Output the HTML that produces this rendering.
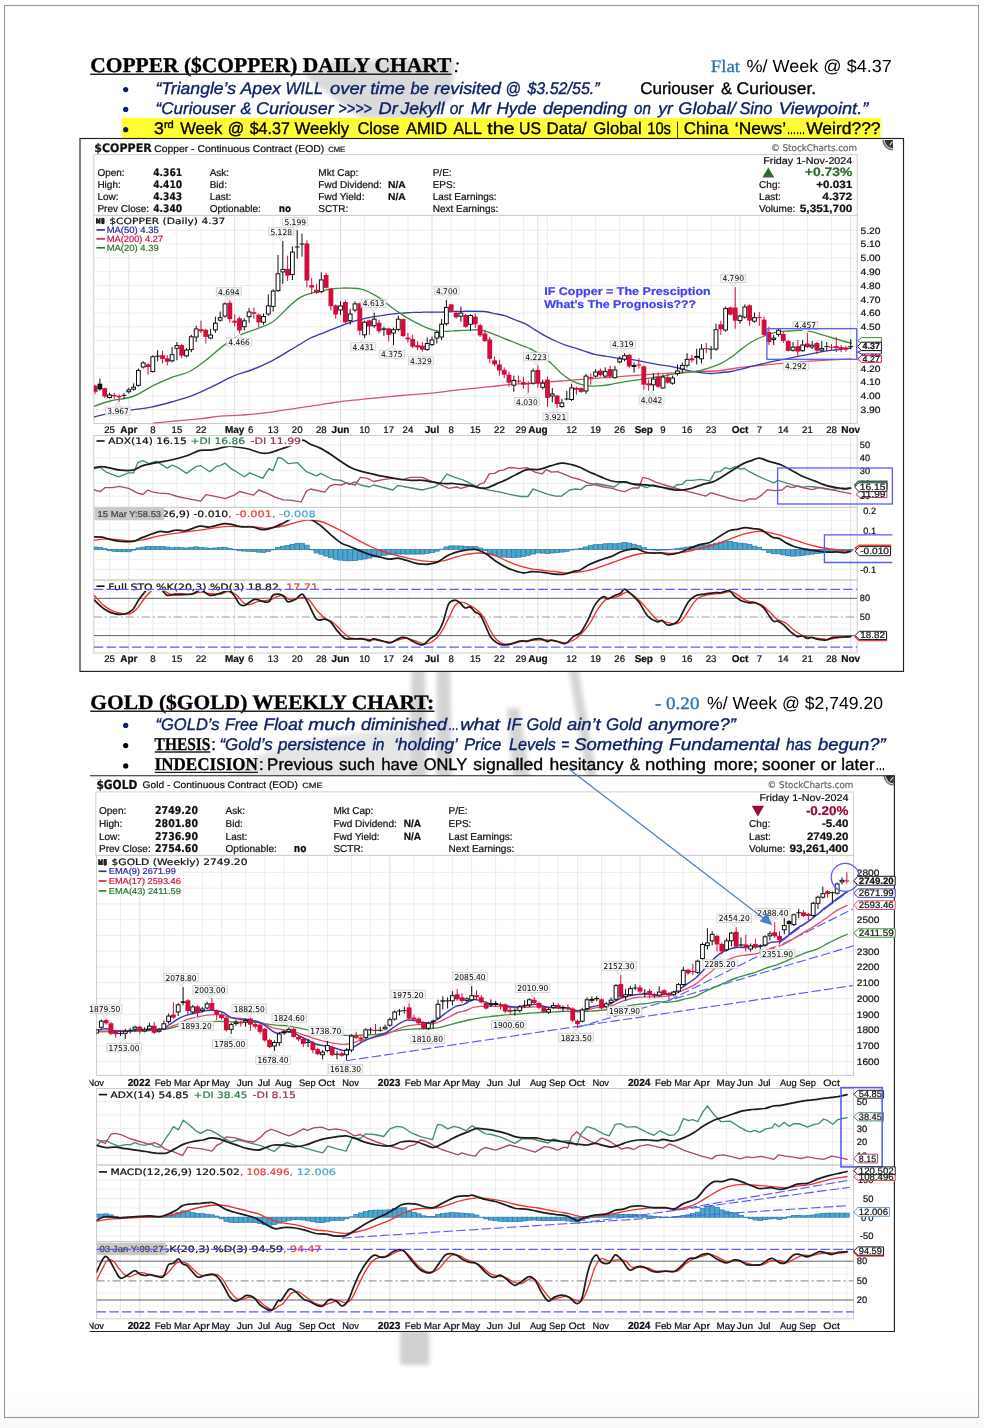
<!DOCTYPE html>
<html lang="en"><head><meta charset="utf-8"><title>Copper &amp; Gold Charts</title>
<style>
html,body{margin:0;padding:0;background:#fff;}
body{width:984px;height:1428px;overflow:hidden;font-family:"Liberation Sans",sans-serif;}
svg{display:block;}
</style></head><body>
<svg width="984" height="1428" viewBox="0 0 984 1428" text-rendering="geometricPrecision">
<rect x="0" y="0" width="984" height="1428" fill="#ffffff" />
<defs><linearGradient id="pg" x1="0" y1="0" x2="0" y2="1"><stop offset="0" stop-color="#fff"/><stop offset="1" stop-color="#f9f9f9"/></linearGradient><filter id="bl" x="-20%" y="-20%" width="140%" height="140%"><feGaussianBlur stdDeviation="2.2"/></filter><filter id="soft" x="-2%" y="-2%" width="104%" height="104%"><feGaussianBlur stdDeviation="0.25"/></filter><clipPath id="cuP"><rect x="93.8" y="215.4" width="763.4" height="208.1"/></clipPath><clipPath id="cuA"><rect x="93.8" y="435.5" width="763.4" height="71.9"/></clipPath><clipPath id="cuM"><rect x="93.8" y="507.4" width="763.4" height="72.6"/></clipPath><clipPath id="cuS"><rect x="93.8" y="580" width="763.4" height="73"/></clipPath><clipPath id="auP"><rect x="96.6" y="855.4" width="757" height="220"/></clipPath><clipPath id="auA"><rect x="96.6" y="1088.5" width="763.5" height="76.5"/></clipPath><clipPath id="auM"><rect x="96.6" y="1165" width="763.5" height="76.5"/></clipPath><clipPath id="auS"><rect x="96.6" y="1241.5" width="763.5" height="77.3"/></clipPath><clipPath id="auAll"><rect x="89.5" y="775" width="806" height="558"/></clipPath></defs>
<rect x="0" y="1392" width="984" height="36" fill="url(#pg)" />
<rect x="4.5" y="5.5" width="974" height="1412" fill="none" stroke="#989898" stroke-width="1.1" />
<g filter="url(#bl)" fill="#cbcbcb"><path d="M305,76 L335,60 L455,60 L452,100 L420,120 L360,118 Z" opacity="0.7"/><path d="M411.5,666 L425,666 L427,780 L409,780 Z" opacity="0.85"/><path d="M437,666 L450,666 L452,780 L436,780 Z" opacity="0.85"/><path d="M507,708 L519,708 L531,780 L513,780 Z" opacity="0.8"/><path d="M568,666 L578,666 L597.5,780 L587,780 Z" opacity="0.8"/><path d="M225,778 C250,752 300,734 408,730 L408,778 Z" opacity="0.5"/><rect x="400" y="1330" width="29.5" height="35" rx="3" opacity="0.9"/></g>
<text x="90.2" y="71.6" font-size="21" fill="#000" font-family="'Liberation Serif',serif" font-weight="bold" textLength="361.2" lengthAdjust="spacingAndGlyphs" stroke="#000" stroke-width="0.35">COPPER ($COPPER) DAILY CHART</text>
<line x1="90.2" y1="74.3" x2="451.6" y2="74.3" stroke="#222" stroke-width="1.6" />
<text x="453.5" y="71.6" font-size="21" fill="#000" font-family="'Liberation Serif',serif" font-style="italic">:</text>
<text x="710.7" y="71.6" font-size="17.5" fill="#2e75b6" font-family="'Liberation Serif',serif" textLength="29.4" lengthAdjust="spacingAndGlyphs" stroke="#2e75b6" stroke-width="0.3">Flat</text>
<text x="746.5" y="71.6" font-size="17.6" fill="#000" font-family="'Liberation Sans',sans-serif" textLength="145.3" lengthAdjust="spacingAndGlyphs">%/ Week @ $4.37</text>
<circle cx="125.7" cy="89.6" r="2.6" fill="#0d2266"/>
<text x="155.5" y="93.8" font-size="16.8" fill="#0d2266" font-family="'Liberation Sans',sans-serif" stroke="#0d2266" stroke-width="0.35" font-style="italic" textLength="80.5" lengthAdjust="spacingAndGlyphs">“Triangle’s</text><text x="240.5" y="93.8" font-size="16.8" fill="#0d2266" font-family="'Liberation Sans',sans-serif" stroke="#0d2266" stroke-width="0.35" font-style="italic" textLength="40.3" lengthAdjust="spacingAndGlyphs">Apex</text><text x="285.4" y="93.8" font-size="16.8" fill="#0d2266" font-family="'Liberation Sans',sans-serif" stroke="#0d2266" stroke-width="0.35" font-style="italic" textLength="37.5" lengthAdjust="spacingAndGlyphs">WILL</text><text x="330" y="93.8" font-size="16.8" fill="#0d2266" font-family="'Liberation Sans',sans-serif" stroke="#0d2266" stroke-width="0.35" font-style="italic" textLength="35.7" lengthAdjust="spacingAndGlyphs">over</text><text x="370.2" y="93.8" font-size="16.8" fill="#0d2266" font-family="'Liberation Sans',sans-serif" stroke="#0d2266" stroke-width="0.35" font-style="italic" textLength="34.8" lengthAdjust="spacingAndGlyphs">time</text><text x="410.5" y="93.8" font-size="16.8" fill="#0d2266" font-family="'Liberation Sans',sans-serif" stroke="#0d2266" stroke-width="0.35" font-style="italic" textLength="18.3" lengthAdjust="spacingAndGlyphs">be</text><text x="434.3" y="93.8" font-size="16.8" fill="#0d2266" font-family="'Liberation Sans',sans-serif" stroke="#0d2266" stroke-width="0.35" font-style="italic" textLength="66.7" lengthAdjust="spacingAndGlyphs">revisited</text><text x="505.6" y="93.8" font-size="16.8" fill="#0d2266" font-family="'Liberation Sans',sans-serif" stroke="#0d2266" stroke-width="0.35" font-style="italic" textLength="15.4" lengthAdjust="spacingAndGlyphs">@</text><text x="527.4" y="93.8" font-size="16.8" fill="#0d2266" font-family="'Liberation Sans',sans-serif" stroke="#0d2266" stroke-width="0.35" font-style="italic" textLength="72.2" lengthAdjust="spacingAndGlyphs">$3.52/55.”</text>
<text x="640.2" y="93.8" font-size="16.8" fill="#000" font-family="'Liberation Sans',sans-serif" stroke="#000" stroke-width="0.35" textLength="73.6" lengthAdjust="spacingAndGlyphs">Curiouser</text><text x="721.1" y="93.8" font-size="16.8" fill="#000" font-family="'Liberation Sans',sans-serif" stroke="#000" stroke-width="0.35" textLength="11" lengthAdjust="spacingAndGlyphs">&amp;</text><text x="736.6" y="93.8" font-size="16.8" fill="#000" font-family="'Liberation Sans',sans-serif" stroke="#000" stroke-width="0.35" textLength="79.6" lengthAdjust="spacingAndGlyphs">Curiouser.</text>
<circle cx="125.7" cy="109.4" r="2.6" fill="#0d2266"/>
<text x="155.5" y="113.6" font-size="16.8" fill="#0d2266" font-family="'Liberation Sans',sans-serif" stroke="#0d2266" stroke-width="0.35" font-style="italic" textLength="79.6" lengthAdjust="spacingAndGlyphs">“Curiouser</text><text x="240.5" y="113.6" font-size="16.8" fill="#0d2266" font-family="'Liberation Sans',sans-serif" stroke="#0d2266" stroke-width="0.35" font-style="italic" textLength="11" lengthAdjust="spacingAndGlyphs">&amp;</text><text x="256.1" y="113.6" font-size="16.8" fill="#0d2266" font-family="'Liberation Sans',sans-serif" stroke="#0d2266" stroke-width="0.35" font-style="italic" textLength="77.6" lengthAdjust="spacingAndGlyphs">Curiouser</text><text x="338.2" y="113.6" font-size="16.8" fill="#0d2266" font-family="'Liberation Sans',sans-serif" stroke="#0d2266" stroke-width="0.35" font-style="italic" textLength="33.9" lengthAdjust="spacingAndGlyphs">&gt;&gt;&gt;&gt;</text><text x="378.5" y="113.6" font-size="16.8" fill="#0d2266" font-family="'Liberation Sans',sans-serif" stroke="#0d2266" stroke-width="0.35" font-style="italic" textLength="19.2" lengthAdjust="spacingAndGlyphs">Dr</text><text x="400.4" y="113.6" font-size="16.8" fill="#0d2266" font-family="'Liberation Sans',sans-serif" stroke="#0d2266" stroke-width="0.35" font-style="italic" textLength="43.9" lengthAdjust="spacingAndGlyphs">Jekyll</text><text x="449.8" y="113.6" font-size="16.8" fill="#0d2266" font-family="'Liberation Sans',sans-serif" stroke="#0d2266" stroke-width="0.35" font-style="italic" textLength="13.7" lengthAdjust="spacingAndGlyphs">or</text><text x="470.8" y="113.6" font-size="16.8" fill="#0d2266" font-family="'Liberation Sans',sans-serif" stroke="#0d2266" stroke-width="0.35" font-style="italic" textLength="20.2" lengthAdjust="spacingAndGlyphs">Mr</text><text x="496.4" y="113.6" font-size="16.8" fill="#0d2266" font-family="'Liberation Sans',sans-serif" stroke="#0d2266" stroke-width="0.35" font-style="italic" textLength="40.1" lengthAdjust="spacingAndGlyphs">Hyde</text><text x="542.9" y="113.6" font-size="16.8" fill="#0d2266" font-family="'Liberation Sans',sans-serif" stroke="#0d2266" stroke-width="0.35" font-style="italic" textLength="84.2" lengthAdjust="spacingAndGlyphs">depending</text><text x="634" y="113.6" font-size="16.8" fill="#0d2266" font-family="'Liberation Sans',sans-serif" stroke="#0d2266" stroke-width="0.35" font-style="italic" textLength="16.8" lengthAdjust="spacingAndGlyphs">on</text><text x="658.2" y="113.6" font-size="16.8" fill="#0d2266" font-family="'Liberation Sans',sans-serif" stroke="#0d2266" stroke-width="0.35" font-style="italic" textLength="14.6" lengthAdjust="spacingAndGlyphs">yr</text><text x="678.3" y="113.6" font-size="16.8" fill="#0d2266" font-family="'Liberation Sans',sans-serif" stroke="#0d2266" stroke-width="0.35" font-style="italic" textLength="57.4" lengthAdjust="spacingAndGlyphs">Global/</text><text x="739.4" y="113.6" font-size="16.8" fill="#0d2266" font-family="'Liberation Sans',sans-serif" stroke="#0d2266" stroke-width="0.35" font-style="italic" textLength="32.9" lengthAdjust="spacingAndGlyphs">Sino</text><text x="778.7" y="113.6" font-size="16.8" fill="#0d2266" font-family="'Liberation Sans',sans-serif" stroke="#0d2266" stroke-width="0.35" font-style="italic" textLength="89.6" lengthAdjust="spacingAndGlyphs">Viewpoint.”</text>
<rect x="121.9" y="117.8" width="759" height="20.5" fill="#ffff33" />
<circle cx="125.7" cy="129.7" r="2.6" fill="#0d2266"/>
<text x="154" y="133.9" font-size="16.8" fill="#000" font-family="'Liberation Sans',sans-serif" stroke="#000" stroke-width="0.35" textLength="19.8" lengthAdjust="spacingAndGlyphs">3<tspan font-size="10.5" dy="-5.5">rd</tspan></text>
<text x="180.2" y="133.9" font-size="16.8" fill="#000" font-family="'Liberation Sans',sans-serif" stroke="#000" stroke-width="0.35" textLength="42.1" lengthAdjust="spacingAndGlyphs">Week</text><text x="227.7" y="133.9" font-size="16.8" fill="#000" font-family="'Liberation Sans',sans-serif" stroke="#000" stroke-width="0.35" textLength="16.5" lengthAdjust="spacingAndGlyphs">@</text><text x="249.7" y="133.9" font-size="16.8" fill="#000" font-family="'Liberation Sans',sans-serif" stroke="#000" stroke-width="0.35" textLength="40.2" lengthAdjust="spacingAndGlyphs">$4.37</text><text x="294.5" y="133.9" font-size="16.8" fill="#000" font-family="'Liberation Sans',sans-serif" stroke="#000" stroke-width="0.35" textLength="54.7" lengthAdjust="spacingAndGlyphs">Weekly</text><text x="357.4" y="133.9" font-size="16.8" fill="#000" font-family="'Liberation Sans',sans-serif" stroke="#000" stroke-width="0.35" textLength="42.1" lengthAdjust="spacingAndGlyphs">Close</text><text x="405.9" y="133.9" font-size="16.8" fill="#000" font-family="'Liberation Sans',sans-serif" stroke="#000" stroke-width="0.35" textLength="41.2" lengthAdjust="spacingAndGlyphs">AMID</text><text x="453.5" y="133.9" font-size="16.8" fill="#000" font-family="'Liberation Sans',sans-serif" stroke="#000" stroke-width="0.35" textLength="28.3" lengthAdjust="spacingAndGlyphs">ALL</text><text x="487.3" y="133.9" font-size="16.8" fill="#000" font-family="'Liberation Sans',sans-serif" stroke="#000" stroke-width="0.35" textLength="27.3" lengthAdjust="spacingAndGlyphs">the</text><text x="519.1" y="133.9" font-size="16.8" fill="#000" font-family="'Liberation Sans',sans-serif" stroke="#000" stroke-width="0.35" textLength="22" lengthAdjust="spacingAndGlyphs">US</text><text x="546.6" y="133.9" font-size="16.8" fill="#000" font-family="'Liberation Sans',sans-serif" stroke="#000" stroke-width="0.35" textLength="40.2" lengthAdjust="spacingAndGlyphs">Data/</text><text x="593.2" y="133.9" font-size="16.8" fill="#000" font-family="'Liberation Sans',sans-serif" stroke="#000" stroke-width="0.35" textLength="48.5" lengthAdjust="spacingAndGlyphs">Global</text><text x="647.2" y="133.9" font-size="16.8" fill="#000" font-family="'Liberation Sans',sans-serif" stroke="#000" stroke-width="0.35" textLength="23.8" lengthAdjust="spacingAndGlyphs">10s</text><text x="676.6" y="133.9" font-size="16.8" fill="#000" font-family="'Liberation Sans',sans-serif" stroke="#000" stroke-width="0.35" textLength="2.2" lengthAdjust="spacingAndGlyphs">|</text><text x="683.8" y="133.9" font-size="16.8" fill="#000" font-family="'Liberation Sans',sans-serif" stroke="#000" stroke-width="0.35" textLength="44.6" lengthAdjust="spacingAndGlyphs">China</text><text x="734.8" y="133.9" font-size="16.8" fill="#000" font-family="'Liberation Sans',sans-serif" stroke="#000" stroke-width="0.35" textLength="51.2" lengthAdjust="spacingAndGlyphs">‘News’</text><text x="787" y="133.9" font-size="16.8" fill="#000" font-family="'Liberation Sans',sans-serif" stroke="#000" stroke-width="0.35" textLength="18.2" lengthAdjust="spacingAndGlyphs">……</text><text x="806.2" y="133.9" font-size="16.8" fill="#000" font-family="'Liberation Sans',sans-serif" stroke="#000" stroke-width="0.35" textLength="74.4" lengthAdjust="spacingAndGlyphs">Weird???</text>
<g id="copper"><g filter="url(#soft)"><rect x="80" y="138.5" width="823.5" height="532.9" fill="#fff" stroke="#222" stroke-width="1.15" />
<path d="M882.4,140 A10.6,10.6 0 0 0 893,150.6 L893,140 Z" fill="#747474"/><path d="M884,140 A9,9 0 0 0 893,149 L893,140 Z" fill="#e8e8e8"/><path d="M884.8,140 A8.2,8.2 0 0 0 893,148.2 L893,140 Z" fill="#303030"/><path d="M892.4,141.6 l-2.6,3.6" stroke="#eee" stroke-width="1.1" fill="none"/>
<text x="94.3" y="151.8" font-size="11.8" fill="#111" font-family="'DejaVu Sans','Liberation Sans',sans-serif" font-weight="bold" textLength="57.4" lengthAdjust="spacingAndGlyphs" stroke="#111" stroke-width="0.22">$COPPER</text>
<text x="154.2" y="151.6" font-size="9.8" fill="#111" font-family="'Liberation Sans',sans-serif" textLength="170" lengthAdjust="spacingAndGlyphs" stroke="#111" stroke-width="0.22">Copper - Continuous Contract (EOD)</text>
<text x="328.2" y="151.6" font-size="7.6" fill="#111" font-family="'Liberation Sans',sans-serif" textLength="17" lengthAdjust="spacingAndGlyphs" stroke="#111" stroke-width="0.22">CME</text>
<text x="771" y="151.3" font-size="9.2" fill="#666" font-family="'DejaVu Sans','Liberation Sans',sans-serif" textLength="86" lengthAdjust="spacingAndGlyphs" stroke="#666" stroke-width="0.22">© StockCharts.com</text>
<rect x="93.8" y="154.6" width="763.4" height="60.8" fill="#fff" stroke="#cfcfcf" stroke-width="1" />
<text x="97.4" y="175.8" font-size="10" fill="#111" font-family="'Liberation Sans',sans-serif" stroke="#111" stroke-width="0.22">Open:</text>
<text x="153.2" y="175.8" font-size="10.4" fill="#111" font-family="'DejaVu Sans','Liberation Sans',sans-serif" font-weight="bold" textLength="29" lengthAdjust="spacingAndGlyphs" stroke="#111" stroke-width="0.22">4.361</text>
<text x="97.4" y="188.1" font-size="10" fill="#111" font-family="'Liberation Sans',sans-serif" stroke="#111" stroke-width="0.22">High:</text>
<text x="153.2" y="188.1" font-size="10.4" fill="#111" font-family="'DejaVu Sans','Liberation Sans',sans-serif" font-weight="bold" textLength="29" lengthAdjust="spacingAndGlyphs" stroke="#111" stroke-width="0.22">4.410</text>
<text x="97.4" y="200" font-size="10" fill="#111" font-family="'Liberation Sans',sans-serif" stroke="#111" stroke-width="0.22">Low:</text>
<text x="153.2" y="200" font-size="10.4" fill="#111" font-family="'DejaVu Sans','Liberation Sans',sans-serif" font-weight="bold" textLength="29" lengthAdjust="spacingAndGlyphs" stroke="#111" stroke-width="0.22">4.343</text>
<text x="97.4" y="212.1" font-size="10" fill="#111" font-family="'Liberation Sans',sans-serif" stroke="#111" stroke-width="0.22">Prev Close:</text>
<text x="153.2" y="212.1" font-size="10.4" fill="#111" font-family="'DejaVu Sans','Liberation Sans',sans-serif" font-weight="bold" textLength="29" lengthAdjust="spacingAndGlyphs" stroke="#111" stroke-width="0.22">4.340</text>
<text x="209.7" y="175.8" font-size="10" fill="#111" font-family="'Liberation Sans',sans-serif" stroke="#111" stroke-width="0.22">Ask:</text>
<text x="209.7" y="188.1" font-size="10" fill="#111" font-family="'Liberation Sans',sans-serif" stroke="#111" stroke-width="0.22">Bid:</text>
<text x="209.7" y="200" font-size="10" fill="#111" font-family="'Liberation Sans',sans-serif" stroke="#111" stroke-width="0.22">Last:</text>
<text x="209.7" y="212.1" font-size="10" fill="#111" font-family="'Liberation Sans',sans-serif" stroke="#111" stroke-width="0.22">Optionable:</text>
<text x="278.7" y="212.1" font-size="10.4" fill="#111" font-family="'DejaVu Sans','Liberation Sans',sans-serif" font-weight="bold" textLength="12.3" lengthAdjust="spacingAndGlyphs" stroke="#111" stroke-width="0.22">no</text>
<text x="318.3" y="175.8" font-size="10" fill="#111" font-family="'Liberation Sans',sans-serif" stroke="#111" stroke-width="0.22">Mkt Cap:</text>
<text x="318.3" y="188.1" font-size="10" fill="#111" font-family="'Liberation Sans',sans-serif" stroke="#111" stroke-width="0.22">Fwd Dividend:</text>
<text x="318.3" y="200" font-size="10" fill="#111" font-family="'Liberation Sans',sans-serif" stroke="#111" stroke-width="0.22">Fwd Yield:</text>
<text x="318.3" y="212.1" font-size="10" fill="#111" font-family="'Liberation Sans',sans-serif" stroke="#111" stroke-width="0.22">SCTR:</text>
<text x="388.1" y="188.1" font-size="10" fill="#111" font-family="'Liberation Sans',sans-serif" font-weight="bold" textLength="17.7" lengthAdjust="spacingAndGlyphs" stroke="#111" stroke-width="0.22">N/A</text>
<text x="388.1" y="200" font-size="10" fill="#111" font-family="'Liberation Sans',sans-serif" font-weight="bold" textLength="17.7" lengthAdjust="spacingAndGlyphs" stroke="#111" stroke-width="0.22">N/A</text>
<text x="432.7" y="175.8" font-size="10" fill="#111" font-family="'Liberation Sans',sans-serif" stroke="#111" stroke-width="0.22">P/E:</text>
<text x="432.7" y="188.1" font-size="10" fill="#111" font-family="'Liberation Sans',sans-serif" stroke="#111" stroke-width="0.22">EPS:</text>
<text x="432.7" y="200" font-size="10" fill="#111" font-family="'Liberation Sans',sans-serif" stroke="#111" stroke-width="0.22">Last Earnings:</text>
<text x="432.7" y="212.1" font-size="10" fill="#111" font-family="'Liberation Sans',sans-serif" stroke="#111" stroke-width="0.22">Next Earnings:</text>
<text x="852.3" y="164" font-size="9.8" fill="#111" font-family="'Liberation Sans',sans-serif" text-anchor="end" textLength="89" lengthAdjust="spacingAndGlyphs" stroke="#111" stroke-width="0.22">Friday  1-Nov-2024</text>
<path d="M762.3,177.6 L768.3,167.4 L774.3,177.6 Z" fill="#2f6b32"/>
<text x="852.3" y="176.4" font-size="12.2" fill="#2f6b32" font-family="'Liberation Sans',sans-serif" font-weight="bold" text-anchor="end" textLength="47.5" lengthAdjust="spacingAndGlyphs" stroke="#2f6b32" stroke-width="0.22">+0.73%</text>
<text x="759.1" y="188.1" font-size="10" fill="#111" font-family="'Liberation Sans',sans-serif" stroke="#111" stroke-width="0.22">Chg:</text>
<text x="852.3" y="188.1" font-size="10.6" fill="#111" font-family="'Liberation Sans',sans-serif" font-weight="bold" text-anchor="end" textLength="36" lengthAdjust="spacingAndGlyphs" stroke="#111" stroke-width="0.22">+0.031</text>
<text x="759.1" y="200" font-size="10" fill="#111" font-family="'Liberation Sans',sans-serif" stroke="#111" stroke-width="0.22">Last:</text>
<text x="852.3" y="200" font-size="10.6" fill="#111" font-family="'Liberation Sans',sans-serif" font-weight="bold" text-anchor="end" textLength="30" lengthAdjust="spacingAndGlyphs" stroke="#111" stroke-width="0.22">4.372</text>
<text x="759.1" y="212.1" font-size="10" fill="#111" font-family="'Liberation Sans',sans-serif" stroke="#111" stroke-width="0.22">Volume:</text>
<text x="852.3" y="212.1" font-size="10.6" fill="#111" font-family="'Liberation Sans',sans-serif" font-weight="bold" text-anchor="end" textLength="52.5" lengthAdjust="spacingAndGlyphs" stroke="#111" stroke-width="0.22">5,351,700</text>
<rect x="93.8" y="215.4" width="763.4" height="208.1" fill="#fff" />
<rect x="93.8" y="435.5" width="763.4" height="71.9" fill="#fff" />
<rect x="93.8" y="507.4" width="763.4" height="72.6" fill="#fff" />
<rect x="93.8" y="580" width="763.4" height="73" fill="#fff" />
</g><g><g><line x1="109.5" y1="215.4" x2="109.5" y2="423.5" stroke="#e7e7e7" stroke-width="0.8" /><line x1="109.5" y1="435.5" x2="109.5" y2="653" stroke="#e7e7e7" stroke-width="0.8" /><line x1="128.8" y1="215.4" x2="128.8" y2="423.5" stroke="#d4d4d4" stroke-width="0.8" /><line x1="128.8" y1="435.5" x2="128.8" y2="653" stroke="#d4d4d4" stroke-width="0.8" /><line x1="152.8" y1="215.4" x2="152.8" y2="423.5" stroke="#e7e7e7" stroke-width="0.8" /><line x1="152.8" y1="435.5" x2="152.8" y2="653" stroke="#e7e7e7" stroke-width="0.8" /><line x1="176.9" y1="215.4" x2="176.9" y2="423.5" stroke="#e7e7e7" stroke-width="0.8" /><line x1="176.9" y1="435.5" x2="176.9" y2="653" stroke="#e7e7e7" stroke-width="0.8" /><line x1="201" y1="215.4" x2="201" y2="423.5" stroke="#e7e7e7" stroke-width="0.8" /><line x1="201" y1="435.5" x2="201" y2="653" stroke="#e7e7e7" stroke-width="0.8" /><line x1="225" y1="215.4" x2="225" y2="423.5" stroke="#e7e7e7" stroke-width="0.8" /><line x1="225" y1="435.5" x2="225" y2="653" stroke="#e7e7e7" stroke-width="0.8" /><line x1="234.7" y1="215.4" x2="234.7" y2="423.5" stroke="#d4d4d4" stroke-width="0.8" /><line x1="234.7" y1="435.5" x2="234.7" y2="653" stroke="#d4d4d4" stroke-width="0.8" /><line x1="249.1" y1="215.4" x2="249.1" y2="423.5" stroke="#e7e7e7" stroke-width="0.8" /><line x1="249.1" y1="435.5" x2="249.1" y2="653" stroke="#e7e7e7" stroke-width="0.8" /><line x1="273.2" y1="215.4" x2="273.2" y2="423.5" stroke="#e7e7e7" stroke-width="0.8" /><line x1="273.2" y1="435.5" x2="273.2" y2="653" stroke="#e7e7e7" stroke-width="0.8" /><line x1="297.2" y1="215.4" x2="297.2" y2="423.5" stroke="#e7e7e7" stroke-width="0.8" /><line x1="297.2" y1="435.5" x2="297.2" y2="653" stroke="#e7e7e7" stroke-width="0.8" /><line x1="321.3" y1="215.4" x2="321.3" y2="423.5" stroke="#e7e7e7" stroke-width="0.8" /><line x1="321.3" y1="435.5" x2="321.3" y2="653" stroke="#e7e7e7" stroke-width="0.8" /><line x1="340.5" y1="215.4" x2="340.5" y2="423.5" stroke="#d4d4d4" stroke-width="0.8" /><line x1="340.5" y1="435.5" x2="340.5" y2="653" stroke="#d4d4d4" stroke-width="0.8" /><line x1="364.6" y1="215.4" x2="364.6" y2="423.5" stroke="#e7e7e7" stroke-width="0.8" /><line x1="364.6" y1="435.5" x2="364.6" y2="653" stroke="#e7e7e7" stroke-width="0.8" /><line x1="388.7" y1="215.4" x2="388.7" y2="423.5" stroke="#e7e7e7" stroke-width="0.8" /><line x1="388.7" y1="435.5" x2="388.7" y2="653" stroke="#e7e7e7" stroke-width="0.8" /><line x1="407.9" y1="215.4" x2="407.9" y2="423.5" stroke="#e7e7e7" stroke-width="0.8" /><line x1="407.9" y1="435.5" x2="407.9" y2="653" stroke="#e7e7e7" stroke-width="0.8" /><line x1="432" y1="215.4" x2="432" y2="423.5" stroke="#d4d4d4" stroke-width="0.8" /><line x1="432" y1="435.5" x2="432" y2="653" stroke="#d4d4d4" stroke-width="0.8" /><line x1="451.2" y1="215.4" x2="451.2" y2="423.5" stroke="#e7e7e7" stroke-width="0.8" /><line x1="451.2" y1="435.5" x2="451.2" y2="653" stroke="#e7e7e7" stroke-width="0.8" /><line x1="475.3" y1="215.4" x2="475.3" y2="423.5" stroke="#e7e7e7" stroke-width="0.8" /><line x1="475.3" y1="435.5" x2="475.3" y2="653" stroke="#e7e7e7" stroke-width="0.8" /><line x1="499.4" y1="215.4" x2="499.4" y2="423.5" stroke="#e7e7e7" stroke-width="0.8" /><line x1="499.4" y1="435.5" x2="499.4" y2="653" stroke="#e7e7e7" stroke-width="0.8" /><line x1="523.4" y1="215.4" x2="523.4" y2="423.5" stroke="#e7e7e7" stroke-width="0.8" /><line x1="523.4" y1="435.5" x2="523.4" y2="653" stroke="#e7e7e7" stroke-width="0.8" /><line x1="537.9" y1="215.4" x2="537.9" y2="423.5" stroke="#d4d4d4" stroke-width="0.8" /><line x1="537.9" y1="435.5" x2="537.9" y2="653" stroke="#d4d4d4" stroke-width="0.8" /><line x1="547.5" y1="215.4" x2="547.5" y2="423.5" stroke="#e7e7e7" stroke-width="0.8" /><line x1="547.5" y1="435.5" x2="547.5" y2="653" stroke="#e7e7e7" stroke-width="0.8" /><line x1="571.6" y1="215.4" x2="571.6" y2="423.5" stroke="#e7e7e7" stroke-width="0.8" /><line x1="571.6" y1="435.5" x2="571.6" y2="653" stroke="#e7e7e7" stroke-width="0.8" /><line x1="595.6" y1="215.4" x2="595.6" y2="423.5" stroke="#e7e7e7" stroke-width="0.8" /><line x1="595.6" y1="435.5" x2="595.6" y2="653" stroke="#e7e7e7" stroke-width="0.8" /><line x1="619.7" y1="215.4" x2="619.7" y2="423.5" stroke="#e7e7e7" stroke-width="0.8" /><line x1="619.7" y1="435.5" x2="619.7" y2="653" stroke="#e7e7e7" stroke-width="0.8" /><line x1="643.8" y1="215.4" x2="643.8" y2="423.5" stroke="#d4d4d4" stroke-width="0.8" /><line x1="643.8" y1="435.5" x2="643.8" y2="653" stroke="#d4d4d4" stroke-width="0.8" /><line x1="663" y1="215.4" x2="663" y2="423.5" stroke="#e7e7e7" stroke-width="0.8" /><line x1="663" y1="435.5" x2="663" y2="653" stroke="#e7e7e7" stroke-width="0.8" /><line x1="687.1" y1="215.4" x2="687.1" y2="423.5" stroke="#e7e7e7" stroke-width="0.8" /><line x1="687.1" y1="435.5" x2="687.1" y2="653" stroke="#e7e7e7" stroke-width="0.8" /><line x1="711.1" y1="215.4" x2="711.1" y2="423.5" stroke="#e7e7e7" stroke-width="0.8" /><line x1="711.1" y1="435.5" x2="711.1" y2="653" stroke="#e7e7e7" stroke-width="0.8" /><line x1="735.2" y1="215.4" x2="735.2" y2="423.5" stroke="#e7e7e7" stroke-width="0.8" /><line x1="735.2" y1="435.5" x2="735.2" y2="653" stroke="#e7e7e7" stroke-width="0.8" /><line x1="740" y1="215.4" x2="740" y2="423.5" stroke="#d4d4d4" stroke-width="0.8" /><line x1="740" y1="435.5" x2="740" y2="653" stroke="#d4d4d4" stroke-width="0.8" /><line x1="759.3" y1="215.4" x2="759.3" y2="423.5" stroke="#e7e7e7" stroke-width="0.8" /><line x1="759.3" y1="435.5" x2="759.3" y2="653" stroke="#e7e7e7" stroke-width="0.8" /><line x1="783.3" y1="215.4" x2="783.3" y2="423.5" stroke="#e7e7e7" stroke-width="0.8" /><line x1="783.3" y1="435.5" x2="783.3" y2="653" stroke="#e7e7e7" stroke-width="0.8" /><line x1="807.4" y1="215.4" x2="807.4" y2="423.5" stroke="#e7e7e7" stroke-width="0.8" /><line x1="807.4" y1="435.5" x2="807.4" y2="653" stroke="#e7e7e7" stroke-width="0.8" /><line x1="831.5" y1="215.4" x2="831.5" y2="423.5" stroke="#e7e7e7" stroke-width="0.8" /><line x1="831.5" y1="435.5" x2="831.5" y2="653" stroke="#e7e7e7" stroke-width="0.8" /><line x1="850.7" y1="215.4" x2="850.7" y2="423.5" stroke="#d4d4d4" stroke-width="0.8" /><line x1="850.7" y1="435.5" x2="850.7" y2="653" stroke="#d4d4d4" stroke-width="0.8" /><line x1="93.8" y1="230.3" x2="857.2" y2="230.3" stroke="#e7e7e7" stroke-width="0.8" /><line x1="93.8" y1="244.1" x2="857.2" y2="244.1" stroke="#e7e7e7" stroke-width="0.8" /><line x1="93.8" y1="257.9" x2="857.2" y2="257.9" stroke="#e7e7e7" stroke-width="0.8" /><line x1="93.8" y1="271.7" x2="857.2" y2="271.7" stroke="#e7e7e7" stroke-width="0.8" /><line x1="93.8" y1="285.5" x2="857.2" y2="285.5" stroke="#e7e7e7" stroke-width="0.8" /><line x1="93.8" y1="299.2" x2="857.2" y2="299.2" stroke="#e7e7e7" stroke-width="0.8" /><line x1="93.8" y1="313" x2="857.2" y2="313" stroke="#e7e7e7" stroke-width="0.8" /><line x1="93.8" y1="326.8" x2="857.2" y2="326.8" stroke="#e7e7e7" stroke-width="0.8" /><line x1="93.8" y1="340.6" x2="857.2" y2="340.6" stroke="#e7e7e7" stroke-width="0.8" /><line x1="93.8" y1="354.4" x2="857.2" y2="354.4" stroke="#e7e7e7" stroke-width="0.8" /><line x1="93.8" y1="368.2" x2="857.2" y2="368.2" stroke="#e7e7e7" stroke-width="0.8" /><line x1="93.8" y1="382" x2="857.2" y2="382" stroke="#e7e7e7" stroke-width="0.8" /><line x1="93.8" y1="395.8" x2="857.2" y2="395.8" stroke="#e7e7e7" stroke-width="0.8" /><line x1="93.8" y1="409.6" x2="857.2" y2="409.6" stroke="#e7e7e7" stroke-width="0.8" /><line x1="93.8" y1="445.1" x2="857.2" y2="445.1" stroke="#e7e7e7" stroke-width="0.8" /><line x1="93.8" y1="457.9" x2="857.2" y2="457.9" stroke="#e7e7e7" stroke-width="0.8" /><line x1="93.8" y1="470.6" x2="857.2" y2="470.6" stroke="#e7e7e7" stroke-width="0.8" /><line x1="93.8" y1="483.4" x2="857.2" y2="483.4" stroke="#e7e7e7" stroke-width="0.8" /><line x1="93.8" y1="496.1" x2="857.2" y2="496.1" stroke="#e7e7e7" stroke-width="0.8" /><line x1="93.8" y1="510.8" x2="857.2" y2="510.8" stroke="#e7e7e7" stroke-width="0.8" /><line x1="93.8" y1="520.5" x2="857.2" y2="520.5" stroke="#f0f0f0" stroke-width="0.8" /><line x1="93.8" y1="530.3" x2="857.2" y2="530.3" stroke="#e7e7e7" stroke-width="0.8" /><line x1="93.8" y1="540" x2="857.2" y2="540" stroke="#f0f0f0" stroke-width="0.8" /><line x1="93.8" y1="549.8" x2="857.2" y2="549.8" stroke="#e7e7e7" stroke-width="0.8" /><line x1="93.8" y1="559.5" x2="857.2" y2="559.5" stroke="#f0f0f0" stroke-width="0.8" /><line x1="93.8" y1="569.3" x2="857.2" y2="569.3" stroke="#e7e7e7" stroke-width="0.8" /><line x1="93.8" y1="591.9" x2="857.2" y2="591.9" stroke="#f0f0f0" stroke-width="0.8" /><line x1="93.8" y1="604.4" x2="857.2" y2="604.4" stroke="#f0f0f0" stroke-width="0.8" /><line x1="93.8" y1="610.6" x2="857.2" y2="610.6" stroke="#f0f0f0" stroke-width="0.8" /><line x1="93.8" y1="623" x2="857.2" y2="623" stroke="#f0f0f0" stroke-width="0.8" /><line x1="93.8" y1="629.2" x2="857.2" y2="629.2" stroke="#f0f0f0" stroke-width="0.8" /><line x1="93.8" y1="641.7" x2="857.2" y2="641.7" stroke="#f0f0f0" stroke-width="0.8" /></g>
<rect x="93.8" y="215.4" width="763.4" height="208.1" fill="none" stroke="#cdcdcd" stroke-width="1" />
<rect x="93.8" y="435.5" width="763.4" height="71.9" fill="none" stroke="#cdcdcd" stroke-width="1" />
<rect x="93.8" y="507.4" width="763.4" height="72.6" fill="none" stroke="#cdcdcd" stroke-width="1" />
<rect x="93.8" y="580" width="763.4" height="73" fill="none" stroke="#cdcdcd" stroke-width="1" />
</g><g filter="url(#soft)">
<text x="860.5" y="233.6" font-size="9.2" fill="#111" font-family="'Liberation Sans',sans-serif" textLength="20" lengthAdjust="spacingAndGlyphs" stroke="#111" stroke-width="0.22">5.20</text>
<text x="860.5" y="247.4" font-size="9.2" fill="#111" font-family="'Liberation Sans',sans-serif" textLength="20" lengthAdjust="spacingAndGlyphs" stroke="#111" stroke-width="0.22">5.10</text>
<text x="860.5" y="261.2" font-size="9.2" fill="#111" font-family="'Liberation Sans',sans-serif" textLength="20" lengthAdjust="spacingAndGlyphs" stroke="#111" stroke-width="0.22">5.00</text>
<text x="860.5" y="275" font-size="9.2" fill="#111" font-family="'Liberation Sans',sans-serif" textLength="20" lengthAdjust="spacingAndGlyphs" stroke="#111" stroke-width="0.22">4.90</text>
<text x="860.5" y="288.8" font-size="9.2" fill="#111" font-family="'Liberation Sans',sans-serif" textLength="20" lengthAdjust="spacingAndGlyphs" stroke="#111" stroke-width="0.22">4.80</text>
<text x="860.5" y="302.6" font-size="9.2" fill="#111" font-family="'Liberation Sans',sans-serif" textLength="20" lengthAdjust="spacingAndGlyphs" stroke="#111" stroke-width="0.22">4.70</text>
<text x="860.5" y="316.3" font-size="9.2" fill="#111" font-family="'Liberation Sans',sans-serif" textLength="20" lengthAdjust="spacingAndGlyphs" stroke="#111" stroke-width="0.22">4.60</text>
<text x="860.5" y="330.1" font-size="9.2" fill="#111" font-family="'Liberation Sans',sans-serif" textLength="20" lengthAdjust="spacingAndGlyphs" stroke="#111" stroke-width="0.22">4.50</text>
<text x="860.5" y="343.9" font-size="9.2" fill="#111" font-family="'Liberation Sans',sans-serif" textLength="20" lengthAdjust="spacingAndGlyphs" stroke="#111" stroke-width="0.22">4.40</text>
<text x="860.5" y="357.7" font-size="9.2" fill="#111" font-family="'Liberation Sans',sans-serif" textLength="20" lengthAdjust="spacingAndGlyphs" stroke="#111" stroke-width="0.22">4.30</text>
<text x="860.5" y="371.5" font-size="9.2" fill="#111" font-family="'Liberation Sans',sans-serif" textLength="20" lengthAdjust="spacingAndGlyphs" stroke="#111" stroke-width="0.22">4.20</text>
<text x="860.5" y="385.3" font-size="9.2" fill="#111" font-family="'Liberation Sans',sans-serif" textLength="20" lengthAdjust="spacingAndGlyphs" stroke="#111" stroke-width="0.22">4.10</text>
<text x="860.5" y="399.1" font-size="9.2" fill="#111" font-family="'Liberation Sans',sans-serif" textLength="20" lengthAdjust="spacingAndGlyphs" stroke="#111" stroke-width="0.22">4.00</text>
<text x="860.5" y="412.9" font-size="9.2" fill="#111" font-family="'Liberation Sans',sans-serif" textLength="20" lengthAdjust="spacingAndGlyphs" stroke="#111" stroke-width="0.22">3.90</text>
<text x="859.8" y="448.4" font-size="9.2" fill="#111" font-family="'Liberation Sans',sans-serif" stroke="#111" stroke-width="0.22">50</text>
<text x="859.8" y="461.2" font-size="9.2" fill="#111" font-family="'Liberation Sans',sans-serif" stroke="#111" stroke-width="0.22">40</text>
<text x="859.8" y="473.9" font-size="9.2" fill="#111" font-family="'Liberation Sans',sans-serif" stroke="#111" stroke-width="0.22">30</text>
<text x="859.8" y="486.7" font-size="9.2" fill="#111" font-family="'Liberation Sans',sans-serif" stroke="#111" stroke-width="0.22">20</text>
<text x="859.8" y="499.4" font-size="9.2" fill="#111" font-family="'Liberation Sans',sans-serif" stroke="#111" stroke-width="0.22">10</text>
<text x="876" y="514.1" font-size="9.2" fill="#111" font-family="'Liberation Sans',sans-serif" text-anchor="end" stroke="#111" stroke-width="0.22">0.2</text>
<text x="876" y="533.6" font-size="9.2" fill="#111" font-family="'Liberation Sans',sans-serif" text-anchor="end" stroke="#111" stroke-width="0.22">0.1</text>
<text x="876" y="572.6" font-size="9.2" fill="#111" font-family="'Liberation Sans',sans-serif" text-anchor="end" stroke="#111" stroke-width="0.22">-0.1</text>
<text x="859.8" y="601.4" font-size="9.2" fill="#111" font-family="'Liberation Sans',sans-serif" stroke="#111" stroke-width="0.22">80</text>
<text x="859.8" y="620.1" font-size="9.2" fill="#111" font-family="'Liberation Sans',sans-serif" stroke="#111" stroke-width="0.22">50</text>
<text x="859.8" y="638.8" font-size="9.2" fill="#111" font-family="'Liberation Sans',sans-serif" stroke="#111" stroke-width="0.22">20</text>
<text x="109.5" y="432.7" font-size="9.6" fill="#111" font-family="'Liberation Sans',sans-serif" text-anchor="middle" stroke="#111" stroke-width="0.22">25</text>
<text x="128.8" y="432.7" font-size="10" fill="#111" font-family="'Liberation Sans',sans-serif" font-weight="bold" text-anchor="middle" stroke="#111" stroke-width="0.22">Apr</text>
<text x="152.8" y="432.7" font-size="9.6" fill="#111" font-family="'Liberation Sans',sans-serif" text-anchor="middle" stroke="#111" stroke-width="0.22">8</text>
<text x="176.9" y="432.7" font-size="9.6" fill="#111" font-family="'Liberation Sans',sans-serif" text-anchor="middle" stroke="#111" stroke-width="0.22">15</text>
<text x="201" y="432.7" font-size="9.6" fill="#111" font-family="'Liberation Sans',sans-serif" text-anchor="middle" stroke="#111" stroke-width="0.22">22</text>
<text x="234.7" y="432.7" font-size="10" fill="#111" font-family="'Liberation Sans',sans-serif" font-weight="bold" text-anchor="middle" stroke="#111" stroke-width="0.22">May</text>
<text x="250.6" y="432.7" font-size="9.6" fill="#111" font-family="'Liberation Sans',sans-serif" text-anchor="middle" stroke="#111" stroke-width="0.22">6</text>
<text x="273.2" y="432.7" font-size="9.6" fill="#111" font-family="'Liberation Sans',sans-serif" text-anchor="middle" stroke="#111" stroke-width="0.22">13</text>
<text x="297.2" y="432.7" font-size="9.6" fill="#111" font-family="'Liberation Sans',sans-serif" text-anchor="middle" stroke="#111" stroke-width="0.22">20</text>
<text x="321.3" y="432.7" font-size="9.6" fill="#111" font-family="'Liberation Sans',sans-serif" text-anchor="middle" stroke="#111" stroke-width="0.22">28</text>
<text x="340.5" y="432.7" font-size="10" fill="#111" font-family="'Liberation Sans',sans-serif" font-weight="bold" text-anchor="middle" stroke="#111" stroke-width="0.22">Jun</text>
<text x="364.6" y="432.7" font-size="9.6" fill="#111" font-family="'Liberation Sans',sans-serif" text-anchor="middle" stroke="#111" stroke-width="0.22">10</text>
<text x="388.7" y="432.7" font-size="9.6" fill="#111" font-family="'Liberation Sans',sans-serif" text-anchor="middle" stroke="#111" stroke-width="0.22">17</text>
<text x="407.9" y="432.7" font-size="9.6" fill="#111" font-family="'Liberation Sans',sans-serif" text-anchor="middle" stroke="#111" stroke-width="0.22">24</text>
<text x="432" y="432.7" font-size="10" fill="#111" font-family="'Liberation Sans',sans-serif" font-weight="bold" text-anchor="middle" stroke="#111" stroke-width="0.22">Jul</text>
<text x="451.2" y="432.7" font-size="9.6" fill="#111" font-family="'Liberation Sans',sans-serif" text-anchor="middle" stroke="#111" stroke-width="0.22">8</text>
<text x="475.3" y="432.7" font-size="9.6" fill="#111" font-family="'Liberation Sans',sans-serif" text-anchor="middle" stroke="#111" stroke-width="0.22">15</text>
<text x="499.4" y="432.7" font-size="9.6" fill="#111" font-family="'Liberation Sans',sans-serif" text-anchor="middle" stroke="#111" stroke-width="0.22">22</text>
<text x="520.9" y="432.7" font-size="9.6" fill="#111" font-family="'Liberation Sans',sans-serif" text-anchor="middle" stroke="#111" stroke-width="0.22">29</text>
<text x="537.9" y="432.7" font-size="10" fill="#111" font-family="'Liberation Sans',sans-serif" font-weight="bold" text-anchor="middle" stroke="#111" stroke-width="0.22">Aug</text>
<text x="571.6" y="432.7" font-size="9.6" fill="#111" font-family="'Liberation Sans',sans-serif" text-anchor="middle" stroke="#111" stroke-width="0.22">12</text>
<text x="595.6" y="432.7" font-size="9.6" fill="#111" font-family="'Liberation Sans',sans-serif" text-anchor="middle" stroke="#111" stroke-width="0.22">19</text>
<text x="619.7" y="432.7" font-size="9.6" fill="#111" font-family="'Liberation Sans',sans-serif" text-anchor="middle" stroke="#111" stroke-width="0.22">26</text>
<text x="643.8" y="432.7" font-size="10" fill="#111" font-family="'Liberation Sans',sans-serif" font-weight="bold" text-anchor="middle" stroke="#111" stroke-width="0.22">Sep</text>
<text x="663" y="432.7" font-size="9.6" fill="#111" font-family="'Liberation Sans',sans-serif" text-anchor="middle" stroke="#111" stroke-width="0.22">9</text>
<text x="687.1" y="432.7" font-size="9.6" fill="#111" font-family="'Liberation Sans',sans-serif" text-anchor="middle" stroke="#111" stroke-width="0.22">16</text>
<text x="711.1" y="432.7" font-size="9.6" fill="#111" font-family="'Liberation Sans',sans-serif" text-anchor="middle" stroke="#111" stroke-width="0.22">23</text>
<text x="740" y="432.7" font-size="10" fill="#111" font-family="'Liberation Sans',sans-serif" font-weight="bold" text-anchor="middle" stroke="#111" stroke-width="0.22">Oct</text>
<text x="759.3" y="432.7" font-size="9.6" fill="#111" font-family="'Liberation Sans',sans-serif" text-anchor="middle" stroke="#111" stroke-width="0.22">7</text>
<text x="783.3" y="432.7" font-size="9.6" fill="#111" font-family="'Liberation Sans',sans-serif" text-anchor="middle" stroke="#111" stroke-width="0.22">14</text>
<text x="807.4" y="432.7" font-size="9.6" fill="#111" font-family="'Liberation Sans',sans-serif" text-anchor="middle" stroke="#111" stroke-width="0.22">21</text>
<text x="831.5" y="432.7" font-size="9.6" fill="#111" font-family="'Liberation Sans',sans-serif" text-anchor="middle" stroke="#111" stroke-width="0.22">28</text>
<text x="850.7" y="432.7" font-size="10" fill="#111" font-family="'Liberation Sans',sans-serif" font-weight="bold" text-anchor="middle" stroke="#111" stroke-width="0.22">Nov</text>
<text x="109.5" y="662" font-size="9.6" fill="#111" font-family="'Liberation Sans',sans-serif" text-anchor="middle" stroke="#111" stroke-width="0.22">25</text>
<text x="128.8" y="662" font-size="10" fill="#111" font-family="'Liberation Sans',sans-serif" font-weight="bold" text-anchor="middle" stroke="#111" stroke-width="0.22">Apr</text>
<text x="152.8" y="662" font-size="9.6" fill="#111" font-family="'Liberation Sans',sans-serif" text-anchor="middle" stroke="#111" stroke-width="0.22">8</text>
<text x="176.9" y="662" font-size="9.6" fill="#111" font-family="'Liberation Sans',sans-serif" text-anchor="middle" stroke="#111" stroke-width="0.22">15</text>
<text x="201" y="662" font-size="9.6" fill="#111" font-family="'Liberation Sans',sans-serif" text-anchor="middle" stroke="#111" stroke-width="0.22">22</text>
<text x="234.7" y="662" font-size="10" fill="#111" font-family="'Liberation Sans',sans-serif" font-weight="bold" text-anchor="middle" stroke="#111" stroke-width="0.22">May</text>
<text x="250.6" y="662" font-size="9.6" fill="#111" font-family="'Liberation Sans',sans-serif" text-anchor="middle" stroke="#111" stroke-width="0.22">6</text>
<text x="273.2" y="662" font-size="9.6" fill="#111" font-family="'Liberation Sans',sans-serif" text-anchor="middle" stroke="#111" stroke-width="0.22">13</text>
<text x="297.2" y="662" font-size="9.6" fill="#111" font-family="'Liberation Sans',sans-serif" text-anchor="middle" stroke="#111" stroke-width="0.22">20</text>
<text x="321.3" y="662" font-size="9.6" fill="#111" font-family="'Liberation Sans',sans-serif" text-anchor="middle" stroke="#111" stroke-width="0.22">28</text>
<text x="340.5" y="662" font-size="10" fill="#111" font-family="'Liberation Sans',sans-serif" font-weight="bold" text-anchor="middle" stroke="#111" stroke-width="0.22">Jun</text>
<text x="364.6" y="662" font-size="9.6" fill="#111" font-family="'Liberation Sans',sans-serif" text-anchor="middle" stroke="#111" stroke-width="0.22">10</text>
<text x="388.7" y="662" font-size="9.6" fill="#111" font-family="'Liberation Sans',sans-serif" text-anchor="middle" stroke="#111" stroke-width="0.22">17</text>
<text x="407.9" y="662" font-size="9.6" fill="#111" font-family="'Liberation Sans',sans-serif" text-anchor="middle" stroke="#111" stroke-width="0.22">24</text>
<text x="432" y="662" font-size="10" fill="#111" font-family="'Liberation Sans',sans-serif" font-weight="bold" text-anchor="middle" stroke="#111" stroke-width="0.22">Jul</text>
<text x="451.2" y="662" font-size="9.6" fill="#111" font-family="'Liberation Sans',sans-serif" text-anchor="middle" stroke="#111" stroke-width="0.22">8</text>
<text x="475.3" y="662" font-size="9.6" fill="#111" font-family="'Liberation Sans',sans-serif" text-anchor="middle" stroke="#111" stroke-width="0.22">15</text>
<text x="499.4" y="662" font-size="9.6" fill="#111" font-family="'Liberation Sans',sans-serif" text-anchor="middle" stroke="#111" stroke-width="0.22">22</text>
<text x="520.9" y="662" font-size="9.6" fill="#111" font-family="'Liberation Sans',sans-serif" text-anchor="middle" stroke="#111" stroke-width="0.22">29</text>
<text x="537.9" y="662" font-size="10" fill="#111" font-family="'Liberation Sans',sans-serif" font-weight="bold" text-anchor="middle" stroke="#111" stroke-width="0.22">Aug</text>
<text x="571.6" y="662" font-size="9.6" fill="#111" font-family="'Liberation Sans',sans-serif" text-anchor="middle" stroke="#111" stroke-width="0.22">12</text>
<text x="595.6" y="662" font-size="9.6" fill="#111" font-family="'Liberation Sans',sans-serif" text-anchor="middle" stroke="#111" stroke-width="0.22">19</text>
<text x="619.7" y="662" font-size="9.6" fill="#111" font-family="'Liberation Sans',sans-serif" text-anchor="middle" stroke="#111" stroke-width="0.22">26</text>
<text x="643.8" y="662" font-size="10" fill="#111" font-family="'Liberation Sans',sans-serif" font-weight="bold" text-anchor="middle" stroke="#111" stroke-width="0.22">Sep</text>
<text x="663" y="662" font-size="9.6" fill="#111" font-family="'Liberation Sans',sans-serif" text-anchor="middle" stroke="#111" stroke-width="0.22">9</text>
<text x="687.1" y="662" font-size="9.6" fill="#111" font-family="'Liberation Sans',sans-serif" text-anchor="middle" stroke="#111" stroke-width="0.22">16</text>
<text x="711.1" y="662" font-size="9.6" fill="#111" font-family="'Liberation Sans',sans-serif" text-anchor="middle" stroke="#111" stroke-width="0.22">23</text>
<text x="740" y="662" font-size="10" fill="#111" font-family="'Liberation Sans',sans-serif" font-weight="bold" text-anchor="middle" stroke="#111" stroke-width="0.22">Oct</text>
<text x="759.3" y="662" font-size="9.6" fill="#111" font-family="'Liberation Sans',sans-serif" text-anchor="middle" stroke="#111" stroke-width="0.22">7</text>
<text x="783.3" y="662" font-size="9.6" fill="#111" font-family="'Liberation Sans',sans-serif" text-anchor="middle" stroke="#111" stroke-width="0.22">14</text>
<text x="807.4" y="662" font-size="9.6" fill="#111" font-family="'Liberation Sans',sans-serif" text-anchor="middle" stroke="#111" stroke-width="0.22">21</text>
<text x="831.5" y="662" font-size="9.6" fill="#111" font-family="'Liberation Sans',sans-serif" text-anchor="middle" stroke="#111" stroke-width="0.22">28</text>
<text x="850.7" y="662" font-size="10" fill="#111" font-family="'Liberation Sans',sans-serif" font-weight="bold" text-anchor="middle" stroke="#111" stroke-width="0.22">Nov</text>
<g clip-path="url(#cuP)"><path d="M153,423.3C156.1,423 163.5,422 171.3,421.3C179.1,420.6 191.6,419.7 199.8,418.9C207.9,418 213.3,416.8 220.1,416.2C226.9,415.6 233.3,415.7 240.4,415.2C247.5,414.7 252.8,414.4 262.8,413.2C272.8,411.9 290.7,409.1 300.3,407.7C310,406.3 313.9,405.7 320.7,404.6C327.4,403.6 334.2,402.5 341,401.6C347.8,400.7 354.5,400.1 361.3,399.3C368.1,398.6 374.9,398 381.6,397.3C388.4,396.7 395.2,396.1 402,395.5C408.7,394.9 415.5,394.5 422.3,393.9C429.1,393.3 435.8,392.6 442.6,391.8C449.4,391.1 455,390.2 462.9,389.4C470.9,388.5 482.4,387.6 490.3,386.7C498.3,385.9 503.9,384.9 510.7,384.3C517.4,383.7 524.2,383.7 531,383.3C537.8,382.9 544.5,382.2 551.3,381.7C558.1,381.2 564.9,380.8 571.6,380.2C578.4,379.7 585.2,379.1 592,378.6C598.7,378.1 605.5,377.7 612.3,377.2C619.1,376.7 625.8,376.1 632.6,375.6C639.4,375.1 645,374.7 652.9,374.1C660.9,373.6 672.4,373 680.3,372.5C688.3,372.1 693.9,371.8 700.7,371.5C707.4,371.2 714.2,371.2 721,370.5C727.8,369.8 734.5,368.3 741.3,367.4C748.1,366.6 754.9,366.1 761.6,365.4C768.4,364.7 775.2,364 782,363.4C788.7,362.8 795.5,362.3 802.3,361.7C809.1,361.2 815.8,360.7 822.6,360.3C829.4,359.9 838.2,359.5 842.9,359.3C847.7,359.1 849.7,359 851.1,358.9" fill="none" stroke="#e0506e" stroke-width="1.35" stroke-linejoin="round" stroke-linecap="round" />
<path d="M94.5,416.8C97.1,416.2 104.3,414.3 110.3,413.2C116.4,412.1 123.9,411.1 130.7,410.1C137.4,409.1 144.2,408.4 151,407.1C157.8,405.7 164.5,403.9 171.3,402C178.1,400.1 184.9,398.4 191.6,395.9C198.4,393.4 205.2,390 212,386.7C218.7,383.5 225.5,379.5 232.3,376.6C239.1,373.7 245.8,372.2 252.6,369.5C259.4,366.8 266.7,363.5 272.9,360.3C279.2,357.1 285.6,352.9 290.2,350.2C294.7,347.5 296.9,346.1 300.3,344.1C303.7,342 307.1,339.7 310.5,338C313.9,336.3 317.3,335.3 320.7,333.9C324,332.5 327.4,331.2 330.8,329.8C334.2,328.5 337.6,327.1 341,325.8C344.4,324.5 347.8,323.2 351.1,322.1C354.5,321 357.9,320.1 361.3,319.3C364.7,318.5 368.1,317.8 371.5,317.2C374.9,316.6 378.2,316.1 381.6,315.6C385,315.1 388.4,314.6 391.8,314.2C395.2,313.8 398.6,313.5 402,313.2C405.3,312.9 408.7,312.5 412.1,312.4C415.5,312.2 418.9,312.2 422.3,312.2C425.7,312.1 429.1,312.2 432.4,312.2C435.8,312.1 439.2,312 442.6,312C446,311.9 449.4,311.8 452.8,311.7C456.2,311.6 457.7,311.4 462.9,311.3C468.2,311.3 479,311.2 484.2,311.5C489.5,311.9 491,312.9 494.4,313.6C497.8,314.3 501.2,314.6 504.6,315.6C507.9,316.6 511.3,318.3 514.7,319.7C518.1,321 521.5,322 524.9,323.7C528.3,325.4 531.7,327.8 535,329.8C538.4,331.9 541.8,334.1 545.2,335.9C548.6,337.8 552,339.5 555.4,341C558.8,342.5 562.1,343.9 565.5,345.1C568.9,346.3 572.3,347 575.7,348.1C579.1,349.2 582.5,350.5 585.9,351.6C589.2,352.7 592.6,353.9 596,354.6C599.4,355.4 602.8,355.7 606.2,356.3C609.6,356.8 613,357.4 616.3,357.9C619.7,358.3 623.1,358.5 626.5,358.9C629.9,359.3 633.3,359.7 636.7,360.3C640.1,360.9 643.4,361.7 646.8,362.4C650.2,363 653.1,363.7 657,364.4C660.9,365.1 666.3,365.7 670.2,366.4C674.1,367.1 676.9,367.7 680.3,368.5C683.7,369.2 687.1,370.4 690.5,371.1C693.9,371.8 697.3,372.1 700.7,372.5C704,372.9 707.4,373.5 710.8,373.5C714.2,373.5 717.6,372.9 721,372.5C724.4,372.2 727.8,372.1 731.1,371.5C734.5,370.9 737.9,369.9 741.3,369.1C744.7,368.2 748.1,367.3 751.5,366.4C754.9,365.6 758.2,364.8 761.6,364C765,363.2 768.4,362.5 771.8,361.7C775.2,361 778.6,360.4 782,359.7C785.3,359 788.7,358.4 792.1,357.7C795.5,357 798.9,356.3 802.3,355.7C805.7,355 809.1,354.3 812.4,353.6C815.8,352.9 819.2,352.2 822.6,351.6C826,351 829.4,350.6 832.8,350.2C836.2,349.8 839.9,349.5 842.9,349.1C846,348.8 849.7,348.3 851.1,348.1" fill="none" stroke="#3b3bab" stroke-width="1.35" stroke-linejoin="round" stroke-linecap="round" />
<path d="M94.5,406.1C97.1,405.2 104,402.6 110.3,401C116.7,399.4 125.6,399 132.7,396.5C139.8,394 146.6,388.9 153,385.7C159.4,382.6 165.2,380 171.3,377.6C177.4,375.2 183.8,374.4 189.6,371.5C195.4,368.6 200.1,364.7 205.9,360.3C211.6,355.9 218.4,349.3 224.1,345.1C229.9,340.8 235,337.6 240.4,334.9C245.8,332.2 251.2,331 256.7,328.8C262.1,326.6 267.3,325.6 272.9,321.7C278.5,317.8 285.6,309.5 290.2,305.4C294.7,301.4 296.9,299.3 300.3,297.3C303.7,295.3 307.1,294.3 310.5,293.3C313.9,292.2 317.3,291.9 320.7,291.2C324,290.5 327.4,289.7 330.8,289.2C334.2,288.7 337.6,288.3 341,288.2C344.4,288 347.8,288 351.1,288.2C354.5,288.3 357.9,288.3 361.3,289.2C364.7,290 368.1,291.6 371.5,293.3C374.9,294.9 378.2,297 381.6,299.3C385,301.7 388.4,304.9 391.8,307.5C395.2,310 398.6,312.4 402,314.6C405.3,316.8 408.7,318.8 412.1,320.7C415.5,322.6 418.9,324.2 422.3,325.8C425.7,327.3 429.1,328.9 432.4,329.8C435.8,330.8 439.2,331.1 442.6,331.3C446,331.4 449.4,331 452.8,330.9C456.2,330.7 458.4,330.6 462.9,330.4C467.5,330.3 475.6,329.4 480.2,329.8C484.7,330.2 486.9,331.7 490.3,332.9C493.7,334.1 497.1,335.6 500.5,337C503.9,338.3 507.3,339.7 510.7,341C514,342.4 517.4,343.7 520.8,345.1C524.2,346.4 527.6,347.5 531,349.1C534.4,350.8 537.8,352.9 541.1,355.2C544.5,357.6 547.9,360.3 551.3,363.4C554.7,366.4 558.1,370.7 561.5,373.5C564.9,376.4 568.2,378.8 571.6,380.7C575,382.5 578.4,383.8 581.8,384.7C585.2,385.6 588.6,386 592,386.1C595.3,386.3 598.7,386.1 602.1,385.7C605.5,385.4 608.9,384.7 612.3,384.1C615.7,383.5 619.1,382.6 622.4,382.1C625.8,381.5 629.2,381.1 632.6,380.7C636,380.2 639.4,379.7 642.8,379.2C646.2,378.7 649.5,378.1 652.9,377.6C656.3,377.1 660.2,376.7 663.1,376.2C666,375.7 667.3,375.1 670.2,374.6C673,374 676.9,373.6 680.3,373.1C683.7,372.7 687.1,372.4 690.5,371.9C693.9,371.5 697.3,371.2 700.7,370.5C704,369.7 707.4,368.6 710.8,367.4C714.2,366.3 717.6,365.1 721,363.4C724.4,361.7 727.8,359.6 731.1,357.3C734.5,354.9 737.9,351.7 741.3,349.1C744.7,346.6 748.1,344.1 751.5,342C754.9,340 758.2,338.4 761.6,337C765,335.5 768.4,334.2 771.8,333.3C775.2,332.3 778.6,331.7 782,331.3C785.3,330.9 788.7,331 792.1,330.9C795.5,330.7 798.9,330.3 802.3,330.4C805.7,330.6 809.1,331.1 812.4,331.9C815.8,332.6 819.2,333.9 822.6,334.9C826,335.9 829.4,337 832.8,338C836.2,339 839.9,340.2 842.9,341C846,341.9 849.7,342.7 851.1,343" fill="none" stroke="#3d8f3d" stroke-width="1.35" stroke-linejoin="round" stroke-linecap="round" />
<line x1="95.1" y1="384.7" x2="95.1" y2="393.9" stroke="#d30a3a" stroke-width="1" />
<rect x="92.7" y="385.7" width="4.8" height="6.1" fill="#d30a3a" />
<line x1="99.9" y1="378.6" x2="99.9" y2="390.8" stroke="#111" stroke-width="1" />
<rect x="97.5" y="383.7" width="4.8" height="5.7" fill="#111" />
<line x1="104.7" y1="387.8" x2="104.7" y2="397.9" stroke="#d30a3a" stroke-width="1" />
<rect x="102.3" y="388.2" width="4.8" height="8.3" fill="#d30a3a" />
<line x1="109.5" y1="392.8" x2="109.5" y2="398.5" stroke="#111" stroke-width="1" />
<rect x="107.6" y="395" width="3.8" height="2.5" fill="#fff" stroke="#111" stroke-width="1" />
<line x1="114.3" y1="392.8" x2="114.3" y2="398.9" stroke="#d30a3a" stroke-width="1" />
<rect x="111.9" y="394.9" width="4.8" height="1.4" fill="#d30a3a" />
<line x1="119.1" y1="394.5" x2="119.1" y2="402" stroke="#d30a3a" stroke-width="1" />
<rect x="116.7" y="395.9" width="4.8" height="1.4" fill="#d30a3a" />
<line x1="124" y1="392.8" x2="124" y2="398.9" stroke="#111" stroke-width="1" />
<rect x="121.6" y="394.9" width="4.8" height="1" fill="#111" />
<line x1="128.8" y1="387.8" x2="128.8" y2="393.5" stroke="#111" stroke-width="1" />
<rect x="126.9" y="389.9" width="3.8" height="1.8" fill="#fff" stroke="#111" stroke-width="1" />
<line x1="133.6" y1="383.3" x2="133.6" y2="390.8" stroke="#111" stroke-width="1" />
<rect x="131.7" y="387.2" width="3.8" height="2" fill="#fff" stroke="#111" stroke-width="1" />
<line x1="138.4" y1="368.5" x2="138.4" y2="386.7" stroke="#111" stroke-width="1" />
<rect x="136.5" y="370.4" width="3.8" height="14.9" fill="#fff" stroke="#111" stroke-width="1" />
<line x1="143.2" y1="361.3" x2="143.2" y2="368.5" stroke="#111" stroke-width="1" />
<rect x="141.3" y="362.9" width="3.8" height="4.1" fill="#fff" stroke="#111" stroke-width="1" />
<line x1="148" y1="363.4" x2="148" y2="374.6" stroke="#d30a3a" stroke-width="1" />
<rect x="145.6" y="364.4" width="4.8" height="2.6" fill="#d30a3a" />
<line x1="152.8" y1="355.2" x2="152.8" y2="372.5" stroke="#111" stroke-width="1" />
<rect x="150.9" y="356.8" width="3.8" height="14.7" fill="#fff" stroke="#111" stroke-width="1" />
<line x1="157.6" y1="350.2" x2="157.6" y2="361.3" stroke="#111" stroke-width="1" />
<rect x="155.2" y="355.7" width="4.8" height="1" fill="#111" />
<line x1="162.5" y1="350.8" x2="162.5" y2="363.4" stroke="#d30a3a" stroke-width="1" />
<rect x="160.1" y="355.2" width="4.8" height="3.7" fill="#d30a3a" />
<line x1="167.3" y1="355.2" x2="167.3" y2="365.4" stroke="#d30a3a" stroke-width="1" />
<rect x="164.9" y="358.3" width="4.8" height="3.5" fill="#d30a3a" />
<line x1="172.1" y1="347.1" x2="172.1" y2="362.4" stroke="#111" stroke-width="1" />
<rect x="170.2" y="354.7" width="3.8" height="6.1" fill="#fff" stroke="#111" stroke-width="1" />
<line x1="176.9" y1="342" x2="176.9" y2="360.3" stroke="#111" stroke-width="1" />
<rect x="175" y="345.6" width="3.8" height="2.7" fill="#fff" stroke="#111" stroke-width="1" />
<line x1="181.7" y1="344.1" x2="181.7" y2="358.3" stroke="#d30a3a" stroke-width="1" />
<rect x="179.3" y="345.1" width="4.8" height="10.6" fill="#d30a3a" />
<line x1="186.5" y1="348.1" x2="186.5" y2="357.3" stroke="#111" stroke-width="1" />
<rect x="184.6" y="350.1" width="3.8" height="5.7" fill="#fff" stroke="#111" stroke-width="1" />
<line x1="191.3" y1="334.9" x2="191.3" y2="352.2" stroke="#111" stroke-width="1" />
<rect x="189.4" y="336.8" width="3.8" height="12.8" fill="#fff" stroke="#111" stroke-width="1" />
<line x1="196.2" y1="325.8" x2="196.2" y2="342" stroke="#111" stroke-width="1" />
<rect x="194.3" y="328.9" width="3.8" height="8.1" fill="#fff" stroke="#111" stroke-width="1" />
<line x1="201" y1="320.7" x2="201" y2="332.9" stroke="#d30a3a" stroke-width="1" />
<rect x="198.6" y="329.2" width="4.8" height="2" fill="#d30a3a" />
<line x1="205.8" y1="328.8" x2="205.8" y2="343.5" stroke="#d30a3a" stroke-width="1" />
<rect x="203.4" y="329.8" width="4.8" height="7.1" fill="#d30a3a" />
<line x1="210.6" y1="328.8" x2="210.6" y2="339.4" stroke="#111" stroke-width="1" />
<rect x="208.7" y="335" width="3.8" height="3.1" fill="#fff" stroke="#111" stroke-width="1" />
<line x1="215.4" y1="316.6" x2="215.4" y2="332.9" stroke="#111" stroke-width="1" />
<rect x="213.5" y="323.2" width="3.8" height="6.7" fill="#fff" stroke="#111" stroke-width="1" />
<line x1="220.2" y1="311.5" x2="220.2" y2="321.7" stroke="#111" stroke-width="1" />
<rect x="218.3" y="317.7" width="3.8" height="2.5" fill="#fff" stroke="#111" stroke-width="1" />
<line x1="225" y1="302.4" x2="225" y2="317.6" stroke="#111" stroke-width="1" />
<rect x="223.1" y="303.9" width="3.8" height="12.2" fill="#fff" stroke="#111" stroke-width="1" />
<line x1="229.8" y1="300.4" x2="229.8" y2="322.7" stroke="#d30a3a" stroke-width="1" />
<rect x="227.4" y="302.8" width="4.8" height="16.3" fill="#d30a3a" />
<line x1="234.7" y1="314.2" x2="234.7" y2="326.4" stroke="#d30a3a" stroke-width="1" />
<rect x="232.3" y="320.7" width="4.8" height="2" fill="#d30a3a" />
<line x1="239.5" y1="316.6" x2="239.5" y2="333.3" stroke="#d30a3a" stroke-width="1" />
<rect x="237.1" y="318.3" width="4.8" height="12.2" fill="#d30a3a" />
<line x1="244.3" y1="318.3" x2="244.3" y2="330.4" stroke="#111" stroke-width="1" />
<rect x="242.4" y="320.8" width="3.8" height="5.9" fill="#fff" stroke="#111" stroke-width="1" />
<line x1="249.1" y1="308.1" x2="249.1" y2="322.7" stroke="#111" stroke-width="1" />
<rect x="247.2" y="312" width="3.8" height="4.7" fill="#fff" stroke="#111" stroke-width="1" />
<line x1="253.9" y1="307.5" x2="253.9" y2="318.7" stroke="#d30a3a" stroke-width="1" />
<rect x="251.5" y="312.2" width="4.8" height="1.6" fill="#d30a3a" />
<line x1="258.7" y1="313.6" x2="258.7" y2="327.4" stroke="#d30a3a" stroke-width="1" />
<rect x="256.3" y="314.6" width="4.8" height="7.7" fill="#d30a3a" />
<line x1="263.5" y1="313.6" x2="263.5" y2="324.8" stroke="#111" stroke-width="1" />
<rect x="261.6" y="316.5" width="3.8" height="5.7" fill="#fff" stroke="#111" stroke-width="1" />
<line x1="268.3" y1="294.3" x2="268.3" y2="315.6" stroke="#111" stroke-width="1" />
<rect x="266.4" y="305.9" width="3.8" height="8.1" fill="#fff" stroke="#111" stroke-width="1" />
<line x1="273.2" y1="289.2" x2="273.2" y2="311.5" stroke="#111" stroke-width="1" />
<rect x="271.3" y="291.1" width="3.8" height="15.3" fill="#fff" stroke="#111" stroke-width="1" />
<line x1="278" y1="255" x2="278" y2="291.8" stroke="#111" stroke-width="1" />
<rect x="276.1" y="273.8" width="3.8" height="16.9" fill="#fff" stroke="#111" stroke-width="1" />
<line x1="282.8" y1="241" x2="282.8" y2="284.1" stroke="#111" stroke-width="1" />
<rect x="280.9" y="269.4" width="3.8" height="2.5" fill="#fff" stroke="#111" stroke-width="1" />
<line x1="287.6" y1="255.7" x2="287.6" y2="281.1" stroke="#d30a3a" stroke-width="1" />
<rect x="285.2" y="268.9" width="4.8" height="6.7" fill="#d30a3a" />
<line x1="292.4" y1="246.5" x2="292.4" y2="280" stroke="#111" stroke-width="1" />
<rect x="290.5" y="252.1" width="3.8" height="22.4" fill="#fff" stroke="#111" stroke-width="1" />
<line x1="297.2" y1="230.2" x2="297.2" y2="258.7" stroke="#111" stroke-width="1" />
<rect x="294.8" y="246.5" width="4.8" height="1" fill="#111" />
<line x1="302" y1="233.7" x2="302" y2="256.7" stroke="#111" stroke-width="1" />
<rect x="299.6" y="243.5" width="4.8" height="1" fill="#111" />
<line x1="306.9" y1="240.4" x2="306.9" y2="287.2" stroke="#d30a3a" stroke-width="1" />
<rect x="304.5" y="243.5" width="4.8" height="37" fill="#d30a3a" />
<line x1="311.7" y1="278" x2="311.7" y2="294.3" stroke="#d30a3a" stroke-width="1" />
<rect x="309.3" y="285.1" width="4.8" height="2.4" fill="#d30a3a" />
<line x1="316.5" y1="284.1" x2="316.5" y2="293.9" stroke="#d30a3a" stroke-width="1" />
<rect x="314.1" y="289.8" width="4.8" height="3" fill="#d30a3a" />
<line x1="321.3" y1="272.3" x2="321.3" y2="293.3" stroke="#111" stroke-width="1" />
<rect x="319.4" y="279.9" width="3.8" height="11.8" fill="#fff" stroke="#111" stroke-width="1" />
<line x1="326.1" y1="272.9" x2="326.1" y2="288.6" stroke="#d30a3a" stroke-width="1" />
<rect x="323.7" y="275" width="4.8" height="12.8" fill="#d30a3a" />
<line x1="330.9" y1="287.8" x2="330.9" y2="310.5" stroke="#d30a3a" stroke-width="1" />
<rect x="328.5" y="288.6" width="4.8" height="17.5" fill="#d30a3a" />
<line x1="335.7" y1="304.4" x2="335.7" y2="318.7" stroke="#d30a3a" stroke-width="1" />
<rect x="333.3" y="305.4" width="4.8" height="9.1" fill="#d30a3a" />
<line x1="340.5" y1="301.4" x2="340.5" y2="315" stroke="#111" stroke-width="1" />
<rect x="338.6" y="305.9" width="3.8" height="4.1" fill="#fff" stroke="#111" stroke-width="1" />
<line x1="345.4" y1="300.4" x2="345.4" y2="323.7" stroke="#d30a3a" stroke-width="1" />
<rect x="343" y="302" width="4.8" height="20.3" fill="#d30a3a" />
<line x1="350.2" y1="308.9" x2="350.2" y2="324.8" stroke="#111" stroke-width="1" />
<rect x="348.3" y="314.1" width="3.8" height="6.5" fill="#fff" stroke="#111" stroke-width="1" />
<line x1="355" y1="301.4" x2="355" y2="312.2" stroke="#111" stroke-width="1" />
<rect x="353.1" y="303.9" width="3.8" height="6.1" fill="#fff" stroke="#111" stroke-width="1" />
<line x1="359.8" y1="302.4" x2="359.8" y2="334.9" stroke="#d30a3a" stroke-width="1" />
<rect x="357.4" y="303.4" width="4.8" height="27.4" fill="#d30a3a" />
<line x1="364.6" y1="320.7" x2="364.6" y2="338" stroke="#111" stroke-width="1" />
<rect x="362.7" y="322.2" width="3.8" height="12.6" fill="#fff" stroke="#111" stroke-width="1" />
<line x1="369.4" y1="319.7" x2="369.4" y2="334.9" stroke="#d30a3a" stroke-width="1" />
<rect x="367" y="320.3" width="4.8" height="6.1" fill="#d30a3a" />
<line x1="374.2" y1="312.6" x2="374.2" y2="327.8" stroke="#111" stroke-width="1" />
<rect x="372.3" y="319.2" width="3.8" height="6.5" fill="#fff" stroke="#111" stroke-width="1" />
<line x1="379" y1="319.7" x2="379" y2="333.3" stroke="#d30a3a" stroke-width="1" />
<rect x="376.6" y="322.7" width="4.8" height="8.5" fill="#d30a3a" />
<line x1="383.9" y1="326.8" x2="383.9" y2="335.9" stroke="#111" stroke-width="1" />
<rect x="381.5" y="328.4" width="4.8" height="1.4" fill="#111" />
<line x1="388.7" y1="327.8" x2="388.7" y2="341.4" stroke="#d30a3a" stroke-width="1" />
<rect x="386.3" y="328.4" width="4.8" height="6.5" fill="#d30a3a" />
<line x1="393.5" y1="327.8" x2="393.5" y2="345.1" stroke="#111" stroke-width="1" />
<rect x="391.6" y="329.7" width="3.8" height="3.3" fill="#fff" stroke="#111" stroke-width="1" />
<line x1="398.3" y1="315.6" x2="398.3" y2="330.9" stroke="#111" stroke-width="1" />
<rect x="396.4" y="319.2" width="3.8" height="10.2" fill="#fff" stroke="#111" stroke-width="1" />
<line x1="403.1" y1="318.7" x2="403.1" y2="337" stroke="#d30a3a" stroke-width="1" />
<rect x="400.7" y="319.1" width="4.8" height="16.9" fill="#d30a3a" />
<line x1="407.9" y1="332.9" x2="407.9" y2="342.6" stroke="#d30a3a" stroke-width="1" />
<rect x="405.5" y="337.6" width="4.8" height="1.8" fill="#d30a3a" />
<line x1="412.7" y1="334.5" x2="412.7" y2="348.1" stroke="#d30a3a" stroke-width="1" />
<rect x="410.3" y="339" width="4.8" height="7.7" fill="#d30a3a" />
<line x1="417.6" y1="341" x2="417.6" y2="350.2" stroke="#d30a3a" stroke-width="1" />
<rect x="415.2" y="345.1" width="4.8" height="2.4" fill="#d30a3a" />
<line x1="422.4" y1="342" x2="422.4" y2="351.6" stroke="#d30a3a" stroke-width="1" />
<rect x="420" y="345.7" width="4.8" height="3.9" fill="#d30a3a" />
<line x1="427.2" y1="337.4" x2="427.2" y2="350.8" stroke="#111" stroke-width="1" />
<rect x="425.3" y="343.5" width="3.8" height="6.1" fill="#fff" stroke="#111" stroke-width="1" />
<line x1="432" y1="336.5" x2="432" y2="346.1" stroke="#111" stroke-width="1" />
<rect x="430.1" y="339.9" width="3.8" height="4.7" fill="#fff" stroke="#111" stroke-width="1" />
<line x1="436.8" y1="330.9" x2="436.8" y2="343.5" stroke="#111" stroke-width="1" />
<rect x="434.9" y="332.4" width="3.8" height="5.7" fill="#fff" stroke="#111" stroke-width="1" />
<line x1="441.6" y1="319.1" x2="441.6" y2="340" stroke="#111" stroke-width="1" />
<rect x="439.7" y="324.2" width="3.8" height="12.8" fill="#fff" stroke="#111" stroke-width="1" />
<line x1="446.4" y1="300" x2="446.4" y2="325.8" stroke="#111" stroke-width="1" />
<rect x="444.5" y="307.4" width="3.8" height="16.3" fill="#fff" stroke="#111" stroke-width="1" />
<line x1="451.2" y1="304" x2="451.2" y2="312.2" stroke="#d30a3a" stroke-width="1" />
<rect x="448.8" y="304.4" width="4.8" height="6.5" fill="#d30a3a" />
<line x1="456.1" y1="310.5" x2="456.1" y2="318.7" stroke="#d30a3a" stroke-width="1" />
<rect x="453.7" y="313" width="4.8" height="4.3" fill="#d30a3a" />
<line x1="460.9" y1="306.5" x2="460.9" y2="321.7" stroke="#111" stroke-width="1" />
<rect x="459" y="313.1" width="3.8" height="3.1" fill="#fff" stroke="#111" stroke-width="1" />
<line x1="465.7" y1="314.2" x2="465.7" y2="327.8" stroke="#d30a3a" stroke-width="1" />
<rect x="463.3" y="315" width="4.8" height="11.8" fill="#d30a3a" />
<line x1="470.5" y1="314.2" x2="470.5" y2="330.9" stroke="#111" stroke-width="1" />
<rect x="468.6" y="315.5" width="3.8" height="8.8" fill="#fff" stroke="#111" stroke-width="1" />
<line x1="475.3" y1="313.6" x2="475.3" y2="327.8" stroke="#d30a3a" stroke-width="1" />
<rect x="472.9" y="316.6" width="4.8" height="7.7" fill="#d30a3a" />
<line x1="480.1" y1="323.7" x2="480.1" y2="337" stroke="#d30a3a" stroke-width="1" />
<rect x="477.7" y="325.2" width="4.8" height="10.2" fill="#d30a3a" />
<line x1="484.9" y1="329.8" x2="484.9" y2="342" stroke="#d30a3a" stroke-width="1" />
<rect x="482.5" y="333.5" width="4.8" height="7.5" fill="#d30a3a" />
<line x1="489.7" y1="337" x2="489.7" y2="363" stroke="#d30a3a" stroke-width="1" />
<rect x="487.3" y="339.4" width="4.8" height="19.5" fill="#d30a3a" />
<line x1="494.6" y1="356.3" x2="494.6" y2="366.4" stroke="#d30a3a" stroke-width="1" />
<rect x="492.2" y="360.3" width="4.8" height="4.1" fill="#d30a3a" />
<line x1="499.4" y1="359.7" x2="499.4" y2="375.6" stroke="#d30a3a" stroke-width="1" />
<rect x="497" y="364.4" width="4.8" height="6.1" fill="#d30a3a" />
<line x1="504.2" y1="367.4" x2="504.2" y2="378" stroke="#d30a3a" stroke-width="1" />
<rect x="501.8" y="369.9" width="4.8" height="4.7" fill="#d30a3a" />
<line x1="509" y1="371.5" x2="509" y2="386.7" stroke="#d30a3a" stroke-width="1" />
<rect x="506.6" y="374.6" width="4.8" height="8.1" fill="#d30a3a" />
<line x1="513.8" y1="375.6" x2="513.8" y2="391.8" stroke="#111" stroke-width="1" />
<rect x="511.9" y="380.5" width="3.8" height="4.7" fill="#fff" stroke="#111" stroke-width="1" />
<line x1="518.6" y1="375.6" x2="518.6" y2="383.7" stroke="#d30a3a" stroke-width="1" />
<rect x="516.2" y="380.7" width="4.8" height="1" fill="#d30a3a" />
<line x1="523.4" y1="376.6" x2="523.4" y2="388.8" stroke="#d30a3a" stroke-width="1" />
<rect x="521" y="382.1" width="4.8" height="2.6" fill="#d30a3a" />
<line x1="528.2" y1="381.3" x2="528.2" y2="392.8" stroke="#d30a3a" stroke-width="1" />
<rect x="525.9" y="383.3" width="4.8" height="1" fill="#d30a3a" />
<line x1="533.1" y1="368.5" x2="533.1" y2="384.7" stroke="#111" stroke-width="1" />
<rect x="531.2" y="371" width="3.8" height="12.2" fill="#fff" stroke="#111" stroke-width="1" />
<line x1="537.9" y1="365.4" x2="537.9" y2="387.8" stroke="#d30a3a" stroke-width="1" />
<rect x="535.5" y="369.9" width="4.8" height="13.8" fill="#d30a3a" />
<line x1="542.7" y1="379.6" x2="542.7" y2="389.4" stroke="#111" stroke-width="1" />
<rect x="540.8" y="383.2" width="3.8" height="4.1" fill="#fff" stroke="#111" stroke-width="1" />
<line x1="547.5" y1="376.6" x2="547.5" y2="407.1" stroke="#d30a3a" stroke-width="1" />
<rect x="545.1" y="379.6" width="4.8" height="18.3" fill="#d30a3a" />
<line x1="552.3" y1="388.2" x2="552.3" y2="402.4" stroke="#111" stroke-width="1" />
<rect x="550.4" y="394" width="3.8" height="2" fill="#fff" stroke="#111" stroke-width="1" />
<line x1="557.1" y1="394.9" x2="557.1" y2="408.1" stroke="#d30a3a" stroke-width="1" />
<rect x="554.7" y="395.5" width="4.8" height="8.5" fill="#d30a3a" />
<line x1="561.9" y1="398.9" x2="561.9" y2="407.7" stroke="#111" stroke-width="1" />
<rect x="560" y="402.9" width="3.8" height="3.7" fill="#fff" stroke="#111" stroke-width="1" />
<line x1="566.8" y1="390.8" x2="566.8" y2="400.4" stroke="#111" stroke-width="1" />
<rect x="564.4" y="398.5" width="4.8" height="1" fill="#111" />
<line x1="571.6" y1="383.7" x2="571.6" y2="401" stroke="#111" stroke-width="1" />
<rect x="569.7" y="387.9" width="3.8" height="11.6" fill="#fff" stroke="#111" stroke-width="1" />
<line x1="576.4" y1="386.7" x2="576.4" y2="394.9" stroke="#d30a3a" stroke-width="1" />
<rect x="574" y="387.8" width="4.8" height="2" fill="#d30a3a" />
<line x1="581.2" y1="387.4" x2="581.2" y2="392.8" stroke="#d30a3a" stroke-width="1" />
<rect x="578.8" y="388.2" width="4.8" height="3.7" fill="#d30a3a" />
<line x1="586" y1="373.9" x2="586" y2="393.9" stroke="#111" stroke-width="1" />
<rect x="584.1" y="376.1" width="3.8" height="14.9" fill="#fff" stroke="#111" stroke-width="1" />
<line x1="590.8" y1="373.5" x2="590.8" y2="384.7" stroke="#d30a3a" stroke-width="1" />
<rect x="588.4" y="377" width="4.8" height="1" fill="#d30a3a" />
<line x1="595.6" y1="369.1" x2="595.6" y2="377.6" stroke="#111" stroke-width="1" />
<rect x="593.7" y="372" width="3.8" height="4.1" fill="#fff" stroke="#111" stroke-width="1" />
<line x1="600.4" y1="368.5" x2="600.4" y2="376.6" stroke="#d30a3a" stroke-width="1" />
<rect x="598" y="370.5" width="4.8" height="4.7" fill="#d30a3a" />
<line x1="605.3" y1="367.4" x2="605.3" y2="377.6" stroke="#111" stroke-width="1" />
<rect x="603.4" y="371.6" width="3.8" height="4.5" fill="#fff" stroke="#111" stroke-width="1" />
<line x1="610.1" y1="365.8" x2="610.1" y2="378.6" stroke="#d30a3a" stroke-width="1" />
<rect x="607.7" y="369.1" width="4.8" height="7.5" fill="#d30a3a" />
<line x1="614.9" y1="365.8" x2="614.9" y2="378.6" stroke="#111" stroke-width="1" />
<rect x="613" y="370" width="3.8" height="7.7" fill="#fff" stroke="#111" stroke-width="1" />
<line x1="619.7" y1="356.3" x2="619.7" y2="363.4" stroke="#111" stroke-width="1" />
<rect x="617.8" y="358.8" width="3.8" height="3.1" fill="#fff" stroke="#111" stroke-width="1" />
<line x1="624.5" y1="353.2" x2="624.5" y2="361.3" stroke="#111" stroke-width="1" />
<rect x="622.6" y="355.7" width="3.8" height="3.5" fill="#fff" stroke="#111" stroke-width="1" />
<line x1="629.3" y1="354.2" x2="629.3" y2="367.8" stroke="#d30a3a" stroke-width="1" />
<rect x="626.9" y="354.8" width="4.8" height="11.6" fill="#d30a3a" />
<line x1="634.1" y1="362.4" x2="634.1" y2="372.5" stroke="#111" stroke-width="1" />
<rect x="632.2" y="365.5" width="3.8" height="1" fill="#fff" stroke="#111" stroke-width="1" />
<line x1="638.9" y1="358.3" x2="638.9" y2="368.5" stroke="#d30a3a" stroke-width="1" />
<rect x="636.5" y="364.4" width="4.8" height="1" fill="#d30a3a" />
<line x1="643.8" y1="365.4" x2="643.8" y2="389.8" stroke="#d30a3a" stroke-width="1" />
<rect x="641.4" y="366.4" width="4.8" height="18.3" fill="#d30a3a" />
<line x1="648.6" y1="379.6" x2="648.6" y2="390.8" stroke="#d30a3a" stroke-width="1" />
<rect x="646.2" y="383.3" width="4.8" height="2" fill="#d30a3a" />
<line x1="653.4" y1="373.1" x2="653.4" y2="390.8" stroke="#111" stroke-width="1" />
<rect x="651.5" y="379.1" width="3.8" height="5.7" fill="#fff" stroke="#111" stroke-width="1" />
<line x1="658.2" y1="372.5" x2="658.2" y2="387.8" stroke="#d30a3a" stroke-width="1" />
<rect x="655.8" y="376.6" width="4.8" height="10.2" fill="#d30a3a" />
<line x1="663" y1="374.6" x2="663" y2="388.8" stroke="#111" stroke-width="1" />
<rect x="661.1" y="377.1" width="3.8" height="10.8" fill="#fff" stroke="#111" stroke-width="1" />
<line x1="667.8" y1="373.5" x2="667.8" y2="383.7" stroke="#d30a3a" stroke-width="1" />
<rect x="665.4" y="377.2" width="4.8" height="5.5" fill="#d30a3a" />
<line x1="672.6" y1="375.6" x2="672.6" y2="384.7" stroke="#111" stroke-width="1" />
<rect x="670.7" y="378.1" width="3.8" height="5.1" fill="#fff" stroke="#111" stroke-width="1" />
<line x1="677.5" y1="364.4" x2="677.5" y2="375.6" stroke="#111" stroke-width="1" />
<rect x="675.6" y="371" width="3.8" height="2.5" fill="#fff" stroke="#111" stroke-width="1" />
<line x1="682.3" y1="362.4" x2="682.3" y2="372.5" stroke="#111" stroke-width="1" />
<rect x="680.4" y="365.5" width="3.8" height="3.5" fill="#fff" stroke="#111" stroke-width="1" />
<line x1="687.1" y1="353.2" x2="687.1" y2="367.4" stroke="#111" stroke-width="1" />
<rect x="685.2" y="359.4" width="3.8" height="5.9" fill="#fff" stroke="#111" stroke-width="1" />
<line x1="691.9" y1="354.8" x2="691.9" y2="362.4" stroke="#d30a3a" stroke-width="1" />
<rect x="689.5" y="358.3" width="4.8" height="2" fill="#d30a3a" />
<line x1="696.7" y1="348.7" x2="696.7" y2="364.4" stroke="#111" stroke-width="1" />
<rect x="694.8" y="356.4" width="3.8" height="1" fill="#fff" stroke="#111" stroke-width="1" />
<line x1="701.5" y1="344.1" x2="701.5" y2="363.4" stroke="#111" stroke-width="1" />
<rect x="699.6" y="349" width="3.8" height="9.8" fill="#fff" stroke="#111" stroke-width="1" />
<line x1="706.3" y1="343" x2="706.3" y2="353.2" stroke="#d30a3a" stroke-width="1" />
<rect x="703.9" y="348.1" width="4.8" height="1" fill="#d30a3a" />
<line x1="711.1" y1="346.1" x2="711.1" y2="359.3" stroke="#111" stroke-width="1" />
<rect x="708.7" y="348.7" width="4.8" height="1" fill="#111" />
<line x1="716" y1="323.7" x2="716" y2="350.8" stroke="#111" stroke-width="1" />
<rect x="714.1" y="329.7" width="3.8" height="19.3" fill="#fff" stroke="#111" stroke-width="1" />
<line x1="720.8" y1="320.7" x2="720.8" y2="334.9" stroke="#d30a3a" stroke-width="1" />
<rect x="718.4" y="324.3" width="4.8" height="4.9" fill="#d30a3a" />
<line x1="725.6" y1="306.5" x2="725.6" y2="331.9" stroke="#111" stroke-width="1" />
<rect x="723.7" y="308.6" width="3.8" height="21.4" fill="#fff" stroke="#111" stroke-width="1" />
<line x1="730.4" y1="306.5" x2="730.4" y2="315.6" stroke="#d30a3a" stroke-width="1" />
<rect x="728" y="307.5" width="4.8" height="7.1" fill="#d30a3a" />
<line x1="735.2" y1="287.2" x2="735.2" y2="328.8" stroke="#d30a3a" stroke-width="1" />
<rect x="732.8" y="307.5" width="4.8" height="13.2" fill="#d30a3a" />
<line x1="740" y1="314.6" x2="740" y2="323.7" stroke="#111" stroke-width="1" />
<rect x="738.1" y="316.1" width="3.8" height="4.5" fill="#fff" stroke="#111" stroke-width="1" />
<line x1="744.8" y1="304.4" x2="744.8" y2="318.7" stroke="#111" stroke-width="1" />
<rect x="742.9" y="307" width="3.8" height="10.2" fill="#fff" stroke="#111" stroke-width="1" />
<line x1="749.6" y1="304.4" x2="749.6" y2="325.8" stroke="#d30a3a" stroke-width="1" />
<rect x="747.2" y="305.4" width="4.8" height="15.2" fill="#d30a3a" />
<line x1="754.5" y1="312.6" x2="754.5" y2="322.7" stroke="#111" stroke-width="1" />
<rect x="752.6" y="317.7" width="3.8" height="3.5" fill="#fff" stroke="#111" stroke-width="1" />
<line x1="759.3" y1="312.2" x2="759.3" y2="325.8" stroke="#d30a3a" stroke-width="1" />
<rect x="756.9" y="317.2" width="4.8" height="1" fill="#d30a3a" />
<line x1="764.1" y1="316.6" x2="764.1" y2="335.9" stroke="#d30a3a" stroke-width="1" />
<rect x="761.7" y="319.7" width="4.8" height="15.2" fill="#d30a3a" />
<line x1="768.9" y1="326.8" x2="768.9" y2="345.1" stroke="#d30a3a" stroke-width="1" />
<rect x="766.5" y="331.9" width="4.8" height="10.2" fill="#d30a3a" />
<line x1="773.7" y1="334.9" x2="773.7" y2="345.1" stroke="#111" stroke-width="1" />
<rect x="771.8" y="338.1" width="3.8" height="1.4" fill="#fff" stroke="#111" stroke-width="1" />
<line x1="778.5" y1="328.8" x2="778.5" y2="336.5" stroke="#111" stroke-width="1" />
<rect x="776.6" y="330.3" width="3.8" height="4.1" fill="#fff" stroke="#111" stroke-width="1" />
<line x1="783.3" y1="331.9" x2="783.3" y2="343" stroke="#d30a3a" stroke-width="1" />
<rect x="780.9" y="333.9" width="4.8" height="7.1" fill="#d30a3a" />
<line x1="788.2" y1="340" x2="788.2" y2="351.6" stroke="#d30a3a" stroke-width="1" />
<rect x="785.8" y="341" width="4.8" height="9.8" fill="#d30a3a" />
<line x1="793" y1="342" x2="793" y2="351.6" stroke="#111" stroke-width="1" />
<rect x="791.1" y="347.2" width="3.8" height="3.1" fill="#fff" stroke="#111" stroke-width="1" />
<line x1="797.8" y1="340" x2="797.8" y2="356.3" stroke="#d30a3a" stroke-width="1" />
<rect x="795.4" y="346.1" width="4.8" height="5.5" fill="#d30a3a" />
<line x1="802.6" y1="340" x2="802.6" y2="351.6" stroke="#111" stroke-width="1" />
<rect x="800.7" y="345" width="3.8" height="5.7" fill="#fff" stroke="#111" stroke-width="1" />
<line x1="807.4" y1="332.9" x2="807.4" y2="348.1" stroke="#d30a3a" stroke-width="1" />
<rect x="805" y="343.5" width="4.8" height="3.7" fill="#d30a3a" />
<line x1="812.2" y1="341" x2="812.2" y2="349.1" stroke="#111" stroke-width="1" />
<rect x="810.3" y="345.2" width="3.8" height="1.8" fill="#fff" stroke="#111" stroke-width="1" />
<line x1="817" y1="342" x2="817" y2="354.2" stroke="#d30a3a" stroke-width="1" />
<rect x="814.6" y="343" width="4.8" height="7.7" fill="#d30a3a" />
<line x1="821.8" y1="341" x2="821.8" y2="351.6" stroke="#111" stroke-width="1" />
<rect x="819.9" y="348.6" width="3.8" height="1.6" fill="#fff" stroke="#111" stroke-width="1" />
<line x1="826.7" y1="342" x2="826.7" y2="350.8" stroke="#111" stroke-width="1" />
<rect x="824.3" y="346.1" width="4.8" height="1" fill="#111" />
<line x1="831.5" y1="344.1" x2="831.5" y2="350.8" stroke="#d30a3a" stroke-width="1" />
<rect x="829.1" y="346.7" width="4.8" height="1" fill="#d30a3a" />
<line x1="836.3" y1="337" x2="836.3" y2="352.2" stroke="#d30a3a" stroke-width="1" />
<rect x="833.9" y="346.1" width="4.8" height="2" fill="#d30a3a" />
<line x1="841.1" y1="345.1" x2="841.1" y2="352.2" stroke="#d30a3a" stroke-width="1" />
<rect x="838.7" y="347.1" width="4.8" height="2" fill="#d30a3a" />
<line x1="845.9" y1="346.1" x2="845.9" y2="351.6" stroke="#d30a3a" stroke-width="1" />
<rect x="843.5" y="347.5" width="4.8" height="2" fill="#d30a3a" />
<line x1="850.7" y1="339.4" x2="850.7" y2="349.1" stroke="#111" stroke-width="1" />
<rect x="848.3" y="346.1" width="4.8" height="1" fill="#111" /></g>
<path d="M114.5,407.1 l3.5,-4.4 l3.5,4.4" fill="#f7f7f7" stroke="#cfcfcf" stroke-width="0.8"/><rect x="105.5" y="407.1" width="25" height="8" fill="#f7f7f7" stroke="#cfcfcf" stroke-width="0.8" /><text x="118" y="414" font-size="7.9" fill="#000" font-family="'DejaVu Sans','Liberation Sans',sans-serif" text-anchor="middle" textLength="21.6" lengthAdjust="spacingAndGlyphs" stroke="none">3.967</text>
<path d="M225.3,295.8 l3.5,4.4 l3.5,-4.4" fill="#f7f7f7" stroke="#cfcfcf" stroke-width="0.8"/><rect x="216.3" y="287.8" width="25" height="8" fill="#f7f7f7" stroke="#cfcfcf" stroke-width="0.8" /><text x="228.8" y="294.7" font-size="7.9" fill="#000" font-family="'DejaVu Sans','Liberation Sans',sans-serif" text-anchor="middle" textLength="21.6" lengthAdjust="spacingAndGlyphs" stroke="none">4.694</text>
<path d="M235.5,338 l3.5,-4.4 l3.5,4.4" fill="#f7f7f7" stroke="#cfcfcf" stroke-width="0.8"/><rect x="226.5" y="338" width="25" height="8" fill="#f7f7f7" stroke="#cfcfcf" stroke-width="0.8" /><text x="239" y="344.9" font-size="7.9" fill="#000" font-family="'DejaVu Sans','Liberation Sans',sans-serif" text-anchor="middle" textLength="21.6" lengthAdjust="spacingAndGlyphs" stroke="none">4.466</text>
<path d="M277.7,235.7 l3.5,4.4 l3.5,-4.4" fill="#f7f7f7" stroke="#cfcfcf" stroke-width="0.8"/><rect x="268.7" y="227.7" width="25" height="8" fill="#f7f7f7" stroke="#cfcfcf" stroke-width="0.8" /><text x="281.2" y="234.6" font-size="7.9" fill="#000" font-family="'DejaVu Sans','Liberation Sans',sans-serif" text-anchor="middle" textLength="21.6" lengthAdjust="spacingAndGlyphs" stroke="none">5.128</text>
<path d="M291.7,225.7 l3.5,4.4 l3.5,-4.4" fill="#f7f7f7" stroke="#cfcfcf" stroke-width="0.8"/><rect x="282.7" y="217.7" width="25" height="8" fill="#f7f7f7" stroke="#cfcfcf" stroke-width="0.8" /><text x="295.2" y="224.6" font-size="7.9" fill="#000" font-family="'DejaVu Sans','Liberation Sans',sans-serif" text-anchor="middle" textLength="21.6" lengthAdjust="spacingAndGlyphs" stroke="none">5.199</text>
<path d="M370,307.4 l3.5,4.4 l3.5,-4.4" fill="#f7f7f7" stroke="#cfcfcf" stroke-width="0.8"/><rect x="361" y="299.4" width="25" height="8" fill="#f7f7f7" stroke="#cfcfcf" stroke-width="0.8" /><text x="373.5" y="306.3" font-size="7.9" fill="#000" font-family="'DejaVu Sans','Liberation Sans',sans-serif" text-anchor="middle" textLength="21.6" lengthAdjust="spacingAndGlyphs" stroke="none">4.613</text>
<path d="M359.8,342.7 l3.5,-4.4 l3.5,4.4" fill="#f7f7f7" stroke="#cfcfcf" stroke-width="0.8"/><rect x="350.8" y="342.7" width="25" height="8" fill="#f7f7f7" stroke="#cfcfcf" stroke-width="0.8" /><text x="363.3" y="349.6" font-size="7.9" fill="#000" font-family="'DejaVu Sans','Liberation Sans',sans-serif" text-anchor="middle" textLength="21.6" lengthAdjust="spacingAndGlyphs" stroke="none">4.431</text>
<path d="M388.3,350.2 l3.5,-4.4 l3.5,4.4" fill="#f7f7f7" stroke="#cfcfcf" stroke-width="0.8"/><rect x="379.3" y="350.2" width="25" height="8" fill="#f7f7f7" stroke="#cfcfcf" stroke-width="0.8" /><text x="391.8" y="357.1" font-size="7.9" fill="#000" font-family="'DejaVu Sans','Liberation Sans',sans-serif" text-anchor="middle" textLength="21.6" lengthAdjust="spacingAndGlyphs" stroke="none">4.375</text>
<path d="M417.4,356.9 l3.5,-4.4 l3.5,4.4" fill="#f7f7f7" stroke="#cfcfcf" stroke-width="0.8"/><rect x="408.4" y="356.9" width="25" height="8" fill="#f7f7f7" stroke="#cfcfcf" stroke-width="0.8" /><text x="420.9" y="363.8" font-size="7.9" fill="#000" font-family="'DejaVu Sans','Liberation Sans',sans-serif" text-anchor="middle" textLength="21.6" lengthAdjust="spacingAndGlyphs" stroke="none">4.329</text>
<path d="M443.2,294.8 l3.5,4.4 l3.5,-4.4" fill="#f7f7f7" stroke="#cfcfcf" stroke-width="0.8"/><rect x="434.2" y="286.8" width="25" height="8" fill="#f7f7f7" stroke="#cfcfcf" stroke-width="0.8" /><text x="446.7" y="293.7" font-size="7.9" fill="#000" font-family="'DejaVu Sans','Liberation Sans',sans-serif" text-anchor="middle" textLength="21.6" lengthAdjust="spacingAndGlyphs" stroke="none">4.700</text>
<path d="M532.6,360.7 l3.5,4.4 l3.5,-4.4" fill="#f7f7f7" stroke="#cfcfcf" stroke-width="0.8"/><rect x="523.6" y="352.7" width="25" height="8" fill="#f7f7f7" stroke="#cfcfcf" stroke-width="0.8" /><text x="536.1" y="359.6" font-size="7.9" fill="#000" font-family="'DejaVu Sans','Liberation Sans',sans-serif" text-anchor="middle" textLength="21.6" lengthAdjust="spacingAndGlyphs" stroke="none">4.223</text>
<path d="M523.4,397.6 l3.5,-4.4 l3.5,4.4" fill="#f7f7f7" stroke="#cfcfcf" stroke-width="0.8"/><rect x="514.4" y="397.6" width="25" height="8" fill="#f7f7f7" stroke="#cfcfcf" stroke-width="0.8" /><text x="526.9" y="404.5" font-size="7.9" fill="#000" font-family="'DejaVu Sans','Liberation Sans',sans-serif" text-anchor="middle" textLength="21.6" lengthAdjust="spacingAndGlyphs" stroke="none">4.030</text>
<path d="M551.9,412.8 l3.5,-4.4 l3.5,4.4" fill="#f7f7f7" stroke="#cfcfcf" stroke-width="0.8"/><rect x="542.9" y="412.8" width="25" height="8" fill="#f7f7f7" stroke="#cfcfcf" stroke-width="0.8" /><text x="555.4" y="419.7" font-size="7.9" fill="#000" font-family="'DejaVu Sans','Liberation Sans',sans-serif" text-anchor="middle" textLength="21.6" lengthAdjust="spacingAndGlyphs" stroke="none">3.921</text>
<path d="M619.3,348.5 l3.5,4.4 l3.5,-4.4" fill="#f7f7f7" stroke="#cfcfcf" stroke-width="0.8"/><rect x="610.3" y="340.5" width="25" height="8" fill="#f7f7f7" stroke="#cfcfcf" stroke-width="0.8" /><text x="622.8" y="347.4" font-size="7.9" fill="#000" font-family="'DejaVu Sans','Liberation Sans',sans-serif" text-anchor="middle" textLength="21.6" lengthAdjust="spacingAndGlyphs" stroke="none">4.319</text>
<path d="M648,396 l3.5,-4.4 l3.5,4.4" fill="#f7f7f7" stroke="#cfcfcf" stroke-width="0.8"/><rect x="639" y="396" width="25" height="8" fill="#f7f7f7" stroke="#cfcfcf" stroke-width="0.8" /><text x="651.5" y="402.9" font-size="7.9" fill="#000" font-family="'DejaVu Sans','Liberation Sans',sans-serif" text-anchor="middle" textLength="21.6" lengthAdjust="spacingAndGlyphs" stroke="none">4.042</text>
<path d="M729.7,282.4 l3.5,4.4 l3.5,-4.4" fill="#f7f7f7" stroke="#cfcfcf" stroke-width="0.8"/><rect x="720.7" y="274.4" width="25" height="8" fill="#f7f7f7" stroke="#cfcfcf" stroke-width="0.8" /><text x="733.2" y="281.3" font-size="7.9" fill="#000" font-family="'DejaVu Sans','Liberation Sans',sans-serif" text-anchor="middle" textLength="21.6" lengthAdjust="spacingAndGlyphs" stroke="none">4.790</text>
<path d="M801.8,329.4 l3.5,4.4 l3.5,-4.4" fill="#f7f7f7" stroke="#cfcfcf" stroke-width="0.8"/><rect x="792.8" y="321.4" width="25" height="8" fill="#f7f7f7" stroke="#cfcfcf" stroke-width="0.8" /><text x="805.3" y="328.3" font-size="7.9" fill="#000" font-family="'DejaVu Sans','Liberation Sans',sans-serif" text-anchor="middle" textLength="21.6" lengthAdjust="spacingAndGlyphs" stroke="none">4.457</text>
<path d="M792.3,362 l3.5,-4.4 l3.5,4.4" fill="#f7f7f7" stroke="#cfcfcf" stroke-width="0.8"/><rect x="783.3" y="362" width="25" height="8" fill="#f7f7f7" stroke="#cfcfcf" stroke-width="0.8" /><text x="795.8" y="368.9" font-size="7.9" fill="#000" font-family="'DejaVu Sans','Liberation Sans',sans-serif" text-anchor="middle" textLength="21.6" lengthAdjust="spacingAndGlyphs" stroke="none">4.292</text>
<rect x="95.5" y="216.3" width="131" height="10" fill="#fff" />
<rect x="95.5" y="226.3" width="69" height="26.5" fill="#fff" />
<text x="109.3" y="224.1" font-size="8.6" fill="#111" font-family="'DejaVu Sans','Liberation Sans',sans-serif" textLength="116" lengthAdjust="spacingAndGlyphs" stroke="#111" stroke-width="0.22">$COPPER (Daily) 4.37</text>
<path d="M96,217.5 h6 v6 h-6 Z" fill="none"/>
<path d="M96.6,223.6 V218 L98.5,220.5 L100,218 V223.6 M101.8,223.6 V218.4 H104 V223.6 Z" fill="#333" stroke="#111" stroke-width="1"/>
<text x="96.2" y="224.1" font-size="8" fill="#000" font-family="'Liberation Sans',sans-serif" stroke="#000" stroke-width="0.22"></text>
<line x1="96.4" y1="229.9" x2="105" y2="229.9" stroke="#2a2aa8" stroke-width="1.6" />
<text x="106.7" y="232.9" font-size="9" fill="#2a2aa8" font-family="'Liberation Sans',sans-serif" textLength="52" lengthAdjust="spacingAndGlyphs" stroke="#2a2aa8" stroke-width="0.22">MA(50) 4.35</text>
<line x1="96.4" y1="238.9" x2="105" y2="238.9" stroke="#d8163e" stroke-width="1.6" />
<text x="106.7" y="241.9" font-size="9" fill="#d8163e" font-family="'Liberation Sans',sans-serif" textLength="56.5" lengthAdjust="spacingAndGlyphs" stroke="#d8163e" stroke-width="0.22">MA(200) 4.27</text>
<line x1="96.4" y1="247.8" x2="105" y2="247.8" stroke="#2a7a2a" stroke-width="1.6" />
<text x="106.7" y="250.8" font-size="9" fill="#2a7a2a" font-family="'Liberation Sans',sans-serif" textLength="52" lengthAdjust="spacingAndGlyphs" stroke="#2a7a2a" stroke-width="0.22">MA(20) 4.39</text>
<text x="544.2" y="295.4" font-size="11.2" fill="#3f3ff6" font-family="'Liberation Sans',sans-serif" font-weight="bold" textLength="166.5" lengthAdjust="spacingAndGlyphs" stroke="#3f3ff6" stroke-width="0.22">IF Copper = The Presciption</text>
<text x="544.2" y="307.6" font-size="11.2" fill="#3f3ff6" font-family="'Liberation Sans',sans-serif" font-weight="bold" textLength="152" lengthAdjust="spacingAndGlyphs" stroke="#3f3ff6" stroke-width="0.22">What's The Prognosis???</text>
<rect x="766.9" y="328.7" width="89.8" height="30.6" fill="none" stroke="#5a5aff" stroke-width="1.3" />
<path d="M857.6,340.6 L861.6,337.6 L881.4,337.6 L881.4,343.6 L861.6,343.6 Z" fill="#fff" stroke="#3d8f3d" stroke-width="1.0"/>
<path d="M857.6,352.2 L861.6,350.5 L881.4,350.5 L881.4,354 L861.6,354 Z" fill="#fff" stroke="#2a2aa8" stroke-width="1.0"/>
<path d="M857.6,359 L861.6,355.6 L881.4,355.6 L881.4,362.3 L861.6,362.3 Z" fill="#fff" stroke="#d8163e" stroke-width="1.0"/><text x="862.6" y="361.8" font-size="8.6" fill="#111" font-family="'Liberation Sans',sans-serif" textLength="17.3" lengthAdjust="spacingAndGlyphs" stroke="#111" stroke-width="0.22">4.27</text>
<path d="M857.6,346.4 L861.6,342.2 L881.4,342.2 L881.4,350.6 L861.6,350.6 Z" fill="#fff" stroke="#111" stroke-width="1.0"/><text x="862.6" y="349.4" font-size="9" fill="#111" font-family="'Liberation Sans',sans-serif" font-weight="bold" textLength="17.3" lengthAdjust="spacingAndGlyphs" stroke="#111" stroke-width="0.22">4.37</text>
<g clip-path="url(#cuA)"><polyline points="94.5,468.7 100.2,467.3 106.3,472.2 118.5,476.8 128.6,472.8 133.7,472.8 137.8,462.6 142.8,460.6 148.9,463.6 156.1,461.2 160.1,463.6 167.2,468.1 172.3,465.2 177.4,467.3 186.5,473.4 195.7,466.7 200.8,465.7 209.9,471.7 216,466.7 220.1,465.7 225.2,463.2 230.2,468.1 236.3,471.7 244.5,476.8 249.6,472.8 254.6,474.8 262.8,478.3 268.9,468.7 272.9,470.7 278,457.5 282.1,458.5 288.1,463.6 297.3,462.6 306.4,471.7 316.6,475.8 320.7,473.4 332.8,479.5 341,480.3 349.1,484.3 354.2,481.9 360.3,485 369.4,487 373.5,485 381.6,487 392.8,490 397.9,485.4 406,487 422.3,490 428.4,488.4 434.5,487 439.6,483.9 446.7,474.2 454.8,477.4 462.9,479.9 471.1,483.9 480.2,488 490.3,490.4 500.5,492.1 510.7,494.7 520.8,496.5 527.9,496.5 533,489 539.1,491.1 547.2,494.1 555.4,496.1 561.5,496.1 569.6,490 575.7,489 580.8,489.6 585.9,485.6 592,485 596,483.5 604.1,485 614.3,487 620.4,482.3 628.5,482.5 634.6,485 640.7,485.6 646.8,487.6 652.9,485 661.1,487 666.1,487.6 672.2,489 676.3,485 682.4,484.3 686.4,480.3 692.5,480.3 700.7,479.3 709.8,480.9 714.9,472.2 720,471.7 725,467.7 730.1,469.1 735.2,466.7 740.3,469.1 744.3,468.3 749.4,471.7 757.6,475.8 765.7,479.5 773.8,482.9 777.9,480.3 786,482.9 794.1,485.4 802.3,487.4 808.4,486.4 814.5,487 822.6,488 830.7,489.6 838.9,488.4 845,489.6 850.7,488.4" fill="none" stroke="#3f9066" stroke-width="1.35" stroke-linejoin="round" stroke-linecap="round" />
<polyline points="94.5,490 100.2,491.7 105.2,487.6 112.4,487.6 119.5,486.4 128.6,488.4 137.8,493.1 142.8,494.5 147.9,490 153,492.1 159.1,493.1 168.3,493.7 177.4,496.5 187.6,498.6 200.8,501.2 205.9,494.7 214,496.1 225.2,498.6 234.3,495.1 239.4,491.5 247.5,493.7 253.6,495.1 258.7,490 266.8,493.1 275,497.2 283.1,499.8 290.2,500.2 301.3,501.8 306.4,491.1 310.5,489 324.7,492.1 329.8,486 334.9,484.3 341,485 347.1,482.9 355.2,485 360.3,477.4 367.4,478.3 373.5,481.5 381.6,479.9 391.8,478.3 402,479.9 410.1,477.4 422.3,477.4 430.4,480.9 438.5,483.9 448.7,488.4 456.8,487 460.9,488.4 469,486 476.1,487 480.2,483.9 484.2,482.9 489.3,473.8 494.4,473.4 499.5,470.7 503.5,470.1 508.6,467.7 513.7,467.7 518.8,468.7 526.9,467.7 535,472.2 542.2,473.8 546.2,469.7 551.3,472.2 557.4,471.7 563.5,473.8 571.6,477.4 579.8,479.5 587.9,482.9 596,485 604.1,487 612.3,488.4 618.4,490.4 624.5,491.7 632.6,488 638.7,488 642.8,477.4 648.9,478.9 655,481.9 661.1,483.9 668.1,486 678.3,489 688.5,491.7 698.6,494.1 705.7,496.1 710.8,492.7 718.9,495.1 729.1,498.2 737.2,500.2 744.3,501.2 749.4,498.8 755.5,499.2 761.6,495.1 767.7,489.6 773.8,490.7 782,490 787,486 792.1,487.6 798.2,486 804.3,488 812.4,489.6 818.5,487.6 826.7,489 834.8,490.4 842.9,492.1 850.7,493.7" fill="none" stroke="#ad4676" stroke-width="1.35" stroke-linejoin="round" stroke-linecap="round" />
<path d="M94.5,467.7C95.8,467.5 99.6,466.6 102.2,466.7C104.8,466.7 107.3,467.5 110.3,468.1C113.4,468.7 116.8,469.8 120.5,470.1C124.2,470.5 129,470.9 132.7,470.1C136.4,469.4 138.8,466.9 142.8,465.7C146.9,464.4 152.3,463.6 157.1,462.6C161.8,461.7 166.2,461.1 171.3,460C176.4,458.8 182.8,457.1 187.6,455.5C192.3,453.9 195.7,451.4 199.8,450.4C203.8,449.5 207.2,450.5 212,449.8C216.7,449.1 224.1,446.8 228.2,446.3C232.3,445.9 233,446.5 236.3,447C239.7,447.4 244.5,448 248.5,449C252.6,450 257.3,452.4 260.7,453C264.1,453.7 265.5,453.7 268.9,453C272.2,452.4 277.2,450.3 281.1,449C284.9,447.7 288.6,446.8 292.2,445.3C295.7,443.9 299.3,440.4 302.4,440.2C305.4,440.1 307.4,443 310.5,444.3C313.5,445.7 317.3,446.7 320.7,448.4C324,450.1 327.4,452.3 330.8,454.5C334.2,456.7 337.6,459.4 341,461.6C344.4,463.8 347.8,466.1 351.1,467.7C354.5,469.3 357.9,470.3 361.3,471.3C364.7,472.4 368.1,473 371.5,473.8C374.9,474.6 378.2,475.5 381.6,476.2C385,476.9 388.4,477.3 391.8,477.8C395.2,478.4 398.6,479.1 402,479.5C405.3,479.9 408.7,480.1 412.1,480.3C415.5,480.4 418.9,480 422.3,480.3C425.7,480.6 429.1,481.4 432.4,481.9C435.8,482.5 439.2,483.3 442.6,483.5C446,483.8 449.4,483.4 452.8,483.5C456.2,483.7 459.5,484.1 462.9,484.6C466.3,485 470.6,485.5 473.1,486C475.6,486.5 475.9,487.3 478.1,487.6C480.3,487.9 483.2,488.6 486.3,488C489.3,487.4 493,485.4 496.4,483.9C499.8,482.5 503.2,481.1 506.6,479.5C510,477.8 513.4,475.8 516.7,474.2C520.1,472.6 523.2,470.5 526.9,469.7C530.6,468.9 535,470 539.1,469.3C543.2,468.6 547.6,466.7 551.3,465.7C555,464.6 558.1,463.4 561.5,463.2C564.9,463 568.6,464 571.6,464.6C574.7,465.3 577,466.2 579.8,467.3C582.5,468.4 585.2,470.1 587.9,471.3C590.6,472.6 593.3,473.6 596,474.8C598.7,475.9 601.1,477.1 604.1,478.3C607.2,479.4 610.9,480.9 614.3,481.5C617.7,482.1 621.4,481.5 624.5,481.9C627.5,482.3 629.6,483.5 632.6,483.9C635.7,484.4 639.4,484.3 642.8,484.6C646.2,484.8 649.5,485.1 652.9,485.6C656.3,486.1 659.9,486.9 663.1,487.6C666.3,488.3 669,489.2 672.2,489.6C675.4,490 679,490.3 682.4,490C685.7,489.8 689.1,489 692.5,488C695.9,487.1 699.3,485.4 702.7,484.3C706.1,483.3 709.5,483.3 712.8,481.9C716.2,480.6 719.6,478.3 723,476.2C726.4,474.2 729.8,471.8 733.2,469.7C736.6,467.6 740.3,465.1 743.3,463.6C746.4,462.1 748.8,461.5 751.5,460.6C754.1,459.7 756.1,458 759.2,458.1C762.2,458.3 766,460.4 769.8,461.6C773.6,462.8 778.2,463.7 782,465.2C785.7,466.8 788.7,468.9 792.1,470.7C795.5,472.6 798.6,474.5 802.3,476.2C806,477.9 810.4,479.3 814.5,480.9C818.5,482.5 822.9,484.5 826.7,485.6C830.4,486.7 833.8,487.1 836.8,487.6C839.9,488.1 842.7,488.6 845,488.6C847.3,488.7 849.7,488.1 850.7,488" fill="none" stroke="#1c1c1c" stroke-width="1.75" stroke-linejoin="round" stroke-linecap="round" /></g>
<rect x="95.5" y="436.4" width="206.5" height="9.9" fill="#fff" />
<line x1="96.5" y1="441" x2="104.6" y2="441" stroke="#111" stroke-width="1.6" />
<text x="108.3" y="444.2" font-size="8.8" fill="#111" font-family="'DejaVu Sans','Liberation Sans',sans-serif" textLength="78.5" lengthAdjust="spacingAndGlyphs" stroke="#111" stroke-width="0.22">ADX(14) 16.15</text>
<text x="190.6" y="444.2" font-size="8.8" fill="#2a7a4a" font-family="'DejaVu Sans','Liberation Sans',sans-serif" textLength="54.5" lengthAdjust="spacingAndGlyphs" stroke="#2a7a4a" stroke-width="0.22">+DI 16.86</text>
<text x="250.6" y="444.2" font-size="8.8" fill="#a03060" font-family="'DejaVu Sans','Liberation Sans',sans-serif" textLength="50.5" lengthAdjust="spacingAndGlyphs" stroke="#a03060" stroke-width="0.22">-DI 11.99</text>
<rect x="777.6" y="468" width="114.8" height="36" fill="none" stroke="#5a5aff" stroke-width="1.3" />
<path d="M854.7,485.1 L858.7,481.3 L886.9,481.3 L886.9,489 L858.7,489 Z" fill="#fff" stroke="#2a6a4a" stroke-width="1.4"/>
<path d="M856,494.5 L860,491.5 L886.9,491.5 L886.9,497.5 L860,497.5 Z" fill="#fff" stroke="#a84a78" stroke-width="1.0"/><text x="861" y="497.4" font-size="8.6" fill="#111" font-family="'Liberation Sans',sans-serif" textLength="24.4" lengthAdjust="spacingAndGlyphs" stroke="#111" stroke-width="0.22">11.99</text>
<path d="M854.7,487.1 L858.7,482.8 L886.9,482.8 L886.9,491.4 L858.7,491.4 Z" fill="#fff" stroke="#222" stroke-width="1.0"/><text x="859.7" y="490.1" font-size="9" fill="#111" font-family="'Liberation Sans',sans-serif" textLength="25.7" lengthAdjust="spacingAndGlyphs" stroke="#111" stroke-width="0.22">16.15</text>
<g clip-path="url(#cuM)"><rect x="92.7" y="547" width="4.8" height="2.4" fill="#4ea6cf" stroke="#2a7aa4" stroke-width="0.7" />
<rect x="97.5" y="547.4" width="4.8" height="2" fill="#4ea6cf" stroke="#2a7aa4" stroke-width="0.7" />
<rect x="102.3" y="548.6" width="4.8" height="0.8" fill="#4ea6cf" stroke="#2a7aa4" stroke-width="0.7" />
<rect x="107.1" y="549.4" width="4.8" height="1.3" fill="#4ea6cf" stroke="#2a7aa4" stroke-width="0.7" />
<rect x="111.9" y="549.4" width="4.8" height="1.9" fill="#4ea6cf" stroke="#2a7aa4" stroke-width="0.7" />
<rect x="116.7" y="549.4" width="4.8" height="2.3" fill="#4ea6cf" stroke="#2a7aa4" stroke-width="0.7" />
<rect x="121.6" y="549.4" width="4.8" height="2.4" fill="#4ea6cf" stroke="#2a7aa4" stroke-width="0.7" />
<rect x="126.4" y="549.4" width="4.8" height="2.4" fill="#4ea6cf" stroke="#2a7aa4" stroke-width="0.7" />
<rect x="131.2" y="549.4" width="4.8" height="0.7" fill="#4ea6cf" stroke="#2a7aa4" stroke-width="0.7" />
<rect x="136" y="547.9" width="4.8" height="1.5" fill="#4ea6cf" stroke="#2a7aa4" stroke-width="0.7" />
<rect x="140.8" y="547.1" width="4.8" height="2.3" fill="#4ea6cf" stroke="#2a7aa4" stroke-width="0.7" />
<rect x="145.6" y="546.5" width="4.8" height="2.9" fill="#4ea6cf" stroke="#2a7aa4" stroke-width="0.7" />
<rect x="150.4" y="546.5" width="4.8" height="2.9" fill="#4ea6cf" stroke="#2a7aa4" stroke-width="0.7" />
<rect x="155.2" y="546.5" width="4.8" height="2.9" fill="#4ea6cf" stroke="#2a7aa4" stroke-width="0.7" />
<rect x="160.1" y="546.5" width="4.8" height="2.9" fill="#4ea6cf" stroke="#2a7aa4" stroke-width="0.7" />
<rect x="164.9" y="547" width="4.8" height="2.4" fill="#4ea6cf" stroke="#2a7aa4" stroke-width="0.7" />
<rect x="169.7" y="547.7" width="4.8" height="1.7" fill="#4ea6cf" stroke="#2a7aa4" stroke-width="0.7" />
<rect x="174.5" y="547.2" width="4.8" height="2.2" fill="#4ea6cf" stroke="#2a7aa4" stroke-width="0.7" />
<rect x="179.3" y="547.7" width="4.8" height="1.7" fill="#4ea6cf" stroke="#2a7aa4" stroke-width="0.7" />
<rect x="184.1" y="548" width="4.8" height="1.4" fill="#4ea6cf" stroke="#2a7aa4" stroke-width="0.7" />
<rect x="188.9" y="547.4" width="4.8" height="2" fill="#4ea6cf" stroke="#2a7aa4" stroke-width="0.7" />
<rect x="193.7" y="546.8" width="4.8" height="2.6" fill="#4ea6cf" stroke="#2a7aa4" stroke-width="0.7" />
<rect x="198.6" y="547.4" width="4.8" height="2" fill="#4ea6cf" stroke="#2a7aa4" stroke-width="0.7" />
<rect x="203.4" y="547.9" width="4.8" height="1.5" fill="#4ea6cf" stroke="#2a7aa4" stroke-width="0.7" />
<rect x="208.2" y="548.3" width="4.8" height="1.1" fill="#4ea6cf" stroke="#2a7aa4" stroke-width="0.7" />
<rect x="213" y="548" width="4.8" height="1.4" fill="#4ea6cf" stroke="#2a7aa4" stroke-width="0.7" />
<rect x="217.8" y="547.4" width="4.8" height="2" fill="#4ea6cf" stroke="#2a7aa4" stroke-width="0.7" />
<rect x="222.6" y="547.2" width="4.8" height="2.2" fill="#4ea6cf" stroke="#2a7aa4" stroke-width="0.7" />
<rect x="227.4" y="548.4" width="4.8" height="1" fill="#4ea6cf" stroke="#2a7aa4" stroke-width="0.7" />
<rect x="232.3" y="549.4" width="4.8" height="0.4" fill="#4ea6cf" stroke="#2a7aa4" stroke-width="0.7" />
<rect x="237.1" y="549.4" width="4.8" height="1.4" fill="#4ea6cf" stroke="#2a7aa4" stroke-width="0.7" />
<rect x="241.9" y="549.4" width="4.8" height="1.7" fill="#4ea6cf" stroke="#2a7aa4" stroke-width="0.7" />
<rect x="246.7" y="549.4" width="4.8" height="1.9" fill="#4ea6cf" stroke="#2a7aa4" stroke-width="0.7" />
<rect x="251.5" y="549.4" width="4.8" height="2.2" fill="#4ea6cf" stroke="#2a7aa4" stroke-width="0.7" />
<rect x="256.3" y="549.4" width="4.8" height="2.8" fill="#4ea6cf" stroke="#2a7aa4" stroke-width="0.7" />
<rect x="261.1" y="549.4" width="4.8" height="3.1" fill="#4ea6cf" stroke="#2a7aa4" stroke-width="0.7" />
<rect x="265.9" y="549.4" width="4.8" height="2.1" fill="#4ea6cf" stroke="#2a7aa4" stroke-width="0.7" />
<rect x="270.8" y="549.4" width="4.8" height="0.4" fill="#4ea6cf" stroke="#2a7aa4" stroke-width="0.7" />
<rect x="275.6" y="547.4" width="4.8" height="2" fill="#4ea6cf" stroke="#2a7aa4" stroke-width="0.7" />
<rect x="280.4" y="546.2" width="4.8" height="3.2" fill="#4ea6cf" stroke="#2a7aa4" stroke-width="0.7" />
<rect x="285.2" y="545.4" width="4.8" height="4" fill="#4ea6cf" stroke="#2a7aa4" stroke-width="0.7" />
<rect x="290" y="544.3" width="4.8" height="5.1" fill="#4ea6cf" stroke="#2a7aa4" stroke-width="0.7" />
<rect x="294.8" y="543.3" width="4.8" height="6.1" fill="#4ea6cf" stroke="#2a7aa4" stroke-width="0.7" />
<rect x="299.6" y="543.3" width="4.8" height="6.1" fill="#4ea6cf" stroke="#2a7aa4" stroke-width="0.7" />
<rect x="304.4" y="545.1" width="4.8" height="4.3" fill="#4ea6cf" stroke="#2a7aa4" stroke-width="0.7" />
<rect x="309.3" y="549.4" width="4.8" height="0.4" fill="#4ea6cf" stroke="#2a7aa4" stroke-width="0.7" />
<rect x="314.1" y="549.4" width="4.8" height="3.5" fill="#4ea6cf" stroke="#2a7aa4" stroke-width="0.7" />
<rect x="318.9" y="549.4" width="4.8" height="4.9" fill="#4ea6cf" stroke="#2a7aa4" stroke-width="0.7" />
<rect x="323.7" y="549.4" width="4.8" height="6.7" fill="#4ea6cf" stroke="#2a7aa4" stroke-width="0.7" />
<rect x="328.5" y="549.4" width="4.8" height="8.4" fill="#4ea6cf" stroke="#2a7aa4" stroke-width="0.7" />
<rect x="333.3" y="549.4" width="4.8" height="9.8" fill="#4ea6cf" stroke="#2a7aa4" stroke-width="0.7" />
<rect x="338.1" y="549.4" width="4.8" height="10.7" fill="#4ea6cf" stroke="#2a7aa4" stroke-width="0.7" />
<rect x="342.9" y="549.4" width="4.8" height="11.4" fill="#4ea6cf" stroke="#2a7aa4" stroke-width="0.7" />
<rect x="347.8" y="549.4" width="4.8" height="11.4" fill="#4ea6cf" stroke="#2a7aa4" stroke-width="0.7" />
<rect x="352.6" y="549.4" width="4.8" height="11.1" fill="#4ea6cf" stroke="#2a7aa4" stroke-width="0.7" />
<rect x="357.4" y="549.4" width="4.8" height="10.4" fill="#4ea6cf" stroke="#2a7aa4" stroke-width="0.7" />
<rect x="362.2" y="549.4" width="4.8" height="9.6" fill="#4ea6cf" stroke="#2a7aa4" stroke-width="0.7" />
<rect x="367" y="549.4" width="4.8" height="8.7" fill="#4ea6cf" stroke="#2a7aa4" stroke-width="0.7" />
<rect x="371.8" y="549.4" width="4.8" height="7.5" fill="#4ea6cf" stroke="#2a7aa4" stroke-width="0.7" />
<rect x="376.6" y="549.4" width="4.8" height="6.5" fill="#4ea6cf" stroke="#2a7aa4" stroke-width="0.7" />
<rect x="381.5" y="549.4" width="4.8" height="5.9" fill="#4ea6cf" stroke="#2a7aa4" stroke-width="0.7" />
<rect x="386.3" y="549.4" width="4.8" height="5.3" fill="#4ea6cf" stroke="#2a7aa4" stroke-width="0.7" />
<rect x="391.1" y="549.4" width="4.8" height="4.7" fill="#4ea6cf" stroke="#2a7aa4" stroke-width="0.7" />
<rect x="395.9" y="549.4" width="4.8" height="4.7" fill="#4ea6cf" stroke="#2a7aa4" stroke-width="0.7" />
<rect x="400.7" y="549.4" width="4.8" height="4.7" fill="#4ea6cf" stroke="#2a7aa4" stroke-width="0.7" />
<rect x="405.5" y="549.4" width="4.8" height="4.7" fill="#4ea6cf" stroke="#2a7aa4" stroke-width="0.7" />
<rect x="410.3" y="549.4" width="4.8" height="4.7" fill="#4ea6cf" stroke="#2a7aa4" stroke-width="0.7" />
<rect x="415.1" y="549.4" width="4.8" height="4.7" fill="#4ea6cf" stroke="#2a7aa4" stroke-width="0.7" />
<rect x="420" y="549.4" width="4.8" height="4.7" fill="#4ea6cf" stroke="#2a7aa4" stroke-width="0.7" />
<rect x="424.8" y="549.4" width="4.8" height="4" fill="#4ea6cf" stroke="#2a7aa4" stroke-width="0.7" />
<rect x="429.6" y="549.4" width="4.8" height="3.3" fill="#4ea6cf" stroke="#2a7aa4" stroke-width="0.7" />
<rect x="434.4" y="549.4" width="4.8" height="1.8" fill="#4ea6cf" stroke="#2a7aa4" stroke-width="0.7" />
<rect x="439.2" y="549.1" width="4.8" height="0.4" fill="#4ea6cf" stroke="#2a7aa4" stroke-width="0.7" />
<rect x="444" y="546.9" width="4.8" height="2.5" fill="#4ea6cf" stroke="#2a7aa4" stroke-width="0.7" />
<rect x="448.8" y="545.9" width="4.8" height="3.5" fill="#4ea6cf" stroke="#2a7aa4" stroke-width="0.7" />
<rect x="453.6" y="545.9" width="4.8" height="3.5" fill="#4ea6cf" stroke="#2a7aa4" stroke-width="0.7" />
<rect x="458.5" y="546" width="4.8" height="3.4" fill="#4ea6cf" stroke="#2a7aa4" stroke-width="0.7" />
<rect x="463.3" y="546.3" width="4.8" height="3.1" fill="#4ea6cf" stroke="#2a7aa4" stroke-width="0.7" />
<rect x="468.1" y="546.4" width="4.8" height="3" fill="#4ea6cf" stroke="#2a7aa4" stroke-width="0.7" />
<rect x="472.9" y="546.5" width="4.8" height="2.9" fill="#4ea6cf" stroke="#2a7aa4" stroke-width="0.7" />
<rect x="477.7" y="548" width="4.8" height="1.4" fill="#4ea6cf" stroke="#2a7aa4" stroke-width="0.7" />
<rect x="482.5" y="549.4" width="4.8" height="1.3" fill="#4ea6cf" stroke="#2a7aa4" stroke-width="0.7" />
<rect x="487.3" y="549.4" width="4.8" height="5" fill="#4ea6cf" stroke="#2a7aa4" stroke-width="0.7" />
<rect x="492.2" y="549.4" width="4.8" height="6.2" fill="#4ea6cf" stroke="#2a7aa4" stroke-width="0.7" />
<rect x="497" y="549.4" width="4.8" height="7.1" fill="#4ea6cf" stroke="#2a7aa4" stroke-width="0.7" />
<rect x="501.8" y="549.4" width="4.8" height="7.7" fill="#4ea6cf" stroke="#2a7aa4" stroke-width="0.7" />
<rect x="506.6" y="549.4" width="4.8" height="7.9" fill="#4ea6cf" stroke="#2a7aa4" stroke-width="0.7" />
<rect x="511.4" y="549.4" width="4.8" height="8.1" fill="#4ea6cf" stroke="#2a7aa4" stroke-width="0.7" />
<rect x="516.2" y="549.4" width="4.8" height="7.8" fill="#4ea6cf" stroke="#2a7aa4" stroke-width="0.7" />
<rect x="521" y="549.4" width="4.8" height="7.1" fill="#4ea6cf" stroke="#2a7aa4" stroke-width="0.7" />
<rect x="525.8" y="549.4" width="4.8" height="5.9" fill="#4ea6cf" stroke="#2a7aa4" stroke-width="0.7" />
<rect x="530.7" y="549.4" width="4.8" height="4.7" fill="#4ea6cf" stroke="#2a7aa4" stroke-width="0.7" />
<rect x="535.5" y="549.4" width="4.8" height="3.5" fill="#4ea6cf" stroke="#2a7aa4" stroke-width="0.7" />
<rect x="540.3" y="549.4" width="4.8" height="3.7" fill="#4ea6cf" stroke="#2a7aa4" stroke-width="0.7" />
<rect x="545.1" y="549.4" width="4.8" height="4.2" fill="#4ea6cf" stroke="#2a7aa4" stroke-width="0.7" />
<rect x="549.9" y="549.4" width="4.8" height="3.6" fill="#4ea6cf" stroke="#2a7aa4" stroke-width="0.7" />
<rect x="554.7" y="549.4" width="4.8" height="3.1" fill="#4ea6cf" stroke="#2a7aa4" stroke-width="0.7" />
<rect x="559.5" y="549.4" width="4.8" height="2.7" fill="#4ea6cf" stroke="#2a7aa4" stroke-width="0.7" />
<rect x="564.3" y="549.4" width="4.8" height="1.9" fill="#4ea6cf" stroke="#2a7aa4" stroke-width="0.7" />
<rect x="569.2" y="549.4" width="4.8" height="0.6" fill="#4ea6cf" stroke="#2a7aa4" stroke-width="0.7" />
<rect x="574" y="549" width="4.8" height="0.4" fill="#4ea6cf" stroke="#2a7aa4" stroke-width="0.7" />
<rect x="578.8" y="548.2" width="4.8" height="1.2" fill="#4ea6cf" stroke="#2a7aa4" stroke-width="0.7" />
<rect x="583.6" y="546.9" width="4.8" height="2.5" fill="#4ea6cf" stroke="#2a7aa4" stroke-width="0.7" />
<rect x="588.4" y="545.3" width="4.8" height="4.1" fill="#4ea6cf" stroke="#2a7aa4" stroke-width="0.7" />
<rect x="593.2" y="544.6" width="4.8" height="4.8" fill="#4ea6cf" stroke="#2a7aa4" stroke-width="0.7" />
<rect x="598" y="544.3" width="4.8" height="5.1" fill="#4ea6cf" stroke="#2a7aa4" stroke-width="0.7" />
<rect x="602.9" y="543.8" width="4.8" height="5.6" fill="#4ea6cf" stroke="#2a7aa4" stroke-width="0.7" />
<rect x="607.7" y="543.6" width="4.8" height="5.8" fill="#4ea6cf" stroke="#2a7aa4" stroke-width="0.7" />
<rect x="612.5" y="543.8" width="4.8" height="5.6" fill="#4ea6cf" stroke="#2a7aa4" stroke-width="0.7" />
<rect x="617.3" y="543.2" width="4.8" height="6.2" fill="#4ea6cf" stroke="#2a7aa4" stroke-width="0.7" />
<rect x="622.1" y="542.3" width="4.8" height="7.1" fill="#4ea6cf" stroke="#2a7aa4" stroke-width="0.7" />
<rect x="626.9" y="543.1" width="4.8" height="6.3" fill="#4ea6cf" stroke="#2a7aa4" stroke-width="0.7" />
<rect x="631.7" y="544.2" width="4.8" height="5.2" fill="#4ea6cf" stroke="#2a7aa4" stroke-width="0.7" />
<rect x="636.5" y="545.7" width="4.8" height="3.7" fill="#4ea6cf" stroke="#2a7aa4" stroke-width="0.7" />
<rect x="641.4" y="547.4" width="4.8" height="2" fill="#4ea6cf" stroke="#2a7aa4" stroke-width="0.7" />
<rect x="646.2" y="549.3" width="4.8" height="0.4" fill="#4ea6cf" stroke="#2a7aa4" stroke-width="0.7" />
<rect x="651" y="549.4" width="4.8" height="0.6" fill="#4ea6cf" stroke="#2a7aa4" stroke-width="0.7" />
<rect x="655.8" y="549.4" width="4.8" height="0.9" fill="#4ea6cf" stroke="#2a7aa4" stroke-width="0.7" />
<rect x="660.6" y="549.4" width="4.8" height="0.6" fill="#4ea6cf" stroke="#2a7aa4" stroke-width="0.7" />
<rect x="665.4" y="549.4" width="4.8" height="0.4" fill="#4ea6cf" stroke="#2a7aa4" stroke-width="0.7" />
<rect x="670.2" y="549.2" width="4.8" height="0.4" fill="#4ea6cf" stroke="#2a7aa4" stroke-width="0.7" />
<rect x="675" y="548.6" width="4.8" height="0.8" fill="#4ea6cf" stroke="#2a7aa4" stroke-width="0.7" />
<rect x="679.9" y="547.9" width="4.8" height="1.5" fill="#4ea6cf" stroke="#2a7aa4" stroke-width="0.7" />
<rect x="684.7" y="547.1" width="4.8" height="2.3" fill="#4ea6cf" stroke="#2a7aa4" stroke-width="0.7" />
<rect x="689.5" y="546.4" width="4.8" height="3" fill="#4ea6cf" stroke="#2a7aa4" stroke-width="0.7" />
<rect x="694.3" y="545.9" width="4.8" height="3.5" fill="#4ea6cf" stroke="#2a7aa4" stroke-width="0.7" />
<rect x="699.1" y="545.4" width="4.8" height="4" fill="#4ea6cf" stroke="#2a7aa4" stroke-width="0.7" />
<rect x="703.9" y="545" width="4.8" height="4.4" fill="#4ea6cf" stroke="#2a7aa4" stroke-width="0.7" />
<rect x="708.7" y="544.4" width="4.8" height="5" fill="#4ea6cf" stroke="#2a7aa4" stroke-width="0.7" />
<rect x="713.6" y="543.2" width="4.8" height="6.2" fill="#4ea6cf" stroke="#2a7aa4" stroke-width="0.7" />
<rect x="718.4" y="542.1" width="4.8" height="7.3" fill="#4ea6cf" stroke="#2a7aa4" stroke-width="0.7" />
<rect x="723.2" y="541.1" width="4.8" height="8.3" fill="#4ea6cf" stroke="#2a7aa4" stroke-width="0.7" />
<rect x="728" y="541.4" width="4.8" height="8" fill="#4ea6cf" stroke="#2a7aa4" stroke-width="0.7" />
<rect x="732.8" y="542.4" width="4.8" height="7" fill="#4ea6cf" stroke="#2a7aa4" stroke-width="0.7" />
<rect x="737.6" y="543.2" width="4.8" height="6.2" fill="#4ea6cf" stroke="#2a7aa4" stroke-width="0.7" />
<rect x="742.4" y="543.7" width="4.8" height="5.7" fill="#4ea6cf" stroke="#2a7aa4" stroke-width="0.7" />
<rect x="747.2" y="544.6" width="4.8" height="4.8" fill="#4ea6cf" stroke="#2a7aa4" stroke-width="0.7" />
<rect x="752.1" y="546.2" width="4.8" height="3.2" fill="#4ea6cf" stroke="#2a7aa4" stroke-width="0.7" />
<rect x="756.9" y="547.5" width="4.8" height="1.9" fill="#4ea6cf" stroke="#2a7aa4" stroke-width="0.7" />
<rect x="761.7" y="549.4" width="4.8" height="0.5" fill="#4ea6cf" stroke="#2a7aa4" stroke-width="0.7" />
<rect x="766.5" y="549.4" width="4.8" height="3" fill="#4ea6cf" stroke="#2a7aa4" stroke-width="0.7" />
<rect x="771.3" y="549.4" width="4.8" height="4.3" fill="#4ea6cf" stroke="#2a7aa4" stroke-width="0.7" />
<rect x="776.1" y="549.4" width="4.8" height="4.4" fill="#4ea6cf" stroke="#2a7aa4" stroke-width="0.7" />
<rect x="780.9" y="549.4" width="4.8" height="5.5" fill="#4ea6cf" stroke="#2a7aa4" stroke-width="0.7" />
<rect x="785.7" y="549.4" width="4.8" height="6.3" fill="#4ea6cf" stroke="#2a7aa4" stroke-width="0.7" />
<rect x="790.6" y="549.4" width="4.8" height="6.8" fill="#4ea6cf" stroke="#2a7aa4" stroke-width="0.7" />
<rect x="795.4" y="549.4" width="4.8" height="6.5" fill="#4ea6cf" stroke="#2a7aa4" stroke-width="0.7" />
<rect x="800.2" y="549.4" width="4.8" height="6" fill="#4ea6cf" stroke="#2a7aa4" stroke-width="0.7" />
<rect x="805" y="549.4" width="4.8" height="5.4" fill="#4ea6cf" stroke="#2a7aa4" stroke-width="0.7" />
<rect x="809.8" y="549.4" width="4.8" height="4.8" fill="#4ea6cf" stroke="#2a7aa4" stroke-width="0.7" />
<rect x="814.6" y="549.4" width="4.8" height="4.2" fill="#4ea6cf" stroke="#2a7aa4" stroke-width="0.7" />
<rect x="819.4" y="549.4" width="4.8" height="3.6" fill="#4ea6cf" stroke="#2a7aa4" stroke-width="0.7" />
<rect x="824.2" y="549.4" width="4.8" height="3.1" fill="#4ea6cf" stroke="#2a7aa4" stroke-width="0.7" />
<rect x="829.1" y="549.4" width="4.8" height="2.7" fill="#4ea6cf" stroke="#2a7aa4" stroke-width="0.7" />
<rect x="833.9" y="549.4" width="4.8" height="2.5" fill="#4ea6cf" stroke="#2a7aa4" stroke-width="0.7" />
<rect x="838.7" y="549.4" width="4.8" height="2.3" fill="#4ea6cf" stroke="#2a7aa4" stroke-width="0.7" />
<rect x="843.5" y="549.4" width="4.8" height="1.7" fill="#4ea6cf" stroke="#2a7aa4" stroke-width="0.7" />
<rect x="848.3" y="549.4" width="4.8" height="0.8" fill="#4ea6cf" stroke="#2a7aa4" stroke-width="0.7" />
<path d="M94.5,540.2C96.4,540 101.9,538.9 106.3,538.8C110.6,538.8 116.4,539.5 120.5,539.8C124.6,540.2 126.9,540.9 130.7,540.9C134.4,540.9 138.1,540.7 142.8,539.8C147.6,539 153.7,536.9 159.1,535.8C164.5,534.7 168.6,534.3 175.4,533.3C182.1,532.4 191.6,531.2 199.8,530.1C207.9,529 217.4,527.2 224.1,526.6C230.9,526.1 235.7,526.6 240.4,526.6C245.1,526.6 248.5,526.4 252.6,526.6C256.7,526.9 260.7,528.2 264.8,528.3C268.9,528.4 272.4,528 277,527.2C281.6,526.5 287.3,524.8 292.2,523.6C297.1,522.4 301.7,520.5 306.4,520.1C311.2,519.8 316.6,520.6 320.7,521.5C324.7,522.5 327.4,524.1 330.8,525.6C334.2,527.1 337.6,528.9 341,530.7C344.4,532.5 347.8,534.5 351.1,536.4C354.5,538.2 357.9,540.1 361.3,541.9C364.7,543.6 368.1,545.4 371.5,547C374.9,548.5 378.2,549.8 381.6,551C385,552.2 388.4,553.1 391.8,554.1C395.2,555 398.6,555.9 402,556.7C405.3,557.6 408.7,558.5 412.1,559.1C415.5,559.8 418.9,560.4 422.3,560.8C425.7,561.2 429.1,561.6 432.4,561.6C435.8,561.6 439.2,561.3 442.6,560.8C446,560.2 449.4,559.1 452.8,558.1C456.2,557.2 459.5,555.9 462.9,555.1C466.3,554.3 470.6,553.8 473.1,553.5C475.6,553.1 475.9,553 478.1,553C480.3,553 483.2,552.9 486.3,553.5C489.3,554 493,554.9 496.4,556.1C499.8,557.3 502.9,559.2 506.6,560.8C510.3,562.4 514.7,564.3 518.8,565.7C522.8,567 526.9,568.1 531,568.9C535,569.7 539.1,569.9 543.2,570.3C547.2,570.8 551.6,571.3 555.4,571.7C559.1,572.2 562.1,572.7 565.5,572.8C568.9,572.9 572.3,572.7 575.7,572.4C579.1,572.1 582.5,571.6 585.9,570.9C589.2,570.3 592.3,569.4 596,568.3C599.7,567.2 604.1,565.7 608.2,564.2C612.3,562.8 616.3,561 620.4,559.6C624.5,558.1 628.9,556.5 632.6,555.5C636.3,554.5 639.4,553.9 642.8,553.5C646.2,553 649.5,553.2 652.9,553C656.3,552.9 659.9,552.6 663.1,552.6C666.3,552.7 668.6,553.6 672.2,553.5C675.7,553.4 680.3,552.7 684.4,552C688.5,551.4 692.5,550.3 696.6,549.4C700.7,548.5 704.7,547.7 708.8,546.5C712.8,545.4 716.9,543.9 721,542.5C725,541 729.1,539.3 733.2,537.8C737.2,536.3 741.6,534.8 745.4,533.7C749.1,532.7 752.8,532.1 755.5,531.7C758.2,531.3 759.3,531.1 761.6,531.3C764,531.5 766.4,532 769.8,532.7C773.1,533.5 777.9,534.6 782,535.8C786,537 790.1,538.5 794.1,539.8C798.2,541.2 802.3,542.7 806.3,543.9C810.4,545.1 814.5,546.1 818.5,547C822.6,547.8 826.7,548.4 830.7,549C834.8,549.6 839.6,550.1 842.9,550.4C846.2,550.7 849.4,550.9 850.7,551" fill="none" stroke="#f03030" stroke-width="1.35" stroke-linejoin="round" stroke-linecap="round" />
<path d="M94.5,536.8C95.8,536.9 99.6,536.8 102.2,537.2C104.8,537.6 107.3,538.8 110.3,539.4C113.4,540.1 116.8,540.9 120.5,541.3C124.2,541.6 129,542.1 132.7,541.5C136.4,540.8 138.4,539 142.8,537.4C147.2,535.8 155,532.6 159.1,531.7C163.2,530.8 164.4,532.4 167.2,532.1C170.1,531.8 173.3,530.3 176.4,530.1C179.4,529.8 181.6,531.3 185.5,530.7C189.4,530 195.7,526.8 199.8,526.2C203.8,525.6 205.9,527.5 209.9,527C214,526.6 220.4,524 224.1,523.6C227.9,523.2 229.6,524.1 232.3,524.6C235,525.1 237,526.2 240.4,526.6C243.8,527 248.9,526.5 252.6,527C256.3,527.5 259.4,529.6 262.8,529.7C266.2,529.8 269.5,528.7 272.9,527.6C276.3,526.6 279.9,524.7 283.1,523.2C286.3,521.6 288.6,519.6 292.2,518.5C295.7,517.4 301.3,516.4 304.4,516.5C307.4,516.5 307.8,517.4 310.5,518.9C313.2,520.4 317.3,523 320.7,525.6C324,528.3 327.4,531.9 330.8,534.8C334.2,537.6 337.6,540.9 341,542.9C344.4,544.9 347.8,545.5 351.1,547C354.5,548.4 357.9,550.1 361.3,551.4C364.7,552.8 368.1,554.1 371.5,555.1C374.9,556.1 378.6,556.8 381.6,557.5C384.7,558.2 387,559 389.8,559.1C392.5,559.2 395.2,558 397.9,558.1C400.6,558.3 403.3,559.4 406,560.2C408.7,560.9 411.4,562.1 414.1,562.8C416.9,563.5 419.6,564.1 422.3,564.2C425,564.4 427.7,564.3 430.4,563.8C433.1,563.4 435.8,562.9 438.5,561.6C441.2,560.3 444,557.6 446.7,556.1C449.4,554.6 452.1,553.6 454.8,552.6C457.5,551.7 459.9,551.2 462.9,550.6C466,550.1 470.6,549.5 473.1,549.4C475.6,549.3 475.9,549.2 478.1,550C480.3,550.8 483.6,552.4 486.3,554.1C489,555.8 491.7,558.3 494.4,560.2C497.1,562 499.8,563.7 502.5,565.2C505.2,566.8 507.3,568.1 510.7,569.3C514,570.6 519.5,572.4 522.8,572.8C526.2,573.2 528.3,571.9 531,571.7C533.7,571.6 536.4,571.7 539.1,572C541.8,572.2 544.2,572.6 547.2,573C550.3,573.4 554.3,574.2 557.4,574.4C560.4,574.6 562.8,574.5 565.5,574C568.2,573.5 571.3,572 573.7,571.3C576,570.7 577.4,571.3 579.8,570.3C582.1,569.3 585.2,566.7 587.9,565.2C590.6,563.8 593.3,562.7 596,561.6C598.7,560.5 601.4,559.7 604.1,558.7C606.9,557.8 609.6,557.2 612.3,556.1C615,555 617.7,553.1 620.4,552C623.1,550.9 625.8,550.1 628.5,549.6C631.2,549.1 634,548.6 636.7,549C639.4,549.4 642.1,551.4 644.8,552C647.5,552.7 650.2,552.9 652.9,553C655.6,553.2 658.5,552.8 661.1,553C663.6,553.3 665.3,554.5 668.1,554.5C671,554.5 674.9,554 678.3,553C681.7,552.1 685.1,550.3 688.5,549C691.8,547.6 695.1,546 698.6,544.9C702.2,543.8 706.4,543.8 709.8,542.5C713.2,541.1 715.7,538.8 718.9,536.8C722.2,534.8 726.1,531.9 729.1,530.7C732.2,529.4 734.5,529.8 737.2,529.3C739.9,528.8 742.7,527.7 745.4,527.6C748.1,527.5 751,528.3 753.5,528.7C756,529 758.6,529 760.6,529.7C762.6,530.4 763.7,531.4 765.7,532.7C767.7,534 770.6,536.4 772.8,537.4C775,538.3 776.7,537.5 778.9,538.4C781.1,539.3 783.5,541.5 786,542.9C788.6,544.2 791.4,545.6 794.1,546.5C796.9,547.5 798.9,547.9 802.3,548.6C805.7,549.3 810.4,550 814.5,550.6C818.5,551.2 822.9,551.8 826.7,552C830.4,552.3 833.8,551.9 836.8,552C839.9,552.1 842.7,552.7 845,552.6C847.3,552.5 849.7,551.6 850.7,551.4" fill="none" stroke="#1c1c1c" stroke-width="1.75" stroke-linejoin="round" stroke-linecap="round" /></g>
<rect x="164" y="508.4" width="152.5" height="11.4" fill="#fff" />
<text x="108.3" y="517" font-size="8.8" fill="#111" font-family="'DejaVu Sans','Liberation Sans',sans-serif" textLength="119.9" lengthAdjust="spacingAndGlyphs" stroke="#111" stroke-width="0.22">MACD(12,26,9) -0.010</text>
<text x="228.2" y="517" font-size="8.8" fill="#f03a3a" font-family="'DejaVu Sans','Liberation Sans',sans-serif" textLength="43.7" lengthAdjust="spacingAndGlyphs" stroke="#f03a3a" stroke-width="0.22">, -0.001</text>
<text x="271.9" y="517" font-size="8.8" fill="#4ea6cf" font-family="'DejaVu Sans','Liberation Sans',sans-serif" textLength="43.7" lengthAdjust="spacingAndGlyphs" stroke="#4ea6cf" stroke-width="0.22">, -0.008</text>
<rect x="94.5" y="507.9" width="69.7" height="12.2" fill="#c8c8c8" />
<text x="97.6" y="517.3" font-size="8.6" fill="#444" font-family="'Liberation Sans',sans-serif" textLength="63.5" lengthAdjust="spacingAndGlyphs" stroke="#444" stroke-width="0.22">15 Mar Y:58.53</text>
<path d="M892.4,534.8 L824.4,534.8 L824.4,562.5 L892.4,562.5" fill="none" stroke="#5a5aff" stroke-width="1.3"/>
<path d="M855.2,548.1 L859.2,545.3 L890.5,545.3 L890.5,551 L859.2,551 Z" fill="#fff" stroke="#f03a3a" stroke-width="1.4"/>
<path d="M855.2,551.2 L859.2,546.6 L890.5,546.6 L890.5,555.7 L859.2,555.7 Z" fill="#fff" stroke="#222" stroke-width="1.0"/><text x="860.2" y="554.2" font-size="9" fill="#111" font-family="'Liberation Sans',sans-serif" textLength="28.8" lengthAdjust="spacingAndGlyphs" stroke="#111" stroke-width="0.22">-0.010</text>
<g clip-path="url(#cuS)"><line x1="93.8" y1="647.1" x2="857.2" y2="647.1" stroke="#5a5aff" stroke-width="1.15" stroke-dasharray="9.5 3.2"/>
<line x1="93.8" y1="598.3" x2="857.2" y2="598.3" stroke="#3a3a3a" stroke-width="0.8" />
<line x1="93.8" y1="635.6" x2="857.2" y2="635.6" stroke="#3a3a3a" stroke-width="0.8" />
<line x1="93.8" y1="617" x2="857.2" y2="617" stroke="#9a9a9a" stroke-width="1.2" stroke-dasharray="8 3 2 3"/>
<path d="M94.5,595.7C96.1,597.4 100.9,603.3 104.2,605.9C107.5,608.5 110.3,610.2 114.4,611.6C118.5,612.9 124.9,614.5 128.6,614C132.3,613.6 134,611.7 136.7,608.9C139.5,606.2 142.2,601 144.9,597.8C147.6,594.5 150.6,591.3 153,589.6C155.4,587.9 156.7,587.1 159.1,587.6C161.5,588.1 164.5,591.4 167.2,592.7C169.9,594 171.3,595.1 175.4,595.3C179.4,595.6 187.4,594.6 191.6,594.1C195.9,593.6 197.7,592.1 200.8,592.1C203.8,592 206.7,593.4 209.9,593.7C213.1,594 217,594.4 220.1,594.1C223.1,593.8 225.5,591.6 228.2,591.7C230.9,591.8 234,593 236.3,594.7C238.7,596.4 240.4,600.1 242.4,601.8C244.5,603.5 245.8,604.9 248.5,604.9C251.2,604.8 255.3,602.2 258.7,601.4C262.1,600.6 265.8,601 268.9,600.2C271.9,599.4 274.6,597.6 277,596.7C279.4,595.9 280.9,594.8 283.1,595.3C285.3,595.8 287.3,599.4 290.2,599.8C293,600.2 297.3,597.8 300.3,597.8C303.4,597.7 305.7,597.4 308.5,599.4C311.2,601.4 313.9,606.8 316.6,610C319.3,613.1 322,616.1 324.7,618.1C327.4,620.1 330.1,620.1 332.8,622.2C335.6,624.2 338.3,627.7 341,630.3C343.7,632.8 346.4,636 349.1,637.4C351.8,638.8 354.2,638.5 357.2,638.8C360.3,639.2 364,639.2 367.4,639.4C370.8,639.6 373.8,639.6 377.6,640C381.3,640.5 386.4,642.1 389.8,642.1C393.1,642.1 395.2,640.7 397.9,640C400.6,639.4 403.3,638.3 406,638.4C408.7,638.5 411.1,639.5 414.1,640.4C417.2,641.4 421.3,643.9 424.3,644.1C427.4,644.3 429.7,643.3 432.4,641.5C435.1,639.7 437.9,637.2 440.6,633.3C443.3,629.4 446.3,622.7 448.7,618.1C451.1,613.5 452.8,608.5 454.8,605.9C456.8,603.3 458.5,602.4 460.9,602.2C463.3,602.1 466.2,603.4 469,604.9C471.9,606.3 475.6,608.8 478.1,611C480.7,613.2 482.2,614.9 484.2,618.1C486.3,621.3 488.3,626.7 490.3,630.3C492.4,633.8 494.1,637.1 496.4,639.4C498.8,641.7 501.5,643.5 504.6,644.1C507.6,644.7 511.3,643.4 514.7,642.9C518.1,642.3 521.5,641.3 524.9,640.9C528.3,640.4 531.7,640.2 535,640C538.4,639.9 541.8,639.9 545.2,640C548.6,640.2 552,640.4 555.4,640.9C558.8,641.3 562.5,643 565.5,642.9C568.6,642.8 570.9,641.6 573.7,640C576.4,638.4 579.1,636.1 581.8,633.3C584.5,630.5 587.2,627.2 589.9,623.2C592.6,619.1 595.3,612.9 598,608.9C600.8,605 603.5,601.3 606.2,599.4C608.9,597.5 611.9,598 614.3,597.4C616.7,596.7 618.4,596.2 620.4,595.3C622.4,594.4 624.5,592.2 626.5,592.1C628.5,592 630.2,593.1 632.6,594.7C635,596.3 638,599.1 640.7,601.8C643.4,604.5 646.2,608 648.9,611C651.6,614 654.6,618 657,619.7C659.4,621.4 660.9,620.6 663.1,621.1C665.3,621.7 667.6,622.8 670.2,623.2C672.7,623.5 675.9,624.2 678.3,623.2C680.7,622.2 682.2,620 684.4,617.1C686.6,614.2 689.1,609.1 691.5,605.9C693.9,602.7 695.7,599.6 698.6,597.8C701.5,595.9 705.1,595.5 708.8,594.7C712.5,594 717.2,593.8 721,593.3C724.7,592.8 728.3,591.3 731.1,591.7C734,592 735.9,593.9 738.3,595.3C740.6,596.7 742.8,599.1 745.4,600.2C747.9,601.4 750.8,601.5 753.5,602.2C756.2,603 758.9,603.3 761.6,604.9C764.3,606.5 767.2,609.6 769.8,612C772.3,614.4 774.2,617.2 776.9,619.1C779.6,621 783.1,621.3 786,623.2C788.9,625 791.4,628.3 794.1,630.3C796.9,632.3 799.6,634.2 802.3,635.4C805,636.6 807.7,636.9 810.4,637.4C813.1,637.9 815.8,638.1 818.5,638.4C821.2,638.8 823.6,639.5 826.7,639.4C829.7,639.4 832.8,638.4 836.8,638C840.8,637.6 848.3,637 850.7,636.8" fill="none" stroke="#f03030" stroke-width="1.35" stroke-linejoin="round" stroke-linecap="round" />
<path d="M94.5,600.2C96.1,601.7 100.9,606.7 104.2,608.9C107.5,611.2 111,612.8 114.4,613.6C117.8,614.5 121.5,614.7 124.6,614C127.6,613.3 130.3,611.9 132.7,609.6C135.1,607.2 136.4,603.1 138.8,599.8C141.2,596.5 144.5,592 146.9,589.6C149.3,587.3 150.6,585.6 153,585.6C155.4,585.5 158.8,587.6 161.1,589.2C163.5,590.9 164.9,594.5 167.2,595.3C169.6,596.1 171.3,594.3 175.4,594.1C179.4,593.9 187.4,594.8 191.6,594.1C195.9,593.4 197.7,589.8 200.8,590C203.8,590.2 206.7,594.8 209.9,595.3C213.1,595.9 217,594.1 220.1,593.3C223.1,592.5 225.8,590.2 228.2,590.7C230.6,591.1 232.4,593.5 234.3,595.7C236.2,597.9 237.7,602.2 239.4,603.9C241.1,605.5 241.9,606.2 244.5,605.5C247,604.7 251.6,600.1 254.6,599.4C257.7,598.7 260.4,601 262.8,601.4C265.1,601.8 267.2,602.8 268.9,601.8C270.6,600.8 271.2,596.6 272.9,595.3C274.6,594 277.2,593.9 279,594.1C280.9,594.3 282.6,595.5 284.1,596.7C285.6,598 286.1,601.5 288.1,601.8C290.2,602.2 293.9,600.1 296.3,598.8C298.6,597.5 300.3,593.3 302.4,594.1C304.4,595 306.1,599.7 308.5,603.9C310.8,608 313.9,616.6 316.6,619.1C319.3,621.6 322.3,618.6 324.7,619.1C327.1,619.6 328.8,620.3 330.8,622.2C332.8,624 334.5,627.6 336.9,630.3C339.3,633 342.3,637 345,638.4C347.8,639.8 350.1,638.8 353.2,638.8C356.2,638.9 360.6,638.5 363.3,638.8C366,639.2 367.7,640.9 369.4,640.9C371.1,640.9 371.5,638.8 373.5,638.8C375.5,638.8 378.9,640.2 381.6,640.9C384.3,641.5 387.4,643 389.8,642.9C392.1,642.8 393.8,641 395.9,640C397.9,639.1 400.1,637.7 402,637.4C403.8,637.1 405.3,637.4 407,638C408.7,638.6 409.6,639.7 412.1,640.9C414.7,642 419.2,645.3 422.3,644.9C425.3,644.5 428,640.2 430.4,638.4C432.8,636.7 434.5,636.9 436.5,634.3C438.5,631.8 440.6,628.3 442.6,623.2C444.6,618.1 446.7,607.7 448.7,603.9C450.7,600 452.9,600.4 454.8,600.2C456.7,600 458.2,601.6 459.9,602.8C461.6,604.1 463.3,607.2 465,607.9C466.7,608.6 468.4,606.2 470,606.9C471.7,607.6 473.4,610.6 475.1,612C476.8,613.3 478.5,612.8 480.2,615C481.9,617.2 483.6,621.6 485.2,625.2C486.9,628.8 488.5,633.5 490.3,636.4C492.2,639.3 494.4,641.1 496.4,642.5C498.5,643.9 500.1,644.6 502.5,644.9C504.9,645.2 507.6,644.8 510.7,644.1C513.7,643.4 518.1,641.3 520.8,640.9C523.5,640.4 524.9,641.7 526.9,641.5C528.9,641.2 530.6,639.9 533,639.4C535.4,639 538.8,638.5 541.1,638.8C543.5,639.2 545.5,641.3 547.2,641.5C548.9,641.7 549.6,640 551.3,640C553,640 555,640.9 557.4,641.5C559.8,642 562.8,644.3 565.5,643.5C568.2,642.6 571.1,638.2 573.7,636.4C576.2,634.5 578.4,635 580.8,632.3C583.1,629.6 585.5,624.7 587.9,620.1C590.3,615.5 592.5,608.8 595,604.9C597.5,601 600.9,597.8 603.1,596.7C605.3,595.7 606.3,598.9 608.2,598.8C610.1,598.6 612.3,596.6 614.3,595.7C616.3,594.8 618.7,594.4 620.4,593.3C622.1,592.2 622.8,589.2 624.5,589.2C626.2,589.3 628.2,591.6 630.6,593.7C632.9,595.8 635.8,598.1 638.7,601.8C641.6,605.6 644.8,612.7 647.8,616.1C650.9,619.4 654.6,621 657,621.7C659.4,622.5 660.2,620 662.1,620.5C663.9,621.1 665.6,625 668.1,625.2C670.7,625.4 674.9,623.8 677.3,621.7C679.6,619.7 680.5,616.3 682.4,613C684.2,609.7 686.3,604.7 688.5,601.8C690.7,598.9 692.9,597 695.6,595.7C698.3,594.4 701.5,594.6 704.7,594.1C707.9,593.6 712.2,592.9 714.9,592.7C717.6,592.4 718.6,593 721,592.7C723.3,592.3 726.7,590 729.1,590.7C731.5,591.3 733.2,595.1 735.2,596.7C737.2,598.4 738.9,599.8 741.3,600.8C743.7,601.8 747.1,602.5 749.4,602.8C751.8,603.2 753.2,602 755.5,602.8C757.9,603.7 760.8,604.9 763.7,607.9C766.5,610.9 770.4,618.5 772.8,620.7C775.2,622.9 776,620.4 777.9,621.1C779.7,621.9 782,623.5 784,625.2C786,626.9 787.9,629.4 790.1,631.3C792.3,633.2 795.2,635.6 797.2,636.4C799.2,637.2 800.6,635.6 802.3,636C804,636.3 805.8,638.2 807.4,638.4C808.9,638.7 809.6,637.2 811.4,637.4C813.3,637.6 816,639 818.5,639.4C821.1,639.9 824.3,640.4 826.7,640C829,639.7 830.1,637.9 832.8,637.4C835.5,636.9 839.9,637.2 842.9,637C845.9,636.8 849.4,636.5 850.7,636.4" fill="none" stroke="#1c1c1c" stroke-width="1.75" stroke-linejoin="round" stroke-linecap="round" /></g>
<rect x="95.5" y="581" width="224" height="10" fill="#fff" />
<line x1="96.5" y1="586.2" x2="104.6" y2="586.2" stroke="#111" stroke-width="1.6" />
<text x="108.3" y="589.5" font-size="8.8" fill="#111" font-family="'DejaVu Sans','Liberation Sans',sans-serif" textLength="170.7" lengthAdjust="spacingAndGlyphs" stroke="#111" stroke-width="0.22">Full STO %K(20,3) %D(3) 18.82</text>
<text x="279" y="589.5" font-size="8.8" fill="#f03a3a" font-family="'DejaVu Sans','Liberation Sans',sans-serif" textLength="39" lengthAdjust="spacingAndGlyphs" stroke="#f03a3a" stroke-width="0.22">, 17.71</text>
<line x1="93.8" y1="589.3" x2="857.2" y2="589.3" stroke="#5a5aff" stroke-width="1.15" stroke-dasharray="9.5 3.2"/>
<path d="M855.2,637 L859.2,633.5 L886.5,633.5 L886.5,640.6 L859.2,640.6 Z" fill="#fff" stroke="#f03a3a" stroke-width="1.4"/>
<path d="M855.2,635.4 L859.2,631.3 L886.5,631.3 L886.5,639.5 L859.2,639.5 Z" fill="#fff" stroke="#222" stroke-width="1.0"/><text x="860.2" y="638.4" font-size="9" fill="#111" font-family="'Liberation Sans',sans-serif" textLength="24.8" lengthAdjust="spacingAndGlyphs" stroke="#111" stroke-width="0.22">18.82</text></g></g>
<text x="90.2" y="708.5" font-size="20.5" fill="#000" font-family="'Liberation Serif',serif" font-weight="bold" textLength="344" lengthAdjust="spacingAndGlyphs" stroke="#000" stroke-width="0.35">GOLD ($GOLD) WEEKLY CHART:</text>
<line x1="90.2" y1="711.2" x2="434.4" y2="711.2" stroke="#222" stroke-width="1.6" />
<text x="655" y="709.2" font-size="17.5" fill="#2e75b6" font-family="'Liberation Serif',serif" textLength="44.4" lengthAdjust="spacingAndGlyphs" stroke="#2e75b6" stroke-width="0.4">- 0.20</text>
<text x="707" y="709.2" font-size="17.6" fill="#000" font-family="'Liberation Sans',sans-serif" textLength="176" lengthAdjust="spacingAndGlyphs">%/ Week @ $2,749.20</text>
<circle cx="125.7" cy="725.4" r="2.6" fill="#0d2266"/>
<text x="155.5" y="729.6" font-size="16.8" fill="#0d2266" font-family="'Liberation Sans',sans-serif" stroke="#0d2266" stroke-width="0.35" font-style="italic" textLength="64" lengthAdjust="spacingAndGlyphs">“GOLD’s</text><text x="225" y="729.6" font-size="16.8" fill="#0d2266" font-family="'Liberation Sans',sans-serif" stroke="#0d2266" stroke-width="0.35" font-style="italic" textLength="32.9" lengthAdjust="spacingAndGlyphs">Free</text><text x="263.4" y="729.6" font-size="16.8" fill="#0d2266" font-family="'Liberation Sans',sans-serif" stroke="#0d2266" stroke-width="0.35" font-style="italic" textLength="39.3" lengthAdjust="spacingAndGlyphs">Float</text><text x="308.2" y="729.6" font-size="16.8" fill="#0d2266" font-family="'Liberation Sans',sans-serif" stroke="#0d2266" stroke-width="0.35" font-style="italic" textLength="47.4" lengthAdjust="spacingAndGlyphs">much</text><text x="361.1" y="729.6" font-size="16.8" fill="#0d2266" font-family="'Liberation Sans',sans-serif" stroke="#0d2266" stroke-width="0.35" font-style="italic" textLength="86" lengthAdjust="spacingAndGlyphs">diminished</text><text x="448.5" y="729.6" font-size="16.8" fill="#0d2266" font-family="'Liberation Sans',sans-serif" stroke="#0d2266" stroke-width="0.35" font-style="italic" textLength="10.5" lengthAdjust="spacingAndGlyphs">…</text><text x="460.2" y="729.6" font-size="16.8" fill="#0d2266" font-family="'Liberation Sans',sans-serif" stroke="#0d2266" stroke-width="0.35" font-style="italic" textLength="39.6" lengthAdjust="spacingAndGlyphs">what</text><text x="506.8" y="729.6" font-size="16.8" fill="#0d2266" font-family="'Liberation Sans',sans-serif" stroke="#0d2266" stroke-width="0.35" font-style="italic" textLength="14.7" lengthAdjust="spacingAndGlyphs">IF</text><text x="526.5" y="729.6" font-size="16.8" fill="#0d2266" font-family="'Liberation Sans',sans-serif" stroke="#0d2266" stroke-width="0.35" font-style="italic" textLength="34.5" lengthAdjust="spacingAndGlyphs">Gold</text><text x="566.9" y="729.6" font-size="16.8" fill="#0d2266" font-family="'Liberation Sans',sans-serif" stroke="#0d2266" stroke-width="0.35" font-style="italic" textLength="33.8" lengthAdjust="spacingAndGlyphs">ain’t</text><text x="606" y="729.6" font-size="16.8" fill="#0d2266" font-family="'Liberation Sans',sans-serif" stroke="#0d2266" stroke-width="0.35" font-style="italic" textLength="35.7" lengthAdjust="spacingAndGlyphs">Gold</text><text x="648.1" y="729.6" font-size="16.8" fill="#0d2266" font-family="'Liberation Sans',sans-serif" stroke="#0d2266" stroke-width="0.35" font-style="italic" textLength="87.7" lengthAdjust="spacingAndGlyphs">anymore?”</text>
<circle cx="125.7" cy="745.6" r="2.6" fill="#000"/>
<text x="154.6" y="749.9" font-size="18" fill="#000" font-family="'Liberation Serif',serif" font-weight="bold" textLength="55.8" lengthAdjust="spacingAndGlyphs" stroke="#000" stroke-width="0.3">THESIS</text>
<line x1="154.6" y1="752" x2="210.4" y2="752" stroke="#222" stroke-width="1.4" />
<text x="211.3" y="749.9" font-size="16.8" fill="#000" font-family="'Liberation Sans',sans-serif" stroke="#000" stroke-width="0.35">:</text>
<text x="219.5" y="749.9" font-size="16.8" fill="#0d2266" font-family="'Liberation Sans',sans-serif" stroke="#0d2266" stroke-width="0.35" font-style="italic" textLength="53.1" lengthAdjust="spacingAndGlyphs">“Gold’s</text><text x="278" y="749.9" font-size="16.8" fill="#0d2266" font-family="'Liberation Sans',sans-serif" stroke="#0d2266" stroke-width="0.35" font-style="italic" textLength="87.7" lengthAdjust="spacingAndGlyphs">persistence</text><text x="372.4" y="749.9" font-size="16.8" fill="#0d2266" font-family="'Liberation Sans',sans-serif" stroke="#0d2266" stroke-width="0.35" font-style="italic" textLength="12.1" lengthAdjust="spacingAndGlyphs">in</text><text x="394" y="749.9" font-size="16.8" fill="#0d2266" font-family="'Liberation Sans',sans-serif" stroke="#0d2266" stroke-width="0.35" font-style="italic" textLength="64" lengthAdjust="spacingAndGlyphs">‘holding’</text><text x="464.2" y="749.9" font-size="16.8" fill="#0d2266" font-family="'Liberation Sans',sans-serif" stroke="#0d2266" stroke-width="0.35" font-style="italic" textLength="37" lengthAdjust="spacingAndGlyphs">Price</text><text x="509" y="749.9" font-size="16.8" fill="#0d2266" font-family="'Liberation Sans',sans-serif" stroke="#0d2266" stroke-width="0.35" font-style="italic" textLength="46.9" lengthAdjust="spacingAndGlyphs">Levels</text><text x="561.3" y="749.9" font-size="16.8" fill="#0d2266" font-family="'Liberation Sans',sans-serif" stroke="#0d2266" stroke-width="0.35" font-style="italic" textLength="8" lengthAdjust="spacingAndGlyphs">=</text><text x="574.2" y="749.9" font-size="16.8" fill="#0d2266" font-family="'Liberation Sans',sans-serif" stroke="#0d2266" stroke-width="0.35" font-style="italic" textLength="88.5" lengthAdjust="spacingAndGlyphs">Something</text><text x="669.1" y="749.9" font-size="16.8" fill="#0d2266" font-family="'Liberation Sans',sans-serif" stroke="#0d2266" stroke-width="0.35" font-style="italic" textLength="110.4" lengthAdjust="spacingAndGlyphs">Fundamental</text><text x="785.9" y="749.9" font-size="16.8" fill="#0d2266" font-family="'Liberation Sans',sans-serif" stroke="#0d2266" stroke-width="0.35" font-style="italic" textLength="25.6" lengthAdjust="spacingAndGlyphs">has</text><text x="817.9" y="749.9" font-size="16.8" fill="#0d2266" font-family="'Liberation Sans',sans-serif" stroke="#0d2266" stroke-width="0.35" font-style="italic" textLength="67.7" lengthAdjust="spacingAndGlyphs">begun?”</text>
<circle cx="125.7" cy="765.9" r="2.6" fill="#000"/>
<text x="154.6" y="770.2" font-size="18" fill="#000" font-family="'Liberation Serif',serif" font-weight="bold" textLength="103.3" lengthAdjust="spacingAndGlyphs" stroke="#000" stroke-width="0.3">INDECISION</text>
<line x1="154.6" y1="772.4" x2="257.9" y2="772.4" stroke="#222" stroke-width="1.4" />
<text x="258.9" y="770.2" font-size="16.8" fill="#000" font-family="'Liberation Sans',sans-serif" stroke="#000" stroke-width="0.35">:</text>
<text x="267.1" y="770.2" font-size="16.8" fill="#000" font-family="'Liberation Sans',sans-serif" stroke="#000" stroke-width="0.35" textLength="65.9" lengthAdjust="spacingAndGlyphs">Previous</text><text x="339.1" y="770.2" font-size="16.8" fill="#000" font-family="'Liberation Sans',sans-serif" stroke="#000" stroke-width="0.35" textLength="35.7" lengthAdjust="spacingAndGlyphs">such</text><text x="381.2" y="770.2" font-size="16.8" fill="#000" font-family="'Liberation Sans',sans-serif" stroke="#000" stroke-width="0.35" textLength="36.6" lengthAdjust="spacingAndGlyphs">have</text><text x="423.7" y="770.2" font-size="16.8" fill="#000" font-family="'Liberation Sans',sans-serif" stroke="#000" stroke-width="0.35" textLength="43.5" lengthAdjust="spacingAndGlyphs">ONLY</text><text x="473.2" y="770.2" font-size="16.8" fill="#000" font-family="'Liberation Sans',sans-serif" stroke="#000" stroke-width="0.35" textLength="69.9" lengthAdjust="spacingAndGlyphs">signalled</text><text x="549.5" y="770.2" font-size="16.8" fill="#000" font-family="'Liberation Sans',sans-serif" stroke="#000" stroke-width="0.35" textLength="73.9" lengthAdjust="spacingAndGlyphs">hesitancy</text><text x="629.8" y="770.2" font-size="16.8" fill="#000" font-family="'Liberation Sans',sans-serif" stroke="#000" stroke-width="0.35" textLength="10.1" lengthAdjust="spacingAndGlyphs">&amp;</text><text x="645" y="770.2" font-size="16.8" fill="#000" font-family="'Liberation Sans',sans-serif" stroke="#000" stroke-width="0.35" textLength="61" lengthAdjust="spacingAndGlyphs">nothing</text><text x="713.7" y="770.2" font-size="16.8" fill="#000" font-family="'Liberation Sans',sans-serif" stroke="#000" stroke-width="0.35" textLength="44.2" lengthAdjust="spacingAndGlyphs">more;</text><text x="762.1" y="770.2" font-size="16.8" fill="#000" font-family="'Liberation Sans',sans-serif" stroke="#000" stroke-width="0.35" textLength="53.1" lengthAdjust="spacingAndGlyphs">sooner</text><text x="820.7" y="770.2" font-size="16.8" fill="#000" font-family="'Liberation Sans',sans-serif" stroke="#000" stroke-width="0.35" textLength="15.5" lengthAdjust="spacingAndGlyphs">or</text><text x="841.3" y="770.2" font-size="16.8" fill="#000" font-family="'Liberation Sans',sans-serif" stroke="#000" stroke-width="0.35" textLength="33.3" lengthAdjust="spacingAndGlyphs">later</text><text x="875.5" y="770.2" font-size="16.8" fill="#000" font-family="'Liberation Sans',sans-serif" stroke="#000" stroke-width="0.35" textLength="9.7" lengthAdjust="spacingAndGlyphs">…</text>
<g id="gold"><g filter="url(#soft)"><rect x="90" y="776.2" width="804.4" height="555.3" fill="#fff" />
<path d="M883.4,775.6 A10.2,10.2 0 0 0 893.6,785.8 L893.6,775.6 Z" fill="#747474"/><path d="M885,775.6 A8.6,8.6 0 0 0 893.6,784.2 L893.6,775.6 Z" fill="#e8e8e8"/><path d="M885.8,775.6 A7.8,7.8 0 0 0 893.6,783.4 L893.6,775.6 Z" fill="#303030"/><path d="M893,777.2 l-2.6,3.6" stroke="#eee" stroke-width="1.1" fill="none"/>
<path d="M90,775.7 L894.4,775.7 L894.4,1331.5 L89.5,1331.5" fill="none" stroke="#222" stroke-width="1.15"/>
<text x="96.4" y="788.7" font-size="12.4" fill="#111" font-family="'DejaVu Sans','Liberation Sans',sans-serif" font-weight="bold" textLength="41" lengthAdjust="spacingAndGlyphs" stroke="#111" stroke-width="0.22">$GOLD</text>
<text x="142.6" y="788.4" font-size="9.6" fill="#111" font-family="'Liberation Sans',sans-serif" textLength="155.2" lengthAdjust="spacingAndGlyphs" stroke="#111" stroke-width="0.22">Gold - Continuous Contract (EOD)</text>
<text x="302.2" y="788.4" font-size="7.6" fill="#111" font-family="'Liberation Sans',sans-serif" textLength="20.5" lengthAdjust="spacingAndGlyphs" stroke="#111" stroke-width="0.22">CME</text>
<text x="767.6" y="787.6" font-size="9.2" fill="#666" font-family="'DejaVu Sans','Liberation Sans',sans-serif" textLength="85.8" lengthAdjust="spacingAndGlyphs" stroke="#666" stroke-width="0.22">© StockCharts.com</text>
<rect x="95.8" y="791.9" width="757.7" height="63.5" fill="#fff" stroke="#cfcfcf" stroke-width="1" />
<text x="99" y="814.3" font-size="10" fill="#111" font-family="'Liberation Sans',sans-serif" stroke="#111" stroke-width="0.22">Open:</text>
<text x="155" y="814.3" font-size="10.8" fill="#111" font-family="'DejaVu Sans','Liberation Sans',sans-serif" font-weight="bold" textLength="43" lengthAdjust="spacingAndGlyphs" stroke="#111" stroke-width="0.22">2749.20</text>
<text x="99" y="827" font-size="10" fill="#111" font-family="'Liberation Sans',sans-serif" stroke="#111" stroke-width="0.22">High:</text>
<text x="155" y="827" font-size="10.8" fill="#111" font-family="'DejaVu Sans','Liberation Sans',sans-serif" font-weight="bold" textLength="43" lengthAdjust="spacingAndGlyphs" stroke="#111" stroke-width="0.22">2801.80</text>
<text x="99" y="839.5" font-size="10" fill="#111" font-family="'Liberation Sans',sans-serif" stroke="#111" stroke-width="0.22">Low:</text>
<text x="155" y="839.5" font-size="10.8" fill="#111" font-family="'DejaVu Sans','Liberation Sans',sans-serif" font-weight="bold" textLength="43" lengthAdjust="spacingAndGlyphs" stroke="#111" stroke-width="0.22">2736.90</text>
<text x="99" y="852.1" font-size="10" fill="#111" font-family="'Liberation Sans',sans-serif" stroke="#111" stroke-width="0.22">Prev Close:</text>
<text x="155" y="852.1" font-size="10.8" fill="#111" font-family="'DejaVu Sans','Liberation Sans',sans-serif" font-weight="bold" textLength="43" lengthAdjust="spacingAndGlyphs" stroke="#111" stroke-width="0.22">2754.60</text>
<text x="225.6" y="814.3" font-size="10" fill="#111" font-family="'Liberation Sans',sans-serif" stroke="#111" stroke-width="0.22">Ask:</text>
<text x="225.6" y="827" font-size="10" fill="#111" font-family="'Liberation Sans',sans-serif" stroke="#111" stroke-width="0.22">Bid:</text>
<text x="225.6" y="839.5" font-size="10" fill="#111" font-family="'Liberation Sans',sans-serif" stroke="#111" stroke-width="0.22">Last:</text>
<text x="225.6" y="852.1" font-size="10" fill="#111" font-family="'Liberation Sans',sans-serif" stroke="#111" stroke-width="0.22">Optionable:</text>
<text x="293.7" y="852.1" font-size="10.8" fill="#111" font-family="'DejaVu Sans','Liberation Sans',sans-serif" font-weight="bold" textLength="12.7" lengthAdjust="spacingAndGlyphs" stroke="#111" stroke-width="0.22">no</text>
<text x="333.4" y="814.3" font-size="10" fill="#111" font-family="'Liberation Sans',sans-serif" stroke="#111" stroke-width="0.22">Mkt Cap:</text>
<text x="333.4" y="827" font-size="10" fill="#111" font-family="'Liberation Sans',sans-serif" stroke="#111" stroke-width="0.22">Fwd Dividend:</text>
<text x="333.4" y="839.5" font-size="10" fill="#111" font-family="'Liberation Sans',sans-serif" stroke="#111" stroke-width="0.22">Fwd Yield:</text>
<text x="333.4" y="852.1" font-size="10" fill="#111" font-family="'Liberation Sans',sans-serif" stroke="#111" stroke-width="0.22">SCTR:</text>
<text x="403.7" y="827" font-size="10.4" fill="#111" font-family="'Liberation Sans',sans-serif" font-weight="bold" textLength="17.4" lengthAdjust="spacingAndGlyphs" stroke="#111" stroke-width="0.22">N/A</text>
<text x="403.7" y="839.5" font-size="10.4" fill="#111" font-family="'Liberation Sans',sans-serif" font-weight="bold" textLength="17.4" lengthAdjust="spacingAndGlyphs" stroke="#111" stroke-width="0.22">N/A</text>
<text x="448.6" y="814.3" font-size="10" fill="#111" font-family="'Liberation Sans',sans-serif" stroke="#111" stroke-width="0.22">P/E:</text>
<text x="448.6" y="827" font-size="10" fill="#111" font-family="'Liberation Sans',sans-serif" stroke="#111" stroke-width="0.22">EPS:</text>
<text x="448.6" y="839.5" font-size="10" fill="#111" font-family="'Liberation Sans',sans-serif" stroke="#111" stroke-width="0.22">Last Earnings:</text>
<text x="448.6" y="852.1" font-size="10" fill="#111" font-family="'Liberation Sans',sans-serif" stroke="#111" stroke-width="0.22">Next Earnings:</text>
<text x="848.4" y="800.6" font-size="9.8" fill="#111" font-family="'Liberation Sans',sans-serif" text-anchor="end" textLength="89" lengthAdjust="spacingAndGlyphs" stroke="#111" stroke-width="0.22">Friday  1-Nov-2024</text>
<path d="M751.7,805.8 L764.1,805.8 L757.9,816.4 Z" fill="#990a32"/>
<text x="848.4" y="814.9" font-size="12.6" fill="#990a32" font-family="'Liberation Sans',sans-serif" font-weight="bold" text-anchor="end" textLength="42.5" lengthAdjust="spacingAndGlyphs" stroke="#990a32" stroke-width="0.22">-0.20%</text>
<text x="749.1" y="827" font-size="10" fill="#111" font-family="'Liberation Sans',sans-serif" stroke="#111" stroke-width="0.22">Chg:</text>
<text x="848.4" y="827" font-size="10.8" fill="#111" font-family="'Liberation Sans',sans-serif" font-weight="bold" text-anchor="end" textLength="26.5" lengthAdjust="spacingAndGlyphs" stroke="#111" stroke-width="0.22">-5.40</text>
<text x="749.1" y="839.5" font-size="10" fill="#111" font-family="'Liberation Sans',sans-serif" stroke="#111" stroke-width="0.22">Last:</text>
<text x="848.4" y="839.5" font-size="10.8" fill="#111" font-family="'Liberation Sans',sans-serif" font-weight="bold" text-anchor="end" textLength="41.5" lengthAdjust="spacingAndGlyphs" stroke="#111" stroke-width="0.22">2749.20</text>
<text x="749.1" y="852.1" font-size="10" fill="#111" font-family="'Liberation Sans',sans-serif" stroke="#111" stroke-width="0.22">Volume:</text>
<text x="848.4" y="852.1" font-size="10.8" fill="#111" font-family="'Liberation Sans',sans-serif" font-weight="bold" text-anchor="end" textLength="59" lengthAdjust="spacingAndGlyphs" stroke="#111" stroke-width="0.22">93,261,400</text>
<rect x="96.6" y="855.4" width="756.9" height="220" fill="#fff" />
<rect x="96.6" y="1088.5" width="756.9" height="76.5" fill="#fff" />
<rect x="96.6" y="1165" width="756.9" height="76.5" fill="#fff" />
<rect x="96.6" y="1241.5" width="756.9" height="77.3" fill="#fff" />
</g><g><g><line x1="96.5" y1="855.4" x2="96.5" y2="1075.4" stroke="#e7e7e7" stroke-width="0.8" /><line x1="96.5" y1="1088.5" x2="96.5" y2="1318.8" stroke="#e7e7e7" stroke-width="0.8" /><line x1="120.5" y1="855.4" x2="120.5" y2="1075.4" stroke="#e7e7e7" stroke-width="0.8" /><line x1="120.5" y1="1088.5" x2="120.5" y2="1318.8" stroke="#e7e7e7" stroke-width="0.8" /><line x1="139.8" y1="855.4" x2="139.8" y2="1075.4" stroke="#d0d0d0" stroke-width="0.8" /><line x1="139.8" y1="1088.5" x2="139.8" y2="1318.8" stroke="#d0d0d0" stroke-width="0.8" /><line x1="163.8" y1="855.4" x2="163.8" y2="1075.4" stroke="#e7e7e7" stroke-width="0.8" /><line x1="163.8" y1="1088.5" x2="163.8" y2="1318.8" stroke="#e7e7e7" stroke-width="0.8" /><line x1="183.1" y1="855.4" x2="183.1" y2="1075.4" stroke="#e7e7e7" stroke-width="0.8" /><line x1="183.1" y1="1088.5" x2="183.1" y2="1318.8" stroke="#e7e7e7" stroke-width="0.8" /><line x1="202.3" y1="855.4" x2="202.3" y2="1075.4" stroke="#e7e7e7" stroke-width="0.8" /><line x1="202.3" y1="1088.5" x2="202.3" y2="1318.8" stroke="#e7e7e7" stroke-width="0.8" /><line x1="221.5" y1="855.4" x2="221.5" y2="1075.4" stroke="#e7e7e7" stroke-width="0.8" /><line x1="221.5" y1="1088.5" x2="221.5" y2="1318.8" stroke="#e7e7e7" stroke-width="0.8" /><line x1="245.6" y1="855.4" x2="245.6" y2="1075.4" stroke="#e7e7e7" stroke-width="0.8" /><line x1="245.6" y1="1088.5" x2="245.6" y2="1318.8" stroke="#e7e7e7" stroke-width="0.8" /><line x1="264.8" y1="855.4" x2="264.8" y2="1075.4" stroke="#e7e7e7" stroke-width="0.8" /><line x1="264.8" y1="1088.5" x2="264.8" y2="1318.8" stroke="#e7e7e7" stroke-width="0.8" /><line x1="284.1" y1="855.4" x2="284.1" y2="1075.4" stroke="#e7e7e7" stroke-width="0.8" /><line x1="284.1" y1="1088.5" x2="284.1" y2="1318.8" stroke="#e7e7e7" stroke-width="0.8" /><line x1="308.1" y1="855.4" x2="308.1" y2="1075.4" stroke="#e7e7e7" stroke-width="0.8" /><line x1="308.1" y1="1088.5" x2="308.1" y2="1318.8" stroke="#e7e7e7" stroke-width="0.8" /><line x1="327.4" y1="855.4" x2="327.4" y2="1075.4" stroke="#e7e7e7" stroke-width="0.8" /><line x1="327.4" y1="1088.5" x2="327.4" y2="1318.8" stroke="#e7e7e7" stroke-width="0.8" /><line x1="351.4" y1="855.4" x2="351.4" y2="1075.4" stroke="#e7e7e7" stroke-width="0.8" /><line x1="351.4" y1="1088.5" x2="351.4" y2="1318.8" stroke="#e7e7e7" stroke-width="0.8" /><line x1="370.6" y1="855.4" x2="370.6" y2="1075.4" stroke="#e7e7e7" stroke-width="0.8" /><line x1="370.6" y1="1088.5" x2="370.6" y2="1318.8" stroke="#e7e7e7" stroke-width="0.8" /><line x1="389.9" y1="855.4" x2="389.9" y2="1075.4" stroke="#d0d0d0" stroke-width="0.8" /><line x1="389.9" y1="1088.5" x2="389.9" y2="1318.8" stroke="#d0d0d0" stroke-width="0.8" /><line x1="413.9" y1="855.4" x2="413.9" y2="1075.4" stroke="#e7e7e7" stroke-width="0.8" /><line x1="413.9" y1="1088.5" x2="413.9" y2="1318.8" stroke="#e7e7e7" stroke-width="0.8" /><line x1="433.2" y1="855.4" x2="433.2" y2="1075.4" stroke="#e7e7e7" stroke-width="0.8" /><line x1="433.2" y1="1088.5" x2="433.2" y2="1318.8" stroke="#e7e7e7" stroke-width="0.8" /><line x1="452.4" y1="855.4" x2="452.4" y2="1075.4" stroke="#e7e7e7" stroke-width="0.8" /><line x1="452.4" y1="1088.5" x2="452.4" y2="1318.8" stroke="#e7e7e7" stroke-width="0.8" /><line x1="471.7" y1="855.4" x2="471.7" y2="1075.4" stroke="#e7e7e7" stroke-width="0.8" /><line x1="471.7" y1="1088.5" x2="471.7" y2="1318.8" stroke="#e7e7e7" stroke-width="0.8" /><line x1="495.7" y1="855.4" x2="495.7" y2="1075.4" stroke="#e7e7e7" stroke-width="0.8" /><line x1="495.7" y1="1088.5" x2="495.7" y2="1318.8" stroke="#e7e7e7" stroke-width="0.8" /><line x1="514.9" y1="855.4" x2="514.9" y2="1075.4" stroke="#e7e7e7" stroke-width="0.8" /><line x1="514.9" y1="1088.5" x2="514.9" y2="1318.8" stroke="#e7e7e7" stroke-width="0.8" /><line x1="539" y1="855.4" x2="539" y2="1075.4" stroke="#e7e7e7" stroke-width="0.8" /><line x1="539" y1="1088.5" x2="539" y2="1318.8" stroke="#e7e7e7" stroke-width="0.8" /><line x1="558.2" y1="855.4" x2="558.2" y2="1075.4" stroke="#e7e7e7" stroke-width="0.8" /><line x1="558.2" y1="1088.5" x2="558.2" y2="1318.8" stroke="#e7e7e7" stroke-width="0.8" /><line x1="577.5" y1="855.4" x2="577.5" y2="1075.4" stroke="#e7e7e7" stroke-width="0.8" /><line x1="577.5" y1="1088.5" x2="577.5" y2="1318.8" stroke="#e7e7e7" stroke-width="0.8" /><line x1="601.5" y1="855.4" x2="601.5" y2="1075.4" stroke="#e7e7e7" stroke-width="0.8" /><line x1="601.5" y1="1088.5" x2="601.5" y2="1318.8" stroke="#e7e7e7" stroke-width="0.8" /><line x1="620.8" y1="855.4" x2="620.8" y2="1075.4" stroke="#e7e7e7" stroke-width="0.8" /><line x1="620.8" y1="1088.5" x2="620.8" y2="1318.8" stroke="#e7e7e7" stroke-width="0.8" /><line x1="640" y1="855.4" x2="640" y2="1075.4" stroke="#d0d0d0" stroke-width="0.8" /><line x1="640" y1="1088.5" x2="640" y2="1318.8" stroke="#d0d0d0" stroke-width="0.8" /><line x1="664.1" y1="855.4" x2="664.1" y2="1075.4" stroke="#e7e7e7" stroke-width="0.8" /><line x1="664.1" y1="1088.5" x2="664.1" y2="1318.8" stroke="#e7e7e7" stroke-width="0.8" /><line x1="683.3" y1="855.4" x2="683.3" y2="1075.4" stroke="#e7e7e7" stroke-width="0.8" /><line x1="683.3" y1="1088.5" x2="683.3" y2="1318.8" stroke="#e7e7e7" stroke-width="0.8" /><line x1="702.5" y1="855.4" x2="702.5" y2="1075.4" stroke="#e7e7e7" stroke-width="0.8" /><line x1="702.5" y1="1088.5" x2="702.5" y2="1318.8" stroke="#e7e7e7" stroke-width="0.8" /><line x1="726.6" y1="855.4" x2="726.6" y2="1075.4" stroke="#e7e7e7" stroke-width="0.8" /><line x1="726.6" y1="1088.5" x2="726.6" y2="1318.8" stroke="#e7e7e7" stroke-width="0.8" /><line x1="745.8" y1="855.4" x2="745.8" y2="1075.4" stroke="#e7e7e7" stroke-width="0.8" /><line x1="745.8" y1="1088.5" x2="745.8" y2="1318.8" stroke="#e7e7e7" stroke-width="0.8" /><line x1="765.1" y1="855.4" x2="765.1" y2="1075.4" stroke="#e7e7e7" stroke-width="0.8" /><line x1="765.1" y1="1088.5" x2="765.1" y2="1318.8" stroke="#e7e7e7" stroke-width="0.8" /><line x1="789.1" y1="855.4" x2="789.1" y2="1075.4" stroke="#e7e7e7" stroke-width="0.8" /><line x1="789.1" y1="1088.5" x2="789.1" y2="1318.8" stroke="#e7e7e7" stroke-width="0.8" /><line x1="808.4" y1="855.4" x2="808.4" y2="1075.4" stroke="#e7e7e7" stroke-width="0.8" /><line x1="808.4" y1="1088.5" x2="808.4" y2="1318.8" stroke="#e7e7e7" stroke-width="0.8" /><line x1="832.4" y1="855.4" x2="832.4" y2="1075.4" stroke="#e7e7e7" stroke-width="0.8" /><line x1="832.4" y1="1088.5" x2="832.4" y2="1318.8" stroke="#e7e7e7" stroke-width="0.8" /><line x1="846.8" y1="855.4" x2="846.8" y2="1075.4" stroke="#e7e7e7" stroke-width="0.8" /><line x1="846.8" y1="1088.5" x2="846.8" y2="1318.8" stroke="#e7e7e7" stroke-width="0.8" /><line x1="96.6" y1="872.4" x2="853.5" y2="872.4" stroke="#e7e7e7" stroke-width="0.8" /><line x1="96.6" y1="888.2" x2="853.5" y2="888.2" stroke="#e7e7e7" stroke-width="0.8" /><line x1="96.6" y1="903.9" x2="853.5" y2="903.9" stroke="#e7e7e7" stroke-width="0.8" /><line x1="96.6" y1="919.7" x2="853.5" y2="919.7" stroke="#e7e7e7" stroke-width="0.8" /><line x1="96.6" y1="935.4" x2="853.5" y2="935.4" stroke="#e7e7e7" stroke-width="0.8" /><line x1="96.6" y1="951.2" x2="853.5" y2="951.2" stroke="#e7e7e7" stroke-width="0.8" /><line x1="96.6" y1="966.9" x2="853.5" y2="966.9" stroke="#e7e7e7" stroke-width="0.8" /><line x1="96.6" y1="982.7" x2="853.5" y2="982.7" stroke="#e7e7e7" stroke-width="0.8" /><line x1="96.6" y1="998.5" x2="853.5" y2="998.5" stroke="#e7e7e7" stroke-width="0.8" /><line x1="96.6" y1="1014.2" x2="853.5" y2="1014.2" stroke="#e7e7e7" stroke-width="0.8" /><line x1="96.6" y1="1030" x2="853.5" y2="1030" stroke="#e7e7e7" stroke-width="0.8" /><line x1="96.6" y1="1045.7" x2="853.5" y2="1045.7" stroke="#e7e7e7" stroke-width="0.8" /><line x1="96.6" y1="1061.5" x2="853.5" y2="1061.5" stroke="#e7e7e7" stroke-width="0.8" /><line x1="96.6" y1="1101.3" x2="853.5" y2="1101.3" stroke="#e7e7e7" stroke-width="0.8" /><line x1="96.6" y1="1114.8" x2="853.5" y2="1114.8" stroke="#e7e7e7" stroke-width="0.8" /><line x1="96.6" y1="1128.3" x2="853.5" y2="1128.3" stroke="#e7e7e7" stroke-width="0.8" /><line x1="96.6" y1="1141.8" x2="853.5" y2="1141.8" stroke="#e7e7e7" stroke-width="0.8" /><line x1="96.6" y1="1155.3" x2="853.5" y2="1155.3" stroke="#e7e7e7" stroke-width="0.8" /><line x1="96.6" y1="1180" x2="853.5" y2="1180" stroke="#e7e7e7" stroke-width="0.8" /><line x1="96.6" y1="1189.3" x2="853.5" y2="1189.3" stroke="#f0f0f0" stroke-width="0.8" /><line x1="96.6" y1="1198.6" x2="853.5" y2="1198.6" stroke="#e7e7e7" stroke-width="0.8" /><line x1="96.6" y1="1207.9" x2="853.5" y2="1207.9" stroke="#f0f0f0" stroke-width="0.8" /><line x1="96.6" y1="1217.2" x2="853.5" y2="1217.2" stroke="#e7e7e7" stroke-width="0.8" /><line x1="96.6" y1="1226.5" x2="853.5" y2="1226.5" stroke="#f0f0f0" stroke-width="0.8" /><line x1="96.6" y1="1235.8" x2="853.5" y2="1235.8" stroke="#e7e7e7" stroke-width="0.8" /><line x1="96.6" y1="1254.5" x2="853.5" y2="1254.5" stroke="#f0f0f0" stroke-width="0.8" /><line x1="96.6" y1="1267.5" x2="853.5" y2="1267.5" stroke="#f0f0f0" stroke-width="0.8" /><line x1="96.6" y1="1273.9" x2="853.5" y2="1273.9" stroke="#f0f0f0" stroke-width="0.8" /><line x1="96.6" y1="1286.9" x2="853.5" y2="1286.9" stroke="#f0f0f0" stroke-width="0.8" /><line x1="96.6" y1="1293.3" x2="853.5" y2="1293.3" stroke="#f0f0f0" stroke-width="0.8" /><line x1="96.6" y1="1306.3" x2="853.5" y2="1306.3" stroke="#f0f0f0" stroke-width="0.8" /></g>
<rect x="96.6" y="855.4" width="756.9" height="220" fill="none" stroke="#cdcdcd" stroke-width="1" />
<rect x="96.6" y="1088.5" width="756.9" height="76.5" fill="none" stroke="#cdcdcd" stroke-width="1" />
<rect x="96.6" y="1165" width="756.9" height="76.5" fill="none" stroke="#cdcdcd" stroke-width="1" />
<rect x="96.6" y="1241.5" width="756.9" height="77.3" fill="none" stroke="#cdcdcd" stroke-width="1" />
</g><g filter="url(#soft)">
<text x="856.8" y="875.8" font-size="9.4" fill="#111" font-family="'Liberation Sans',sans-serif" textLength="22.5" lengthAdjust="spacingAndGlyphs" stroke="#111" stroke-width="0.22">2800</text>
<text x="856.8" y="923.1" font-size="9.4" fill="#111" font-family="'Liberation Sans',sans-serif" textLength="22.5" lengthAdjust="spacingAndGlyphs" stroke="#111" stroke-width="0.22">2500</text>
<text x="856.8" y="954.6" font-size="9.4" fill="#111" font-family="'Liberation Sans',sans-serif" textLength="22.5" lengthAdjust="spacingAndGlyphs" stroke="#111" stroke-width="0.22">2300</text>
<text x="856.8" y="970.3" font-size="9.4" fill="#111" font-family="'Liberation Sans',sans-serif" textLength="22.5" lengthAdjust="spacingAndGlyphs" stroke="#111" stroke-width="0.22">2200</text>
<text x="856.8" y="986.1" font-size="9.4" fill="#111" font-family="'Liberation Sans',sans-serif" textLength="22.5" lengthAdjust="spacingAndGlyphs" stroke="#111" stroke-width="0.22">2100</text>
<text x="856.8" y="1001.9" font-size="9.4" fill="#111" font-family="'Liberation Sans',sans-serif" textLength="22.5" lengthAdjust="spacingAndGlyphs" stroke="#111" stroke-width="0.22">2000</text>
<text x="856.8" y="1017.6" font-size="9.4" fill="#111" font-family="'Liberation Sans',sans-serif" textLength="22.5" lengthAdjust="spacingAndGlyphs" stroke="#111" stroke-width="0.22">1900</text>
<text x="856.8" y="1033.4" font-size="9.4" fill="#111" font-family="'Liberation Sans',sans-serif" textLength="22.5" lengthAdjust="spacingAndGlyphs" stroke="#111" stroke-width="0.22">1800</text>
<text x="856.8" y="1049.1" font-size="9.4" fill="#111" font-family="'Liberation Sans',sans-serif" textLength="22.5" lengthAdjust="spacingAndGlyphs" stroke="#111" stroke-width="0.22">1700</text>
<text x="856.8" y="1064.9" font-size="9.4" fill="#111" font-family="'Liberation Sans',sans-serif" textLength="22.5" lengthAdjust="spacingAndGlyphs" stroke="#111" stroke-width="0.22">1600</text>
<text x="856.8" y="1104.7" font-size="9.4" fill="#111" font-family="'Liberation Sans',sans-serif" stroke="#111" stroke-width="0.22">50</text>
<text x="856.8" y="1131.7" font-size="9.4" fill="#111" font-family="'Liberation Sans',sans-serif" stroke="#111" stroke-width="0.22">30</text>
<text x="856.8" y="1145.2" font-size="9.4" fill="#111" font-family="'Liberation Sans',sans-serif" stroke="#111" stroke-width="0.22">20</text>
<text x="856.8" y="1158.7" font-size="9.4" fill="#111" font-family="'Liberation Sans',sans-serif" stroke="#111" stroke-width="0.22">10</text>
<text x="873.5" y="1183.4" font-size="9.4" fill="#111" font-family="'Liberation Sans',sans-serif" text-anchor="end" stroke="#111" stroke-width="0.22">100</text>
<text x="873.5" y="1202" font-size="9.4" fill="#111" font-family="'Liberation Sans',sans-serif" text-anchor="end" stroke="#111" stroke-width="0.22">50</text>
<text x="873.5" y="1220.6" font-size="9.4" fill="#111" font-family="'Liberation Sans',sans-serif" text-anchor="end" stroke="#111" stroke-width="0.22">0</text>
<text x="873.5" y="1239.2" font-size="9.4" fill="#111" font-family="'Liberation Sans',sans-serif" text-anchor="end" stroke="#111" stroke-width="0.22">-50</text>
<text x="856.8" y="1264.4" font-size="9.4" fill="#111" font-family="'Liberation Sans',sans-serif" stroke="#111" stroke-width="0.22">80</text>
<text x="856.8" y="1283.8" font-size="9.4" fill="#111" font-family="'Liberation Sans',sans-serif" stroke="#111" stroke-width="0.22">50</text>
<text x="856.8" y="1303.2" font-size="9.4" fill="#111" font-family="'Liberation Sans',sans-serif" stroke="#111" stroke-width="0.22">20</text>
<g clip-path="url(#auAll)"><text x="95.7" y="1086" font-size="9.4" fill="#111" font-family="'Liberation Sans',sans-serif" text-anchor="middle" textLength="16.6" lengthAdjust="spacingAndGlyphs" stroke="#111" stroke-width="0.22">Nov</text><text x="139" y="1086" font-size="10.4" fill="#111" font-family="'Liberation Sans',sans-serif" font-weight="bold" text-anchor="middle" textLength="22.6" lengthAdjust="spacingAndGlyphs" stroke="#111" stroke-width="0.22">2022</text><text x="163" y="1086" font-size="9.4" fill="#111" font-family="'Liberation Sans',sans-serif" text-anchor="middle" textLength="16.6" lengthAdjust="spacingAndGlyphs" stroke="#111" stroke-width="0.22">Feb</text><text x="182.3" y="1086" font-size="9.4" fill="#111" font-family="'Liberation Sans',sans-serif" text-anchor="middle" textLength="16.6" lengthAdjust="spacingAndGlyphs" stroke="#111" stroke-width="0.22">Mar</text><text x="201.5" y="1086" font-size="9.4" fill="#111" font-family="'Liberation Sans',sans-serif" text-anchor="middle" textLength="16.6" lengthAdjust="spacingAndGlyphs" stroke="#111" stroke-width="0.22">Apr</text><text x="220.7" y="1086" font-size="9.4" fill="#111" font-family="'Liberation Sans',sans-serif" text-anchor="middle" textLength="18.5" lengthAdjust="spacingAndGlyphs" stroke="#111" stroke-width="0.22">May</text><text x="244.8" y="1086" font-size="9.4" fill="#111" font-family="'Liberation Sans',sans-serif" text-anchor="middle" textLength="16.3" lengthAdjust="spacingAndGlyphs" stroke="#111" stroke-width="0.22">Jun</text><text x="264" y="1086" font-size="9.4" fill="#111" font-family="'Liberation Sans',sans-serif" text-anchor="middle" textLength="12.5" lengthAdjust="spacingAndGlyphs" stroke="#111" stroke-width="0.22">Jul</text><text x="283.3" y="1086" font-size="9.4" fill="#111" font-family="'Liberation Sans',sans-serif" text-anchor="middle" textLength="16.6" lengthAdjust="spacingAndGlyphs" stroke="#111" stroke-width="0.22">Aug</text><text x="307.3" y="1086" font-size="9.4" fill="#111" font-family="'Liberation Sans',sans-serif" text-anchor="middle" textLength="16.6" lengthAdjust="spacingAndGlyphs" stroke="#111" stroke-width="0.22">Sep</text><text x="326.6" y="1086" font-size="9.4" fill="#111" font-family="'Liberation Sans',sans-serif" text-anchor="middle" textLength="16.6" lengthAdjust="spacingAndGlyphs" stroke="#111" stroke-width="0.22">Oct</text><text x="350.6" y="1086" font-size="9.4" fill="#111" font-family="'Liberation Sans',sans-serif" text-anchor="middle" textLength="16.6" lengthAdjust="spacingAndGlyphs" stroke="#111" stroke-width="0.22">Nov</text><text x="389.1" y="1086" font-size="10.4" fill="#111" font-family="'Liberation Sans',sans-serif" font-weight="bold" text-anchor="middle" textLength="22.6" lengthAdjust="spacingAndGlyphs" stroke="#111" stroke-width="0.22">2023</text><text x="413.1" y="1086" font-size="9.4" fill="#111" font-family="'Liberation Sans',sans-serif" text-anchor="middle" textLength="16.6" lengthAdjust="spacingAndGlyphs" stroke="#111" stroke-width="0.22">Feb</text><text x="432.4" y="1086" font-size="9.4" fill="#111" font-family="'Liberation Sans',sans-serif" text-anchor="middle" textLength="16.6" lengthAdjust="spacingAndGlyphs" stroke="#111" stroke-width="0.22">Mar</text><text x="451.6" y="1086" font-size="9.4" fill="#111" font-family="'Liberation Sans',sans-serif" text-anchor="middle" textLength="16.6" lengthAdjust="spacingAndGlyphs" stroke="#111" stroke-width="0.22">Apr</text><text x="470.9" y="1086" font-size="9.4" fill="#111" font-family="'Liberation Sans',sans-serif" text-anchor="middle" textLength="18.5" lengthAdjust="spacingAndGlyphs" stroke="#111" stroke-width="0.22">May</text><text x="494.9" y="1086" font-size="9.4" fill="#111" font-family="'Liberation Sans',sans-serif" text-anchor="middle" textLength="16.3" lengthAdjust="spacingAndGlyphs" stroke="#111" stroke-width="0.22">Jun</text><text x="514.1" y="1086" font-size="9.4" fill="#111" font-family="'Liberation Sans',sans-serif" text-anchor="middle" textLength="12.5" lengthAdjust="spacingAndGlyphs" stroke="#111" stroke-width="0.22">Jul</text><text x="538.2" y="1086" font-size="9.4" fill="#111" font-family="'Liberation Sans',sans-serif" text-anchor="middle" textLength="16.6" lengthAdjust="spacingAndGlyphs" stroke="#111" stroke-width="0.22">Aug</text><text x="557.4" y="1086" font-size="9.4" fill="#111" font-family="'Liberation Sans',sans-serif" text-anchor="middle" textLength="16.6" lengthAdjust="spacingAndGlyphs" stroke="#111" stroke-width="0.22">Sep</text><text x="576.7" y="1086" font-size="9.4" fill="#111" font-family="'Liberation Sans',sans-serif" text-anchor="middle" textLength="16.6" lengthAdjust="spacingAndGlyphs" stroke="#111" stroke-width="0.22">Oct</text><text x="600.7" y="1086" font-size="9.4" fill="#111" font-family="'Liberation Sans',sans-serif" text-anchor="middle" textLength="16.6" lengthAdjust="spacingAndGlyphs" stroke="#111" stroke-width="0.22">Nov</text><text x="639.2" y="1086" font-size="10.4" fill="#111" font-family="'Liberation Sans',sans-serif" font-weight="bold" text-anchor="middle" textLength="22.6" lengthAdjust="spacingAndGlyphs" stroke="#111" stroke-width="0.22">2024</text><text x="663.3" y="1086" font-size="9.4" fill="#111" font-family="'Liberation Sans',sans-serif" text-anchor="middle" textLength="16.6" lengthAdjust="spacingAndGlyphs" stroke="#111" stroke-width="0.22">Feb</text><text x="682.5" y="1086" font-size="9.4" fill="#111" font-family="'Liberation Sans',sans-serif" text-anchor="middle" textLength="16.6" lengthAdjust="spacingAndGlyphs" stroke="#111" stroke-width="0.22">Mar</text><text x="701.7" y="1086" font-size="9.4" fill="#111" font-family="'Liberation Sans',sans-serif" text-anchor="middle" textLength="16.6" lengthAdjust="spacingAndGlyphs" stroke="#111" stroke-width="0.22">Apr</text><text x="725.8" y="1086" font-size="9.4" fill="#111" font-family="'Liberation Sans',sans-serif" text-anchor="middle" textLength="18.5" lengthAdjust="spacingAndGlyphs" stroke="#111" stroke-width="0.22">May</text><text x="745" y="1086" font-size="9.4" fill="#111" font-family="'Liberation Sans',sans-serif" text-anchor="middle" textLength="16.3" lengthAdjust="spacingAndGlyphs" stroke="#111" stroke-width="0.22">Jun</text><text x="764.3" y="1086" font-size="9.4" fill="#111" font-family="'Liberation Sans',sans-serif" text-anchor="middle" textLength="12.5" lengthAdjust="spacingAndGlyphs" stroke="#111" stroke-width="0.22">Jul</text><text x="788.3" y="1086" font-size="9.4" fill="#111" font-family="'Liberation Sans',sans-serif" text-anchor="middle" textLength="16.6" lengthAdjust="spacingAndGlyphs" stroke="#111" stroke-width="0.22">Aug</text><text x="807.6" y="1086" font-size="9.4" fill="#111" font-family="'Liberation Sans',sans-serif" text-anchor="middle" textLength="16.6" lengthAdjust="spacingAndGlyphs" stroke="#111" stroke-width="0.22">Sep</text><text x="831.6" y="1086" font-size="9.4" fill="#111" font-family="'Liberation Sans',sans-serif" text-anchor="middle" textLength="16.6" lengthAdjust="spacingAndGlyphs" stroke="#111" stroke-width="0.22">Oct</text><text x="95.7" y="1329.2" font-size="9.4" fill="#111" font-family="'Liberation Sans',sans-serif" text-anchor="middle" textLength="16.6" lengthAdjust="spacingAndGlyphs" stroke="#111" stroke-width="0.22">Nov</text><text x="139" y="1329.2" font-size="10.4" fill="#111" font-family="'Liberation Sans',sans-serif" font-weight="bold" text-anchor="middle" textLength="22.6" lengthAdjust="spacingAndGlyphs" stroke="#111" stroke-width="0.22">2022</text><text x="163" y="1329.2" font-size="9.4" fill="#111" font-family="'Liberation Sans',sans-serif" text-anchor="middle" textLength="16.6" lengthAdjust="spacingAndGlyphs" stroke="#111" stroke-width="0.22">Feb</text><text x="182.3" y="1329.2" font-size="9.4" fill="#111" font-family="'Liberation Sans',sans-serif" text-anchor="middle" textLength="16.6" lengthAdjust="spacingAndGlyphs" stroke="#111" stroke-width="0.22">Mar</text><text x="201.5" y="1329.2" font-size="9.4" fill="#111" font-family="'Liberation Sans',sans-serif" text-anchor="middle" textLength="16.6" lengthAdjust="spacingAndGlyphs" stroke="#111" stroke-width="0.22">Apr</text><text x="220.7" y="1329.2" font-size="9.4" fill="#111" font-family="'Liberation Sans',sans-serif" text-anchor="middle" textLength="18.5" lengthAdjust="spacingAndGlyphs" stroke="#111" stroke-width="0.22">May</text><text x="244.8" y="1329.2" font-size="9.4" fill="#111" font-family="'Liberation Sans',sans-serif" text-anchor="middle" textLength="16.3" lengthAdjust="spacingAndGlyphs" stroke="#111" stroke-width="0.22">Jun</text><text x="264" y="1329.2" font-size="9.4" fill="#111" font-family="'Liberation Sans',sans-serif" text-anchor="middle" textLength="12.5" lengthAdjust="spacingAndGlyphs" stroke="#111" stroke-width="0.22">Jul</text><text x="283.3" y="1329.2" font-size="9.4" fill="#111" font-family="'Liberation Sans',sans-serif" text-anchor="middle" textLength="16.6" lengthAdjust="spacingAndGlyphs" stroke="#111" stroke-width="0.22">Aug</text><text x="307.3" y="1329.2" font-size="9.4" fill="#111" font-family="'Liberation Sans',sans-serif" text-anchor="middle" textLength="16.6" lengthAdjust="spacingAndGlyphs" stroke="#111" stroke-width="0.22">Sep</text><text x="326.6" y="1329.2" font-size="9.4" fill="#111" font-family="'Liberation Sans',sans-serif" text-anchor="middle" textLength="16.6" lengthAdjust="spacingAndGlyphs" stroke="#111" stroke-width="0.22">Oct</text><text x="350.6" y="1329.2" font-size="9.4" fill="#111" font-family="'Liberation Sans',sans-serif" text-anchor="middle" textLength="16.6" lengthAdjust="spacingAndGlyphs" stroke="#111" stroke-width="0.22">Nov</text><text x="389.1" y="1329.2" font-size="10.4" fill="#111" font-family="'Liberation Sans',sans-serif" font-weight="bold" text-anchor="middle" textLength="22.6" lengthAdjust="spacingAndGlyphs" stroke="#111" stroke-width="0.22">2023</text><text x="413.1" y="1329.2" font-size="9.4" fill="#111" font-family="'Liberation Sans',sans-serif" text-anchor="middle" textLength="16.6" lengthAdjust="spacingAndGlyphs" stroke="#111" stroke-width="0.22">Feb</text><text x="432.4" y="1329.2" font-size="9.4" fill="#111" font-family="'Liberation Sans',sans-serif" text-anchor="middle" textLength="16.6" lengthAdjust="spacingAndGlyphs" stroke="#111" stroke-width="0.22">Mar</text><text x="451.6" y="1329.2" font-size="9.4" fill="#111" font-family="'Liberation Sans',sans-serif" text-anchor="middle" textLength="16.6" lengthAdjust="spacingAndGlyphs" stroke="#111" stroke-width="0.22">Apr</text><text x="470.9" y="1329.2" font-size="9.4" fill="#111" font-family="'Liberation Sans',sans-serif" text-anchor="middle" textLength="18.5" lengthAdjust="spacingAndGlyphs" stroke="#111" stroke-width="0.22">May</text><text x="494.9" y="1329.2" font-size="9.4" fill="#111" font-family="'Liberation Sans',sans-serif" text-anchor="middle" textLength="16.3" lengthAdjust="spacingAndGlyphs" stroke="#111" stroke-width="0.22">Jun</text><text x="514.1" y="1329.2" font-size="9.4" fill="#111" font-family="'Liberation Sans',sans-serif" text-anchor="middle" textLength="12.5" lengthAdjust="spacingAndGlyphs" stroke="#111" stroke-width="0.22">Jul</text><text x="538.2" y="1329.2" font-size="9.4" fill="#111" font-family="'Liberation Sans',sans-serif" text-anchor="middle" textLength="16.6" lengthAdjust="spacingAndGlyphs" stroke="#111" stroke-width="0.22">Aug</text><text x="557.4" y="1329.2" font-size="9.4" fill="#111" font-family="'Liberation Sans',sans-serif" text-anchor="middle" textLength="16.6" lengthAdjust="spacingAndGlyphs" stroke="#111" stroke-width="0.22">Sep</text><text x="576.7" y="1329.2" font-size="9.4" fill="#111" font-family="'Liberation Sans',sans-serif" text-anchor="middle" textLength="16.6" lengthAdjust="spacingAndGlyphs" stroke="#111" stroke-width="0.22">Oct</text><text x="600.7" y="1329.2" font-size="9.4" fill="#111" font-family="'Liberation Sans',sans-serif" text-anchor="middle" textLength="16.6" lengthAdjust="spacingAndGlyphs" stroke="#111" stroke-width="0.22">Nov</text><text x="639.2" y="1329.2" font-size="10.4" fill="#111" font-family="'Liberation Sans',sans-serif" font-weight="bold" text-anchor="middle" textLength="22.6" lengthAdjust="spacingAndGlyphs" stroke="#111" stroke-width="0.22">2024</text><text x="663.3" y="1329.2" font-size="9.4" fill="#111" font-family="'Liberation Sans',sans-serif" text-anchor="middle" textLength="16.6" lengthAdjust="spacingAndGlyphs" stroke="#111" stroke-width="0.22">Feb</text><text x="682.5" y="1329.2" font-size="9.4" fill="#111" font-family="'Liberation Sans',sans-serif" text-anchor="middle" textLength="16.6" lengthAdjust="spacingAndGlyphs" stroke="#111" stroke-width="0.22">Mar</text><text x="701.7" y="1329.2" font-size="9.4" fill="#111" font-family="'Liberation Sans',sans-serif" text-anchor="middle" textLength="16.6" lengthAdjust="spacingAndGlyphs" stroke="#111" stroke-width="0.22">Apr</text><text x="725.8" y="1329.2" font-size="9.4" fill="#111" font-family="'Liberation Sans',sans-serif" text-anchor="middle" textLength="18.5" lengthAdjust="spacingAndGlyphs" stroke="#111" stroke-width="0.22">May</text><text x="745" y="1329.2" font-size="9.4" fill="#111" font-family="'Liberation Sans',sans-serif" text-anchor="middle" textLength="16.3" lengthAdjust="spacingAndGlyphs" stroke="#111" stroke-width="0.22">Jun</text><text x="764.3" y="1329.2" font-size="9.4" fill="#111" font-family="'Liberation Sans',sans-serif" text-anchor="middle" textLength="12.5" lengthAdjust="spacingAndGlyphs" stroke="#111" stroke-width="0.22">Jul</text><text x="788.3" y="1329.2" font-size="9.4" fill="#111" font-family="'Liberation Sans',sans-serif" text-anchor="middle" textLength="16.6" lengthAdjust="spacingAndGlyphs" stroke="#111" stroke-width="0.22">Aug</text><text x="807.6" y="1329.2" font-size="9.4" fill="#111" font-family="'Liberation Sans',sans-serif" text-anchor="middle" textLength="16.6" lengthAdjust="spacingAndGlyphs" stroke="#111" stroke-width="0.22">Sep</text><text x="831.6" y="1329.2" font-size="9.4" fill="#111" font-family="'Liberation Sans',sans-serif" text-anchor="middle" textLength="16.6" lengthAdjust="spacingAndGlyphs" stroke="#111" stroke-width="0.22">Oct</text></g>
<g clip-path="url(#auP)"><line x1="346.5" y1="1060.7" x2="852.8" y2="985.6" stroke="#5a5aff" stroke-width="1.15" stroke-dasharray="9.5 3.2"/>
<line x1="577.4" y1="1027.4" x2="855" y2="945.4" stroke="#5a5aff" stroke-width="1.15" stroke-dasharray="9.5 3.2"/>
<line x1="669.2" y1="1000.3" x2="852.8" y2="909" stroke="#5a5aff" stroke-width="1.15" stroke-dasharray="9.5 3.2"/>
<path d="M96.6,1031.8C101.4,1031.8 117.4,1031.6 125.7,1031.4C133.9,1031.3 139.2,1031.3 146,1030.8C152.8,1030.4 161.2,1029.5 166.3,1028.8C171.4,1028.1 173.1,1027.5 176.5,1026.7C179.9,1026 183.2,1024.8 186.6,1024.1C190,1023.4 193.4,1023.1 196.8,1022.7C200.2,1022.3 203.6,1021.9 207,1021.7C210.3,1021.4 213.7,1021.3 217.1,1021.3C220.5,1021.3 223.9,1021.5 227.3,1021.7C230.7,1021.8 234.1,1022 237.4,1022.1C240.8,1022.1 244.2,1022 247.6,1022.1C251,1022.2 254.4,1022.3 257.8,1022.7C261.2,1023 264.5,1023.7 267.9,1024.1C271.3,1024.5 275.2,1025.1 278.1,1025.3C281,1025.6 282.3,1025.4 285.2,1025.7C288,1026.1 291.9,1026.7 295.3,1027.4C298.7,1028 302.1,1028.7 305.5,1029.4C308.9,1030.1 312.3,1030.8 315.7,1031.4C319,1032 322.4,1032.4 325.8,1032.8C329.2,1033.3 332.6,1033.9 336,1034.3C339.4,1034.7 342.8,1035.1 346.1,1035.3C349.5,1035.5 352.9,1035.4 356.3,1035.3C359.7,1035.2 363.1,1035 366.5,1034.9C369.9,1034.7 373.2,1034.6 376.6,1034.3C380,1033.9 383.4,1033.4 386.8,1032.8C390.2,1032.3 393.6,1031.4 397,1030.8C400.3,1030.2 403.7,1029.7 407.1,1029.4C410.5,1029.1 413.9,1028.9 417.3,1028.8C420.7,1028.7 424.1,1028.9 427.4,1028.8C430.8,1028.6 434.2,1028.3 437.6,1027.8C441,1027.2 444.4,1026.2 447.8,1025.3C451.2,1024.5 454.5,1023.6 457.9,1022.7C461.3,1021.8 465.6,1020.6 468.1,1020C470.6,1019.5 470.9,1019.6 473.1,1019.2C475.3,1018.8 478.6,1018 481.3,1017.6C484,1017.2 486.3,1016.9 489.4,1016.6C492.4,1016.2 496.2,1015.9 499.6,1015.6C502.9,1015.2 506.3,1014.8 509.7,1014.6C513.1,1014.3 516.5,1014.2 519.9,1013.9C523.3,1013.7 526.7,1013.4 530,1013.1C533.4,1012.9 536.8,1012.7 540.2,1012.5C543.6,1012.4 547,1012.3 550.4,1012.1C553.8,1011.9 557.1,1011.6 560.5,1011.5C563.9,1011.4 567.3,1011.4 570.7,1011.5C574.1,1011.6 577.5,1012 580.9,1011.9C584.2,1011.8 588,1011.3 591,1011.1C594.1,1010.9 596.4,1010.8 599.1,1010.5C601.9,1010.2 604.2,1010 607.3,1009.5C610.3,1009 614.1,1008 617.4,1007.4C620.8,1006.8 624.2,1006.3 627.6,1005.8C631,1005.3 634.4,1004.8 637.8,1004.4C641.2,1004 644.5,1003.8 647.9,1003.4C651.3,1002.9 655.2,1001.9 658.1,1001.7C661,1001.6 662.3,1002.4 665.2,1002.4C668,1002.3 671.9,1001.9 675.3,1001.3C678.7,1000.8 682.1,999.7 685.5,998.9C688.9,998.1 692.3,997.5 695.7,996.3C699,995 702.4,992.8 705.8,991.2C709.2,989.6 712.6,988.2 716,986.7C719.4,985.2 722.8,983.5 726.1,982C729.5,980.6 732.9,979.2 736.3,978C739.7,976.8 743.1,975.9 746.5,974.9C749.9,973.9 753.2,973.1 756.6,971.9C760,970.7 763.4,969 766.8,967.8C770.2,966.6 773.6,965.9 777,964.8C780.3,963.6 783.7,962.1 787.1,960.7C790.5,959.3 793.9,957.6 797.3,956.2C800.7,954.8 804.1,953.4 807.4,952.2C810.8,950.9 814.2,950.4 817.6,948.9C821,947.4 824.4,945.2 827.8,943.4C831.2,941.7 834.7,939.9 837.9,938.3C841.1,936.8 845.5,934.9 847.1,934.3" fill="none" stroke="#3d8f3d" stroke-width="1.35" stroke-linejoin="round" stroke-linecap="round" />
<path d="M96.6,1031.4C99.7,1031.3 108.9,1030.9 115.5,1030.8C122,1030.7 129,1030.9 135.8,1030.8C142.6,1030.7 151.1,1030.6 156.1,1030.2C161.2,1029.8 162.9,1029.1 166.3,1028.2C169.7,1027.3 173.1,1026.1 176.5,1024.7C179.9,1023.3 183.2,1020.9 186.6,1019.6C190,1018.4 193.4,1017.9 196.8,1017.2C200.2,1016.4 203.9,1015.6 207,1015.2C210,1014.7 212.4,1014.6 215.1,1014.6C217.8,1014.6 220.5,1014.7 223.2,1015.2C225.9,1015.7 228,1017 231.3,1017.6C234.7,1018.2 239.8,1018.1 243.5,1018.6C247.3,1019.1 250.3,1019.8 253.7,1020.7C257.1,1021.5 260.8,1022.6 263.9,1023.7C266.9,1024.8 268.4,1026.3 272,1027.4C275.5,1028.4 281.3,1029.4 285.2,1030.2C289.1,1031 291.9,1031.4 295.3,1032.2C298.7,1033.1 302.1,1034.4 305.5,1035.5C308.9,1036.6 312.3,1037.9 315.7,1038.9C319,1040 322.4,1040.8 325.8,1041.6C329.2,1042.4 332.9,1043.1 336,1043.6C339,1044.1 341.4,1044.5 344.1,1044.4C346.8,1044.3 349.5,1043.7 352.2,1043C354.9,1042.3 357.7,1041 360.4,1040.4C363.1,1039.7 365.8,1039.5 368.5,1038.9C371.2,1038.4 373.9,1037.6 376.6,1036.9C379.3,1036.2 382,1035.8 384.8,1034.9C387.5,1034 390.2,1032.6 392.9,1031.4C395.6,1030.2 398.3,1028.7 401,1027.8C403.7,1026.8 406.4,1026.2 409.1,1025.7C411.9,1025.2 414.6,1024.9 417.3,1024.7C420,1024.5 422.7,1024.9 425.4,1024.7C428.1,1024.5 430.8,1024.4 433.5,1023.7C436.2,1023 439,1021.8 441.7,1020.7C444.4,1019.5 447.1,1017.9 449.8,1016.6C452.5,1015.2 455.2,1013.5 457.9,1012.5C460.6,1011.5 463.5,1011.3 466.1,1010.5C468.6,1009.6 470.6,1008.1 473.1,1007.4C475.7,1006.8 478.6,1006.6 481.3,1006.4C484,1006.3 486.3,1006.4 489.4,1006.4C492.4,1006.4 496.2,1006.3 499.6,1006.4C502.9,1006.6 506.3,1007.2 509.7,1007.4C513.1,1007.7 516.5,1007.9 519.9,1007.8C523.3,1007.8 526.7,1007.2 530,1007C533.4,1006.9 536.8,1006.9 540.2,1007C543.6,1007.2 547,1007.6 550.4,1007.8C553.8,1008.1 557.1,1008.3 560.5,1008.5C563.9,1008.7 567.6,1008.7 570.7,1009.1C573.7,1009.4 576.1,1010.4 578.8,1010.5C581.5,1010.6 584.2,1010.3 587,1009.9C589.7,1009.4 592.4,1008.3 595.1,1007.8C597.8,1007.4 600.5,1007.4 603.2,1007C605.9,1006.7 608.6,1006.6 611.3,1005.8C614.1,1005 616.8,1003.4 619.5,1002.4C622.2,1001.3 624.9,1000.5 627.6,999.7C630.3,998.9 633,998.2 635.7,997.7C638.4,997.2 641.2,997 643.9,996.9C646.6,996.7 648.4,997 652,996.9C655.5,996.8 661.3,996.8 665.2,996.3C669.1,995.7 671.9,994.8 675.3,993.6C678.7,992.4 682.1,990.7 685.5,989.1C688.9,987.6 692.3,986.3 695.7,984.1C699,981.9 702.4,978.6 705.8,975.9C709.2,973.2 712.6,970.3 716,967.8C719.4,965.3 722.8,962.6 726.1,960.7C729.5,958.8 732.9,957.6 736.3,956.6C739.7,955.7 743.1,955.5 746.5,955C749.9,954.5 753.6,954.3 756.6,953.6C759.7,952.9 762,952 764.8,950.9C767.5,949.9 770.2,948.4 772.9,947.5C775.6,946.6 778.3,946.5 781,945.4C783.7,944.4 786.4,942.9 789.1,941.4C791.9,939.9 794.2,938.2 797.3,936.3C800.3,934.4 804.1,932.2 807.4,930.2C810.8,928.2 814.2,926.3 817.6,924.1C821,921.9 824.4,919.4 827.8,917C831.2,914.6 834.7,911.8 837.9,909.9C841.1,907.9 845.5,906.2 847.1,905.4" fill="none" stroke="#e0506e" stroke-width="1.35" stroke-linejoin="round" stroke-linecap="round" />
<path d="M96.6,1030.8C98,1030.5 102.2,1028.8 105.3,1028.8C108.5,1028.8 112.1,1030.4 115.5,1030.8C118.9,1031.3 122.3,1031.5 125.7,1031.4C129,1031.3 132.4,1030.5 135.8,1030.2C139.2,1029.9 142.6,1029.9 146,1029.8C149.4,1029.7 153.1,1030.1 156.1,1029.8C159.2,1029.5 161.6,1028.9 164.3,1027.8C167,1026.6 169.7,1024.4 172.4,1022.7C175.1,1021 177.8,1019 180.5,1017.6C183.2,1016.2 185.6,1015.4 188.7,1014.6C191.7,1013.7 195.8,1013.2 198.8,1012.5C201.9,1011.8 204.2,1010.8 207,1010.5C209.7,1010.1 212.4,1010.1 215.1,1010.5C217.8,1010.8 220.5,1011.3 223.2,1012.5C225.9,1013.7 228.6,1016.5 231.3,1017.6C234.1,1018.7 236.8,1018.9 239.5,1019.2C242.2,1019.6 244.9,1019.3 247.6,1019.6C250.3,1020 253,1020.4 255.7,1021.3C258.4,1022.1 261.2,1023.1 263.9,1024.7C266.6,1026.3 269.6,1029.4 272,1030.8C274.4,1032.3 276.2,1033.3 278.1,1033.5C279.9,1033.6 280.9,1032 283.1,1031.8C285.3,1031.6 288.6,1031.6 291.3,1032.2C294,1032.9 296.7,1034.6 299.4,1035.9C302.1,1037.2 304.8,1038.6 307.5,1040C310.2,1041.3 312.9,1043.1 315.7,1044C318.4,1045 321.1,1045.1 323.8,1045.7C326.5,1046.2 329.2,1046.4 331.9,1047.1C334.6,1047.8 337.7,1049.1 340,1049.7C342.4,1050.3 344.1,1050.9 346.1,1050.5C348.2,1050.2 349.9,1048.9 352.2,1047.7C354.6,1046.4 357.7,1044.5 360.4,1043C363.1,1041.6 365.8,1040.1 368.5,1038.9C371.2,1037.8 373.9,1036.8 376.6,1035.9C379.3,1035 382,1034.8 384.8,1033.5C387.5,1032.1 390.2,1029.6 392.9,1027.8C395.6,1026 398.6,1024 401,1022.7C403.4,1021.4 404.7,1020.4 407.1,1020C409.5,1019.7 412.5,1020.2 415.2,1020.7C418,1021.1 420.7,1022.3 423.4,1022.7C426.1,1023 428.8,1023.5 431.5,1022.7C434.2,1021.8 436.9,1019.5 439.6,1017.6C442.3,1015.7 445.1,1013.4 447.8,1011.5C450.5,1009.6 453.2,1007.6 455.9,1006.4C458.6,1005.2 461.2,1005.5 464,1004.4C466.9,1003.3 470.3,1000.3 473.1,999.7C476,999.1 478.6,1000.3 481.3,1000.9C484,1001.5 486.7,1002.8 489.4,1003.4C492.1,1003.9 494.8,1004 497.5,1004.4C500.2,1004.8 502.6,1005.4 505.7,1005.8C508.7,1006.3 512.4,1007.1 515.8,1007C519.2,1007 522.6,1005.8 526,1005.4C529.4,1005 532.8,1004.1 536.1,1004.4C539.5,1004.7 542.9,1006.5 546.3,1007C549.7,1007.5 553.1,1007.3 556.5,1007.4C559.9,1007.6 563.6,1007.3 566.6,1007.8C569.7,1008.4 572,1010 574.8,1010.5C577.5,1010.9 580.2,1011.1 582.9,1010.5C585.6,1009.9 588.3,1007.9 591,1007C593.7,1006.2 596.4,1005.7 599.1,1005.4C601.9,1005.1 604.6,1005.7 607.3,1005C610,1004.3 612.7,1002.2 615.4,1000.9C618.1,999.6 620.8,998.2 623.5,997.3C626.2,996.3 629,995.8 631.7,995.2C634.4,994.7 637.1,994.4 639.8,994.2C642.5,994.1 645.2,994.1 647.9,994.2C650.6,994.3 653.2,994.8 656.1,994.8C658.9,994.8 662,994.8 665.2,994.2C668.4,993.7 671.9,993.1 675.3,991.6C678.7,990.1 682.1,987.4 685.5,985.1C688.9,982.8 692.6,980.5 695.7,978C698.7,975.4 701.1,972.7 703.8,969.8C706.5,967 709.2,963.4 711.9,960.7C714.6,958 717.3,955.4 720,953.6C722.8,951.7 725.5,950.5 728.2,949.5C730.9,948.5 733.3,947.8 736.3,947.5C739.3,947.1 743.1,947.6 746.5,947.5C749.9,947.4 753.6,947.2 756.6,946.9C759.7,946.5 762.4,946.2 764.8,945.4C767.1,944.7 768.5,943.1 770.9,942.4C773.2,941.7 776.3,942.4 779,941.4C781.7,940.4 784.1,938.5 787.1,936.3C790.2,934.1 793.9,930.5 797.3,928.2C800.7,925.8 804.4,924.1 807.4,922.1C810.5,920 812.9,918.2 815.6,916C818.3,913.8 821,911.1 823.7,908.9C826.4,906.7 829.1,904.8 831.8,902.8C834.5,900.7 837.4,898.5 840,896.7C842.5,894.8 845.9,892.4 847.1,891.6" fill="none" stroke="#3b3bab" stroke-width="1.45" stroke-linejoin="round" stroke-linecap="round" />
<line x1="778.8" y1="943.2" x2="847.4" y2="892" stroke="#4444f5" stroke-width="1.3" stroke-dasharray="12 2"/>
<line x1="96.5" y1="1028.8" x2="96.5" y2="1034.3" stroke="#111" stroke-width="1" />
<rect x="94.6" y="1029.9" width="3.8" height="3.1" fill="#fff" stroke="#111" stroke-width="1" />
<line x1="101.3" y1="1019.6" x2="101.3" y2="1028.8" stroke="#111" stroke-width="1" />
<rect x="99.4" y="1021.2" width="3.8" height="6.1" fill="#fff" stroke="#111" stroke-width="1" />
<line x1="106.1" y1="1018.6" x2="106.1" y2="1024.7" stroke="#d30a3a" stroke-width="1" />
<rect x="103.7" y="1020" width="4.8" height="3.3" fill="#d30a3a" />
<line x1="110.9" y1="1022.1" x2="110.9" y2="1034.9" stroke="#d30a3a" stroke-width="1" />
<rect x="108.5" y="1023.3" width="4.8" height="10.6" fill="#d30a3a" />
<line x1="115.7" y1="1030.2" x2="115.7" y2="1037.9" stroke="#d30a3a" stroke-width="1" />
<rect x="113.3" y="1031.4" width="4.8" height="2.8" fill="#d30a3a" />
<line x1="120.5" y1="1030.8" x2="120.5" y2="1035.9" stroke="#111" stroke-width="1" />
<rect x="118.1" y="1033" width="4.8" height="1" fill="#111" />
<line x1="125.3" y1="1028.8" x2="125.3" y2="1038.9" stroke="#111" stroke-width="1" />
<rect x="123.4" y="1031.3" width="3.8" height="2" fill="#fff" stroke="#111" stroke-width="1" />
<line x1="130.2" y1="1027.8" x2="130.2" y2="1033.5" stroke="#111" stroke-width="1" />
<rect x="127.8" y="1029.8" width="4.8" height="1" fill="#111" />
<line x1="135" y1="1025.7" x2="135" y2="1031.4" stroke="#111" stroke-width="1" />
<rect x="133.1" y="1027.2" width="3.8" height="2" fill="#fff" stroke="#111" stroke-width="1" />
<line x1="139.8" y1="1025.7" x2="139.8" y2="1033.9" stroke="#d30a3a" stroke-width="1" />
<rect x="137.4" y="1026.7" width="4.8" height="4.1" fill="#d30a3a" />
<line x1="144.6" y1="1027.4" x2="144.6" y2="1032.4" stroke="#111" stroke-width="1" />
<rect x="142.7" y="1029.3" width="3.8" height="1.6" fill="#fff" stroke="#111" stroke-width="1" />
<line x1="149.4" y1="1022.7" x2="149.4" y2="1030.2" stroke="#111" stroke-width="1" />
<rect x="147.5" y="1026.2" width="3.8" height="2.7" fill="#fff" stroke="#111" stroke-width="1" />
<line x1="154.2" y1="1022.1" x2="154.2" y2="1033.9" stroke="#d30a3a" stroke-width="1" />
<rect x="151.8" y="1025.7" width="4.8" height="7.1" fill="#d30a3a" />
<line x1="159" y1="1027.8" x2="159" y2="1032.8" stroke="#111" stroke-width="1" />
<rect x="157.1" y="1029.9" width="3.8" height="1.4" fill="#fff" stroke="#111" stroke-width="1" />
<line x1="163.8" y1="1020.7" x2="163.8" y2="1030.2" stroke="#111" stroke-width="1" />
<rect x="161.9" y="1023.8" width="3.8" height="5.1" fill="#fff" stroke="#111" stroke-width="1" />
<line x1="168.6" y1="1013.5" x2="168.6" y2="1023.7" stroke="#111" stroke-width="1" />
<rect x="166.7" y="1016.1" width="3.8" height="5.5" fill="#fff" stroke="#111" stroke-width="1" />
<line x1="173.4" y1="1002.4" x2="173.4" y2="1018.6" stroke="#d30a3a" stroke-width="1" />
<rect x="171" y="1014.6" width="4.8" height="3" fill="#d30a3a" />
<line x1="178.2" y1="1003" x2="178.2" y2="1016" stroke="#111" stroke-width="1" />
<rect x="176.3" y="1004.9" width="3.8" height="7.1" fill="#fff" stroke="#111" stroke-width="1" />
<line x1="183.1" y1="987.1" x2="183.1" y2="1005.4" stroke="#111" stroke-width="1" />
<rect x="180.7" y="1001.3" width="4.8" height="1.6" fill="#111" />
<line x1="187.9" y1="999.3" x2="187.9" y2="1015.6" stroke="#d30a3a" stroke-width="1" />
<rect x="185.5" y="1000.3" width="4.8" height="10.8" fill="#d30a3a" />
<line x1="192.7" y1="1005" x2="192.7" y2="1013.9" stroke="#111" stroke-width="1" />
<rect x="190.8" y="1006.9" width="3.8" height="5.1" fill="#fff" stroke="#111" stroke-width="1" />
<line x1="197.5" y1="1005.4" x2="197.5" y2="1016.6" stroke="#d30a3a" stroke-width="1" />
<rect x="195.1" y="1006.4" width="4.8" height="6.1" fill="#d30a3a" />
<line x1="202.3" y1="1007" x2="202.3" y2="1012.5" stroke="#111" stroke-width="1" />
<rect x="200.4" y="1009" width="3.8" height="1.6" fill="#fff" stroke="#111" stroke-width="1" />
<line x1="207.1" y1="1001.7" x2="207.1" y2="1009.5" stroke="#111" stroke-width="1" />
<rect x="205.2" y="1003.9" width="3.8" height="4.1" fill="#fff" stroke="#111" stroke-width="1" />
<line x1="211.9" y1="998.3" x2="211.9" y2="1011.1" stroke="#d30a3a" stroke-width="1" />
<rect x="209.5" y="1003" width="4.8" height="6.9" fill="#d30a3a" />
<line x1="216.7" y1="1009.5" x2="216.7" y2="1020" stroke="#d30a3a" stroke-width="1" />
<rect x="214.3" y="1010.5" width="4.8" height="4.1" fill="#d30a3a" />
<line x1="221.5" y1="1013.1" x2="221.5" y2="1019.6" stroke="#d30a3a" stroke-width="1" />
<rect x="219.1" y="1014.6" width="4.8" height="3.5" fill="#d30a3a" />
<line x1="226.3" y1="1016.6" x2="226.3" y2="1031.4" stroke="#d30a3a" stroke-width="1" />
<rect x="223.9" y="1017.6" width="4.8" height="12.6" fill="#d30a3a" />
<line x1="231.2" y1="1022.7" x2="231.2" y2="1033.9" stroke="#111" stroke-width="1" />
<rect x="229.3" y="1024.6" width="3.8" height="4.7" fill="#fff" stroke="#111" stroke-width="1" />
<line x1="236" y1="1020" x2="236" y2="1025.7" stroke="#111" stroke-width="1" />
<rect x="234.1" y="1022.2" width="3.8" height="1.4" fill="#fff" stroke="#111" stroke-width="1" />
<line x1="240.8" y1="1020.7" x2="240.8" y2="1026.7" stroke="#d30a3a" stroke-width="1" />
<rect x="238.4" y="1022.1" width="4.8" height="1.2" fill="#d30a3a" />
<line x1="245.6" y1="1018.6" x2="245.6" y2="1026.7" stroke="#111" stroke-width="1" />
<rect x="243.7" y="1020.5" width="3.8" height="1.6" fill="#fff" stroke="#111" stroke-width="1" />
<line x1="250.4" y1="1017.6" x2="250.4" y2="1030.8" stroke="#d30a3a" stroke-width="1" />
<rect x="248" y="1018.6" width="4.8" height="6.1" fill="#d30a3a" />
<line x1="255.2" y1="1022.7" x2="255.2" y2="1028.8" stroke="#d30a3a" stroke-width="1" />
<rect x="252.8" y="1024.1" width="4.8" height="2.6" fill="#d30a3a" />
<line x1="260" y1="1023.7" x2="260" y2="1033.9" stroke="#d30a3a" stroke-width="1" />
<rect x="257.6" y="1024.7" width="4.8" height="7.1" fill="#d30a3a" />
<line x1="264.8" y1="1027.8" x2="264.8" y2="1041.6" stroke="#d30a3a" stroke-width="1" />
<rect x="262.4" y="1028.8" width="4.8" height="11.6" fill="#d30a3a" />
<line x1="269.6" y1="1038.9" x2="269.6" y2="1048.1" stroke="#d30a3a" stroke-width="1" />
<rect x="267.2" y="1040" width="4.8" height="7.1" fill="#d30a3a" />
<line x1="274.4" y1="1040.4" x2="274.4" y2="1051.1" stroke="#111" stroke-width="1" />
<rect x="272.5" y="1042.5" width="3.8" height="3.5" fill="#fff" stroke="#111" stroke-width="1" />
<line x1="279.3" y1="1032.2" x2="279.3" y2="1046.1" stroke="#111" stroke-width="1" />
<rect x="277.4" y="1034" width="3.8" height="8.6" fill="#fff" stroke="#111" stroke-width="1" />
<line x1="284.1" y1="1030.2" x2="284.1" y2="1034.9" stroke="#111" stroke-width="1" />
<rect x="282.2" y="1032.3" width="3.8" height="0.6" fill="#fff" stroke="#111" stroke-width="1" />
<line x1="288.9" y1="1027.4" x2="288.9" y2="1032.8" stroke="#111" stroke-width="1" />
<rect x="287" y="1029.3" width="3.8" height="2" fill="#fff" stroke="#111" stroke-width="1" />
<line x1="293.7" y1="1027.8" x2="293.7" y2="1037.9" stroke="#d30a3a" stroke-width="1" />
<rect x="291.3" y="1028.8" width="4.8" height="8.1" fill="#d30a3a" />
<line x1="298.5" y1="1035.5" x2="298.5" y2="1041" stroke="#d30a3a" stroke-width="1" />
<rect x="296.1" y="1036.9" width="4.8" height="2.6" fill="#d30a3a" />
<line x1="303.3" y1="1036.9" x2="303.3" y2="1047.1" stroke="#d30a3a" stroke-width="1" />
<rect x="300.9" y="1038.9" width="4.8" height="5.1" fill="#d30a3a" />
<line x1="308.1" y1="1038.9" x2="308.1" y2="1047.1" stroke="#111" stroke-width="1" />
<rect x="305.7" y="1042" width="4.8" height="1" fill="#111" />
<line x1="312.9" y1="1041" x2="312.9" y2="1053.2" stroke="#d30a3a" stroke-width="1" />
<rect x="310.5" y="1042.4" width="4.8" height="7.7" fill="#d30a3a" />
<line x1="317.7" y1="1047.7" x2="317.7" y2="1055.2" stroke="#d30a3a" stroke-width="1" />
<rect x="315.3" y="1049.1" width="4.8" height="5.1" fill="#d30a3a" />
<line x1="322.6" y1="1050.1" x2="322.6" y2="1059.3" stroke="#111" stroke-width="1" />
<rect x="320.6" y="1052.2" width="3.8" height="2.5" fill="#fff" stroke="#111" stroke-width="1" />
<line x1="327.4" y1="1041" x2="327.4" y2="1052.2" stroke="#111" stroke-width="1" />
<rect x="325.5" y="1045.5" width="3.8" height="5.1" fill="#fff" stroke="#111" stroke-width="1" />
<line x1="332.2" y1="1045.7" x2="332.2" y2="1056.2" stroke="#d30a3a" stroke-width="1" />
<rect x="329.8" y="1047.1" width="4.8" height="8.1" fill="#d30a3a" />
<line x1="337" y1="1051.1" x2="337" y2="1059.3" stroke="#111" stroke-width="1" />
<rect x="334.6" y="1053.8" width="4.8" height="1" fill="#111" />
<line x1="341.8" y1="1051.7" x2="341.8" y2="1056.6" stroke="#d30a3a" stroke-width="1" />
<rect x="339.4" y="1053.2" width="4.8" height="2.6" fill="#d30a3a" />
<line x1="346.6" y1="1048.1" x2="346.6" y2="1060.3" stroke="#111" stroke-width="1" />
<rect x="344.7" y="1050.2" width="3.8" height="4.5" fill="#fff" stroke="#111" stroke-width="1" />
<line x1="351.4" y1="1034.3" x2="351.4" y2="1052.2" stroke="#111" stroke-width="1" />
<rect x="349.5" y="1036" width="3.8" height="14" fill="#fff" stroke="#111" stroke-width="1" />
<line x1="356.2" y1="1031.8" x2="356.2" y2="1038.9" stroke="#d30a3a" stroke-width="1" />
<rect x="353.8" y="1035.5" width="4.8" height="2.4" fill="#d30a3a" />
<line x1="361" y1="1035.9" x2="361" y2="1043" stroke="#d30a3a" stroke-width="1" />
<rect x="358.6" y="1037.5" width="4.8" height="2" fill="#d30a3a" />
<line x1="365.8" y1="1028.2" x2="365.8" y2="1038.9" stroke="#111" stroke-width="1" />
<rect x="363.9" y="1029.9" width="3.8" height="7.5" fill="#fff" stroke="#111" stroke-width="1" />
<line x1="370.6" y1="1027.4" x2="370.6" y2="1033.9" stroke="#111" stroke-width="1" />
<rect x="368.2" y="1029.4" width="4.8" height="1" fill="#111" />
<line x1="375.5" y1="1024.1" x2="375.5" y2="1033.9" stroke="#d30a3a" stroke-width="1" />
<rect x="373.1" y="1029.8" width="4.8" height="1.2" fill="#d30a3a" />
<line x1="380.3" y1="1026.7" x2="380.3" y2="1031.8" stroke="#111" stroke-width="1" />
<rect x="377.9" y="1029.8" width="4.8" height="1" fill="#111" />
<line x1="385.1" y1="1024.7" x2="385.1" y2="1030.2" stroke="#111" stroke-width="1" />
<rect x="383.2" y="1027.2" width="3.8" height="1.6" fill="#fff" stroke="#111" stroke-width="1" />
<line x1="389.9" y1="1017.6" x2="389.9" y2="1026.7" stroke="#111" stroke-width="1" />
<rect x="388" y="1019.7" width="3.8" height="5.5" fill="#fff" stroke="#111" stroke-width="1" />
<line x1="394.7" y1="1010.5" x2="394.7" y2="1020.7" stroke="#111" stroke-width="1" />
<rect x="392.8" y="1012" width="3.8" height="7.1" fill="#fff" stroke="#111" stroke-width="1" />
<line x1="399.5" y1="1009.1" x2="399.5" y2="1015.6" stroke="#111" stroke-width="1" />
<rect x="397.1" y="1010.5" width="4.8" height="1" fill="#111" />
<line x1="404.3" y1="1006.4" x2="404.3" y2="1013.5" stroke="#111" stroke-width="1" />
<rect x="401.9" y="1010.1" width="4.8" height="1" fill="#111" />
<line x1="409.1" y1="1003.4" x2="409.1" y2="1019.6" stroke="#d30a3a" stroke-width="1" />
<rect x="406.7" y="1007.4" width="4.8" height="11.2" fill="#d30a3a" />
<line x1="413.9" y1="1014.6" x2="413.9" y2="1020.7" stroke="#d30a3a" stroke-width="1" />
<rect x="411.5" y="1017.6" width="4.8" height="2" fill="#d30a3a" />
<line x1="418.8" y1="1017.2" x2="418.8" y2="1024.7" stroke="#d30a3a" stroke-width="1" />
<rect x="416.3" y="1018.6" width="4.8" height="4.7" fill="#d30a3a" />
<line x1="423.6" y1="1021.3" x2="423.6" y2="1029.4" stroke="#d30a3a" stroke-width="1" />
<rect x="421.2" y="1022.1" width="4.8" height="6.7" fill="#d30a3a" />
<line x1="428.4" y1="1021.7" x2="428.4" y2="1029.8" stroke="#111" stroke-width="1" />
<rect x="426.5" y="1023.2" width="3.8" height="5.1" fill="#fff" stroke="#111" stroke-width="1" />
<line x1="433.2" y1="1019.6" x2="433.2" y2="1028.8" stroke="#111" stroke-width="1" />
<rect x="430.8" y="1020.7" width="4.8" height="1.4" fill="#111" />
<line x1="438" y1="999.7" x2="438" y2="1019.6" stroke="#111" stroke-width="1" />
<rect x="436.1" y="1004.3" width="3.8" height="13.8" fill="#fff" stroke="#111" stroke-width="1" />
<line x1="442.8" y1="996.3" x2="442.8" y2="1009.5" stroke="#111" stroke-width="1" />
<rect x="440.4" y="1000.3" width="4.8" height="1.4" fill="#111" />
<line x1="447.6" y1="997.3" x2="447.6" y2="1008.5" stroke="#111" stroke-width="1" />
<rect x="445.2" y="1000.3" width="4.8" height="1" fill="#111" />
<line x1="452.4" y1="991.2" x2="452.4" y2="1005.4" stroke="#111" stroke-width="1" />
<rect x="450.5" y="995.7" width="3.8" height="5.1" fill="#fff" stroke="#111" stroke-width="1" />
<line x1="457.2" y1="989.1" x2="457.2" y2="1000.9" stroke="#d30a3a" stroke-width="1" />
<rect x="454.8" y="994.2" width="4.8" height="5.1" fill="#d30a3a" />
<line x1="462" y1="993.2" x2="462" y2="1003" stroke="#d30a3a" stroke-width="1" />
<rect x="459.6" y="997.3" width="4.8" height="3.7" fill="#d30a3a" />
<line x1="466.8" y1="997.3" x2="466.8" y2="1002.4" stroke="#111" stroke-width="1" />
<rect x="464.9" y="998.8" width="3.8" height="1.6" fill="#fff" stroke="#111" stroke-width="1" />
<line x1="471.7" y1="986.1" x2="471.7" y2="1001.3" stroke="#111" stroke-width="1" />
<rect x="469.8" y="995.7" width="3.8" height="4.1" fill="#fff" stroke="#111" stroke-width="1" />
<line x1="476.5" y1="990.2" x2="476.5" y2="999.7" stroke="#d30a3a" stroke-width="1" />
<rect x="474.1" y="995.2" width="4.8" height="2" fill="#d30a3a" />
<line x1="481.3" y1="995.2" x2="481.3" y2="1003.4" stroke="#d30a3a" stroke-width="1" />
<rect x="478.9" y="997.3" width="4.8" height="5.1" fill="#d30a3a" />
<line x1="486.1" y1="1001.3" x2="486.1" y2="1009.5" stroke="#d30a3a" stroke-width="1" />
<rect x="483.7" y="1003" width="4.8" height="5.5" fill="#d30a3a" />
<line x1="490.9" y1="999.3" x2="490.9" y2="1007" stroke="#111" stroke-width="1" />
<rect x="489" y="1003.9" width="3.8" height="1" fill="#fff" stroke="#111" stroke-width="1" />
<line x1="495.7" y1="1000.9" x2="495.7" y2="1006.4" stroke="#111" stroke-width="1" />
<rect x="493.8" y="1003.5" width="3.8" height="1" fill="#fff" stroke="#111" stroke-width="1" />
<line x1="500.5" y1="1002.4" x2="500.5" y2="1009.5" stroke="#d30a3a" stroke-width="1" />
<rect x="498.1" y="1004.4" width="4.8" height="1" fill="#d30a3a" />
<line x1="505.3" y1="1003.4" x2="505.3" y2="1013.1" stroke="#d30a3a" stroke-width="1" />
<rect x="502.9" y="1004.4" width="4.8" height="7.1" fill="#d30a3a" />
<line x1="510.1" y1="1007.4" x2="510.1" y2="1014.6" stroke="#d30a3a" stroke-width="1" />
<rect x="507.7" y="1009.9" width="4.8" height="2" fill="#d30a3a" />
<line x1="514.9" y1="1008.5" x2="514.9" y2="1015.6" stroke="#111" stroke-width="1" />
<rect x="512.5" y="1009.9" width="4.8" height="1.2" fill="#111" />
<line x1="519.8" y1="1005" x2="519.8" y2="1012.5" stroke="#111" stroke-width="1" />
<rect x="517.9" y="1006.9" width="3.8" height="3.7" fill="#fff" stroke="#111" stroke-width="1" />
<line x1="524.6" y1="1000.3" x2="524.6" y2="1007.8" stroke="#111" stroke-width="1" />
<rect x="522.2" y="1005.4" width="4.8" height="1" fill="#111" />
<line x1="529.4" y1="998.3" x2="529.4" y2="1007" stroke="#111" stroke-width="1" />
<rect x="527.5" y="999.8" width="3.8" height="5.1" fill="#fff" stroke="#111" stroke-width="1" />
<line x1="534.2" y1="997.3" x2="534.2" y2="1004.4" stroke="#d30a3a" stroke-width="1" />
<rect x="531.8" y="999.7" width="4.8" height="3.3" fill="#d30a3a" />
<line x1="539" y1="1001.7" x2="539" y2="1009.1" stroke="#d30a3a" stroke-width="1" />
<rect x="536.6" y="1003" width="4.8" height="4.5" fill="#d30a3a" />
<line x1="543.8" y1="1006.4" x2="543.8" y2="1012.5" stroke="#d30a3a" stroke-width="1" />
<rect x="541.4" y="1007.4" width="4.8" height="4.5" fill="#d30a3a" />
<line x1="548.6" y1="1007.8" x2="548.6" y2="1013.9" stroke="#111" stroke-width="1" />
<rect x="546.7" y="1009.6" width="3.8" height="2.5" fill="#fff" stroke="#111" stroke-width="1" />
<line x1="553.4" y1="1002.4" x2="553.4" y2="1009.1" stroke="#111" stroke-width="1" />
<rect x="551.5" y="1005.5" width="3.8" height="1.8" fill="#fff" stroke="#111" stroke-width="1" />
<line x1="558.2" y1="1003.4" x2="558.2" y2="1009.1" stroke="#d30a3a" stroke-width="1" />
<rect x="555.8" y="1005" width="4.8" height="2.8" fill="#d30a3a" />
<line x1="563" y1="1005.4" x2="563" y2="1011.5" stroke="#111" stroke-width="1" />
<rect x="560.6" y="1007" width="4.8" height="1" fill="#111" />
<line x1="567.9" y1="1004.4" x2="567.9" y2="1010.5" stroke="#d30a3a" stroke-width="1" />
<rect x="565.5" y="1007" width="4.8" height="1" fill="#d30a3a" />
<line x1="572.7" y1="1007.4" x2="572.7" y2="1021.7" stroke="#d30a3a" stroke-width="1" />
<rect x="570.3" y="1008.5" width="4.8" height="12.2" fill="#d30a3a" />
<line x1="577.5" y1="1019.6" x2="577.5" y2="1027.8" stroke="#d30a3a" stroke-width="1" />
<rect x="575.1" y="1020.7" width="4.8" height="3.5" fill="#d30a3a" />
<line x1="582.3" y1="1007.8" x2="582.3" y2="1022.7" stroke="#111" stroke-width="1" />
<rect x="580.4" y="1010" width="3.8" height="11.2" fill="#fff" stroke="#111" stroke-width="1" />
<line x1="587.1" y1="997.3" x2="587.1" y2="1010.5" stroke="#111" stroke-width="1" />
<rect x="585.2" y="999.8" width="3.8" height="8.8" fill="#fff" stroke="#111" stroke-width="1" />
<line x1="591.9" y1="996.3" x2="591.9" y2="1003" stroke="#111" stroke-width="1" />
<rect x="590" y="999.4" width="3.8" height="1" fill="#fff" stroke="#111" stroke-width="1" />
<line x1="596.7" y1="996.3" x2="596.7" y2="1001.3" stroke="#111" stroke-width="1" />
<rect x="594.3" y="997.9" width="4.8" height="1.4" fill="#111" />
<line x1="601.5" y1="998.3" x2="601.5" y2="1009.5" stroke="#d30a3a" stroke-width="1" />
<rect x="599.1" y="999.3" width="4.8" height="9.1" fill="#d30a3a" />
<line x1="606.3" y1="1001.7" x2="606.3" y2="1008.5" stroke="#111" stroke-width="1" />
<rect x="604.4" y="1003.9" width="3.8" height="2.7" fill="#fff" stroke="#111" stroke-width="1" />
<line x1="611.1" y1="997.3" x2="611.1" y2="1004.4" stroke="#111" stroke-width="1" />
<rect x="609.2" y="1000.2" width="3.8" height="2.3" fill="#fff" stroke="#111" stroke-width="1" />
<line x1="616" y1="984.1" x2="616" y2="1000.9" stroke="#111" stroke-width="1" />
<rect x="614.1" y="985.6" width="3.8" height="13.6" fill="#fff" stroke="#111" stroke-width="1" />
<line x1="620.8" y1="974.9" x2="620.8" y2="998.3" stroke="#d30a3a" stroke-width="1" />
<rect x="618.4" y="984.1" width="4.8" height="13.2" fill="#d30a3a" />
<line x1="625.6" y1="989.1" x2="625.6" y2="1000.9" stroke="#111" stroke-width="1" />
<rect x="623.7" y="994.7" width="3.8" height="2" fill="#fff" stroke="#111" stroke-width="1" />
<line x1="630.4" y1="986.1" x2="630.4" y2="996.3" stroke="#111" stroke-width="1" />
<rect x="628.5" y="988.6" width="3.8" height="6.1" fill="#fff" stroke="#111" stroke-width="1" />
<line x1="635.2" y1="984.1" x2="635.2" y2="990.2" stroke="#111" stroke-width="1" />
<rect x="632.8" y="987.5" width="4.8" height="1" fill="#111" />
<line x1="640" y1="985.1" x2="640" y2="993.2" stroke="#d30a3a" stroke-width="1" />
<rect x="637.6" y="987.5" width="4.8" height="4.1" fill="#d30a3a" />
<line x1="644.8" y1="989.1" x2="644.8" y2="997.3" stroke="#111" stroke-width="1" />
<rect x="642.4" y="992.8" width="4.8" height="1" fill="#111" />
<line x1="649.6" y1="989.1" x2="649.6" y2="998.3" stroke="#d30a3a" stroke-width="1" />
<rect x="647.2" y="990.8" width="4.8" height="4.1" fill="#d30a3a" />
<line x1="654.4" y1="992.8" x2="654.4" y2="998.3" stroke="#d30a3a" stroke-width="1" />
<rect x="652" y="994.2" width="4.8" height="2" fill="#d30a3a" />
<line x1="659.2" y1="986.1" x2="659.2" y2="996.9" stroke="#111" stroke-width="1" />
<rect x="657.4" y="992.1" width="3.8" height="3.1" fill="#fff" stroke="#111" stroke-width="1" />
<line x1="664.1" y1="989.1" x2="664.1" y2="995.2" stroke="#d30a3a" stroke-width="1" />
<rect x="661.7" y="990.2" width="4.8" height="4.1" fill="#d30a3a" />
<line x1="668.9" y1="992.2" x2="668.9" y2="1000.3" stroke="#d30a3a" stroke-width="1" />
<rect x="666.5" y="993.2" width="4.8" height="2" fill="#d30a3a" />
<line x1="673.7" y1="990.8" x2="673.7" y2="996.3" stroke="#111" stroke-width="1" />
<rect x="671.8" y="992.1" width="3.8" height="2.7" fill="#fff" stroke="#111" stroke-width="1" />
<line x1="678.5" y1="983" x2="678.5" y2="993.2" stroke="#111" stroke-width="1" />
<rect x="676.6" y="984.6" width="3.8" height="6.5" fill="#fff" stroke="#111" stroke-width="1" />
<line x1="683.3" y1="966.8" x2="683.3" y2="986.1" stroke="#111" stroke-width="1" />
<rect x="681.4" y="970.3" width="3.8" height="14.2" fill="#fff" stroke="#111" stroke-width="1" />
<line x1="688.1" y1="968.8" x2="688.1" y2="974.9" stroke="#d30a3a" stroke-width="1" />
<rect x="685.7" y="969.8" width="4.8" height="3.5" fill="#d30a3a" />
<line x1="692.9" y1="963.7" x2="692.9" y2="975.3" stroke="#d30a3a" stroke-width="1" />
<rect x="690.5" y="970.9" width="4.8" height="1.2" fill="#d30a3a" />
<line x1="697.7" y1="959.7" x2="697.7" y2="973.9" stroke="#111" stroke-width="1" />
<rect x="695.8" y="961.2" width="3.8" height="11.2" fill="#fff" stroke="#111" stroke-width="1" />
<line x1="702.5" y1="942.8" x2="702.5" y2="960.3" stroke="#111" stroke-width="1" />
<rect x="700.6" y="944.5" width="3.8" height="14" fill="#fff" stroke="#111" stroke-width="1" />
<line x1="707.4" y1="928.2" x2="707.4" y2="949.5" stroke="#111" stroke-width="1" />
<rect x="705.5" y="942.9" width="3.8" height="2.7" fill="#fff" stroke="#111" stroke-width="1" />
<line x1="712.2" y1="931.2" x2="712.2" y2="945.4" stroke="#111" stroke-width="1" />
<rect x="710.3" y="934.4" width="3.8" height="6.5" fill="#fff" stroke="#111" stroke-width="1" />
<line x1="717" y1="934.7" x2="717" y2="951.5" stroke="#d30a3a" stroke-width="1" />
<rect x="714.6" y="935.9" width="4.8" height="8.5" fill="#d30a3a" />
<line x1="721.8" y1="942.4" x2="721.8" y2="954.6" stroke="#d30a3a" stroke-width="1" />
<rect x="719.4" y="944" width="4.8" height="7.5" fill="#d30a3a" />
<line x1="726.6" y1="938.3" x2="726.6" y2="951.5" stroke="#111" stroke-width="1" />
<rect x="724.7" y="940.9" width="3.8" height="8.8" fill="#fff" stroke="#111" stroke-width="1" />
<line x1="731.4" y1="931.8" x2="731.4" y2="946.5" stroke="#111" stroke-width="1" />
<rect x="729.5" y="933.1" width="3.8" height="7.7" fill="#fff" stroke="#111" stroke-width="1" />
<line x1="736.2" y1="927.2" x2="736.2" y2="948.1" stroke="#d30a3a" stroke-width="1" />
<rect x="733.8" y="931.8" width="4.8" height="15" fill="#d30a3a" />
<line x1="741" y1="937.3" x2="741" y2="947.5" stroke="#111" stroke-width="1" />
<rect x="738.6" y="944.4" width="4.8" height="1.2" fill="#111" />
<line x1="745.8" y1="934.7" x2="745.8" y2="951.5" stroke="#d30a3a" stroke-width="1" />
<rect x="743.4" y="944.4" width="4.8" height="3" fill="#d30a3a" />
<line x1="750.6" y1="943.4" x2="750.6" y2="951.5" stroke="#111" stroke-width="1" />
<rect x="748.7" y="945.9" width="3.8" height="3.1" fill="#fff" stroke="#111" stroke-width="1" />
<line x1="755.4" y1="938.7" x2="755.4" y2="948.9" stroke="#d30a3a" stroke-width="1" />
<rect x="753" y="944" width="4.8" height="3.5" fill="#d30a3a" />
<line x1="760.3" y1="944.4" x2="760.3" y2="952.2" stroke="#111" stroke-width="1" />
<rect x="757.9" y="945.4" width="4.8" height="1" fill="#111" />
<line x1="765.1" y1="935.3" x2="765.1" y2="946.5" stroke="#111" stroke-width="1" />
<rect x="763.2" y="936.8" width="3.8" height="8.1" fill="#fff" stroke="#111" stroke-width="1" />
<line x1="769.9" y1="931.2" x2="769.9" y2="940.4" stroke="#111" stroke-width="1" />
<rect x="768" y="933.8" width="3.8" height="2" fill="#fff" stroke="#111" stroke-width="1" />
<line x1="774.7" y1="922.1" x2="774.7" y2="937.9" stroke="#d30a3a" stroke-width="1" />
<rect x="772.3" y="932.2" width="4.8" height="4.1" fill="#d30a3a" />
<line x1="779.5" y1="931.2" x2="779.5" y2="944.4" stroke="#d30a3a" stroke-width="1" />
<rect x="777.1" y="935.9" width="4.8" height="4.1" fill="#d30a3a" />
<line x1="784.3" y1="918" x2="784.3" y2="934.3" stroke="#111" stroke-width="1" />
<rect x="782.4" y="925.6" width="3.8" height="4.1" fill="#fff" stroke="#111" stroke-width="1" />
<line x1="789.1" y1="920" x2="789.1" y2="934.3" stroke="#111" stroke-width="1" />
<rect x="786.7" y="921.1" width="4.8" height="3" fill="#111" />
<line x1="793.9" y1="913.5" x2="793.9" y2="926.1" stroke="#111" stroke-width="1" />
<rect x="792" y="914.8" width="3.8" height="9.8" fill="#fff" stroke="#111" stroke-width="1" />
<line x1="798.7" y1="908.9" x2="798.7" y2="918" stroke="#111" stroke-width="1" />
<rect x="796.3" y="912.3" width="4.8" height="1" fill="#111" />
<line x1="803.5" y1="909.9" x2="803.5" y2="917" stroke="#d30a3a" stroke-width="1" />
<rect x="801.1" y="912.3" width="4.8" height="3.7" fill="#d30a3a" />
<line x1="808.4" y1="912.9" x2="808.4" y2="920" stroke="#d30a3a" stroke-width="1" />
<rect x="806" y="913.9" width="4.8" height="2" fill="#d30a3a" />
<line x1="813.2" y1="901.7" x2="813.2" y2="917" stroke="#111" stroke-width="1" />
<rect x="811.3" y="903.3" width="3.8" height="12.2" fill="#fff" stroke="#111" stroke-width="1" />
<line x1="818" y1="895.7" x2="818" y2="908.9" stroke="#111" stroke-width="1" />
<rect x="816.1" y="897.2" width="3.8" height="6.1" fill="#fff" stroke="#111" stroke-width="1" />
<line x1="822.8" y1="886.5" x2="822.8" y2="898.7" stroke="#111" stroke-width="1" />
<rect x="820.9" y="893.7" width="3.8" height="3.5" fill="#fff" stroke="#111" stroke-width="1" />
<line x1="827.6" y1="890" x2="827.6" y2="897.7" stroke="#d30a3a" stroke-width="1" />
<rect x="825.2" y="891.2" width="4.8" height="2.8" fill="#d30a3a" />
<line x1="832.4" y1="891.6" x2="832.4" y2="902.8" stroke="#111" stroke-width="1" />
<rect x="830" y="892.2" width="4.8" height="1" fill="#111" />
<line x1="837.2" y1="882.4" x2="837.2" y2="894.6" stroke="#111" stroke-width="1" />
<rect x="835.3" y="884" width="3.8" height="9.2" fill="#fff" stroke="#111" stroke-width="1" />
<line x1="842" y1="877.4" x2="842" y2="884.5" stroke="#111" stroke-width="1" />
<rect x="840.1" y="880.3" width="3.8" height="1.6" fill="#fff" stroke="#111" stroke-width="1" />
<line x1="846.8" y1="872.3" x2="846.8" y2="883.5" stroke="#d30a3a" stroke-width="1" />
<rect x="844.4" y="880.4" width="4.8" height="1" fill="#d30a3a" /></g>
<g clip-path="url(#auAll)"><path d="M101.2,1013.3 l3.5,4.4 l3.5,-4.4" fill="#f7f7f7" stroke="#cfcfcf" stroke-width="0.8"/><rect x="87.5" y="1004.8" width="34.5" height="8.5" fill="#f7f7f7" stroke="#cfcfcf" stroke-width="0.8" /><text x="104.7" y="1012.2" font-size="8.2" fill="#000" font-family="'DejaVu Sans','Liberation Sans',sans-serif" text-anchor="middle" textLength="31.1" lengthAdjust="spacingAndGlyphs" stroke="none">1879.50</text><path d="M120.5,1043.4 l3.5,-4.4 l3.5,4.4" fill="#f7f7f7" stroke="#cfcfcf" stroke-width="0.8"/><rect x="106.8" y="1043.4" width="34.5" height="8.5" fill="#f7f7f7" stroke="#cfcfcf" stroke-width="0.8" /><text x="124" y="1050.8" font-size="8.2" fill="#000" font-family="'DejaVu Sans','Liberation Sans',sans-serif" text-anchor="middle" textLength="31.1" lengthAdjust="spacingAndGlyphs" stroke="none">1753.00</text><path d="M177.6,981.8 l3.5,4.4 l3.5,-4.4" fill="#f7f7f7" stroke="#cfcfcf" stroke-width="0.8"/><rect x="163.9" y="973.3" width="34.5" height="8.5" fill="#f7f7f7" stroke="#cfcfcf" stroke-width="0.8" /><text x="181.1" y="980.7" font-size="8.2" fill="#000" font-family="'DejaVu Sans','Liberation Sans',sans-serif" text-anchor="middle" textLength="31.1" lengthAdjust="spacingAndGlyphs" stroke="none">2078.80</text><path d="M206.5,994 l3.5,4.4 l3.5,-4.4" fill="#f7f7f7" stroke="#cfcfcf" stroke-width="0.8"/><rect x="192.8" y="985.5" width="34.5" height="8.5" fill="#f7f7f7" stroke="#cfcfcf" stroke-width="0.8" /><text x="210" y="992.9" font-size="8.2" fill="#000" font-family="'DejaVu Sans','Liberation Sans',sans-serif" text-anchor="middle" textLength="31.1" lengthAdjust="spacingAndGlyphs" stroke="none">2003.00</text><path d="M192.7,1021.5 l3.5,-4.4 l3.5,4.4" fill="#f7f7f7" stroke="#cfcfcf" stroke-width="0.8"/><rect x="178.9" y="1021.5" width="34.5" height="8.5" fill="#f7f7f7" stroke="#cfcfcf" stroke-width="0.8" /><text x="196.2" y="1028.9" font-size="8.2" fill="#000" font-family="'DejaVu Sans','Liberation Sans',sans-serif" text-anchor="middle" textLength="31.1" lengthAdjust="spacingAndGlyphs" stroke="none">1893.20</text><path d="M245.7,1012.7 l3.5,4.4 l3.5,-4.4" fill="#f7f7f7" stroke="#cfcfcf" stroke-width="0.8"/><rect x="232" y="1004.2" width="34.5" height="8.5" fill="#f7f7f7" stroke="#cfcfcf" stroke-width="0.8" /><text x="249.2" y="1011.6" font-size="8.2" fill="#000" font-family="'DejaVu Sans','Liberation Sans',sans-serif" text-anchor="middle" textLength="31.1" lengthAdjust="spacingAndGlyphs" stroke="none">1882.50</text><path d="M226.2,1039.8 l3.5,-4.4 l3.5,4.4" fill="#f7f7f7" stroke="#cfcfcf" stroke-width="0.8"/><rect x="212.5" y="1039.8" width="34.5" height="8.5" fill="#f7f7f7" stroke="#cfcfcf" stroke-width="0.8" /><text x="229.7" y="1047.2" font-size="8.2" fill="#000" font-family="'DejaVu Sans','Liberation Sans',sans-serif" text-anchor="middle" textLength="31.1" lengthAdjust="spacingAndGlyphs" stroke="none">1785.00</text><path d="M269.5,1056 l3.5,-4.4 l3.5,4.4" fill="#f7f7f7" stroke="#cfcfcf" stroke-width="0.8"/><rect x="255.8" y="1056" width="34.5" height="8.5" fill="#f7f7f7" stroke="#cfcfcf" stroke-width="0.8" /><text x="273" y="1063.4" font-size="8.2" fill="#000" font-family="'DejaVu Sans','Liberation Sans',sans-serif" text-anchor="middle" textLength="31.1" lengthAdjust="spacingAndGlyphs" stroke="none">1678.40</text><path d="M285.7,1022.3 l3.5,4.4 l3.5,-4.4" fill="#f7f7f7" stroke="#cfcfcf" stroke-width="0.8"/><rect x="272" y="1013.8" width="34.5" height="8.5" fill="#f7f7f7" stroke="#cfcfcf" stroke-width="0.8" /><text x="289.2" y="1021.2" font-size="8.2" fill="#000" font-family="'DejaVu Sans','Liberation Sans',sans-serif" text-anchor="middle" textLength="31.1" lengthAdjust="spacingAndGlyphs" stroke="none">1824.60</text><path d="M322.3,1035.3 l3.5,4.4 l3.5,-4.4" fill="#f7f7f7" stroke="#cfcfcf" stroke-width="0.8"/><rect x="308.6" y="1026.8" width="34.5" height="8.5" fill="#f7f7f7" stroke="#cfcfcf" stroke-width="0.8" /><text x="325.8" y="1034.2" font-size="8.2" fill="#000" font-family="'DejaVu Sans','Liberation Sans',sans-serif" text-anchor="middle" textLength="31.1" lengthAdjust="spacingAndGlyphs" stroke="none">1738.70</text><path d="M342,1064.6 l3.5,-4.4 l3.5,4.4" fill="#f7f7f7" stroke="#cfcfcf" stroke-width="0.8"/><rect x="328.3" y="1064.6" width="34.5" height="8.5" fill="#f7f7f7" stroke="#cfcfcf" stroke-width="0.8" /><text x="345.5" y="1072" font-size="8.2" fill="#000" font-family="'DejaVu Sans','Liberation Sans',sans-serif" text-anchor="middle" textLength="31.1" lengthAdjust="spacingAndGlyphs" stroke="none">1618.30</text><path d="M404.6,998.7 l3.5,4.4 l3.5,-4.4" fill="#f7f7f7" stroke="#cfcfcf" stroke-width="0.8"/><rect x="390.9" y="990.2" width="34.5" height="8.5" fill="#f7f7f7" stroke="#cfcfcf" stroke-width="0.8" /><text x="408.1" y="997.6" font-size="8.2" fill="#000" font-family="'DejaVu Sans','Liberation Sans',sans-serif" text-anchor="middle" textLength="31.1" lengthAdjust="spacingAndGlyphs" stroke="none">1975.20</text><path d="M423.9,1034.9 l3.5,-4.4 l3.5,4.4" fill="#f7f7f7" stroke="#cfcfcf" stroke-width="0.8"/><rect x="410.2" y="1034.9" width="34.5" height="8.5" fill="#f7f7f7" stroke="#cfcfcf" stroke-width="0.8" /><text x="427.4" y="1042.3" font-size="8.2" fill="#000" font-family="'DejaVu Sans','Liberation Sans',sans-serif" text-anchor="middle" textLength="31.1" lengthAdjust="spacingAndGlyphs" stroke="none">1810.80</text><path d="M466.6,980.8 l3.5,4.4 l3.5,-4.4" fill="#f7f7f7" stroke="#cfcfcf" stroke-width="0.8"/><rect x="452.8" y="972.3" width="34.5" height="8.5" fill="#f7f7f7" stroke="#cfcfcf" stroke-width="0.8" /><text x="470.1" y="979.7" font-size="8.2" fill="#000" font-family="'DejaVu Sans','Liberation Sans',sans-serif" text-anchor="middle" textLength="31.1" lengthAdjust="spacingAndGlyphs" stroke="none">2085.40</text><path d="M529.2,992.4 l3.5,4.4 l3.5,-4.4" fill="#f7f7f7" stroke="#cfcfcf" stroke-width="0.8"/><rect x="515.4" y="983.9" width="34.5" height="8.5" fill="#f7f7f7" stroke="#cfcfcf" stroke-width="0.8" /><text x="532.7" y="991.3" font-size="8.2" fill="#000" font-family="'DejaVu Sans','Liberation Sans',sans-serif" text-anchor="middle" textLength="31.1" lengthAdjust="spacingAndGlyphs" stroke="none">2010.90</text><path d="M505.2,1020.5 l3.5,-4.4 l3.5,4.4" fill="#f7f7f7" stroke="#cfcfcf" stroke-width="0.8"/><rect x="491.4" y="1020.5" width="34.5" height="8.5" fill="#f7f7f7" stroke="#cfcfcf" stroke-width="0.8" /><text x="508.7" y="1027.9" font-size="8.2" fill="#000" font-family="'DejaVu Sans','Liberation Sans',sans-serif" text-anchor="middle" textLength="31.1" lengthAdjust="spacingAndGlyphs" stroke="none">1900.60</text><path d="M615.6,970.2 l3.5,4.4 l3.5,-4.4" fill="#f7f7f7" stroke="#cfcfcf" stroke-width="0.8"/><rect x="601.8" y="961.7" width="34.5" height="8.5" fill="#f7f7f7" stroke="#cfcfcf" stroke-width="0.8" /><text x="619.1" y="969.1" font-size="8.2" fill="#000" font-family="'DejaVu Sans','Liberation Sans',sans-serif" text-anchor="middle" textLength="31.1" lengthAdjust="spacingAndGlyphs" stroke="none">2152.30</text><path d="M621.1,1006.8 l3.5,-4.4 l3.5,4.4" fill="#f7f7f7" stroke="#cfcfcf" stroke-width="0.8"/><rect x="607.3" y="1006.8" width="34.5" height="8.5" fill="#f7f7f7" stroke="#cfcfcf" stroke-width="0.8" /><text x="624.6" y="1014.2" font-size="8.2" fill="#000" font-family="'DejaVu Sans','Liberation Sans',sans-serif" text-anchor="middle" textLength="31.1" lengthAdjust="spacingAndGlyphs" stroke="none">1987.90</text><path d="M572.7,1033.3 l3.5,-4.4 l3.5,4.4" fill="#f7f7f7" stroke="#cfcfcf" stroke-width="0.8"/><rect x="558.9" y="1033.3" width="34.5" height="8.5" fill="#f7f7f7" stroke="#cfcfcf" stroke-width="0.8" /><text x="576.2" y="1040.7" font-size="8.2" fill="#000" font-family="'DejaVu Sans','Liberation Sans',sans-serif" text-anchor="middle" textLength="31.1" lengthAdjust="spacingAndGlyphs" stroke="none">1823.50</text><path d="M730.8,922.3 l3.5,4.4 l3.5,-4.4" fill="#f7f7f7" stroke="#cfcfcf" stroke-width="0.8"/><rect x="717" y="913.8" width="34.5" height="8.5" fill="#f7f7f7" stroke="#cfcfcf" stroke-width="0.8" /><text x="734.3" y="921.2" font-size="8.2" fill="#000" font-family="'DejaVu Sans','Liberation Sans',sans-serif" text-anchor="middle" textLength="31.1" lengthAdjust="spacingAndGlyphs" stroke="none">2454.20</text><path d="M769.4,917.2 l3.5,4.4 l3.5,-4.4" fill="#f7f7f7" stroke="#cfcfcf" stroke-width="0.8"/><rect x="755.6" y="908.7" width="34.5" height="8.5" fill="#f7f7f7" stroke="#cfcfcf" stroke-width="0.8" /><text x="772.9" y="916.1" font-size="8.2" fill="#000" font-family="'DejaVu Sans','Liberation Sans',sans-serif" text-anchor="middle" textLength="31.1" lengthAdjust="spacingAndGlyphs" stroke="none">2488.40</text><path d="M716.5,959.9 l3.5,-4.4 l3.5,4.4" fill="#f7f7f7" stroke="#cfcfcf" stroke-width="0.8"/><rect x="702.8" y="959.9" width="34.5" height="8.5" fill="#f7f7f7" stroke="#cfcfcf" stroke-width="0.8" /><text x="720" y="967.3" font-size="8.2" fill="#000" font-family="'DejaVu Sans','Liberation Sans',sans-serif" text-anchor="middle" textLength="31.1" lengthAdjust="spacingAndGlyphs" stroke="none">2285.20</text><path d="M774.1,949.3 l3.5,-4.4 l3.5,4.4" fill="#f7f7f7" stroke="#cfcfcf" stroke-width="0.8"/><rect x="760.3" y="949.3" width="34.5" height="8.5" fill="#f7f7f7" stroke="#cfcfcf" stroke-width="0.8" /><text x="777.6" y="956.7" font-size="8.2" fill="#000" font-family="'DejaVu Sans','Liberation Sans',sans-serif" text-anchor="middle" textLength="31.1" lengthAdjust="spacingAndGlyphs" stroke="none">2351.90</text></g>
<rect x="97.6" y="856.6" width="151" height="10.4" fill="#fff" />
<rect x="97.6" y="867" width="85" height="28.5" fill="#fff" />
<path d="M98.8,865 V859.2 L100.7,861.8 L102.2,859.2 V865 M104,865 V859.6 H106.2 V865 Z" fill="#333" stroke="#111" stroke-width="1"/>
<text x="111.5" y="865.3" font-size="8.8" fill="#111" font-family="'DejaVu Sans','Liberation Sans',sans-serif" textLength="136" lengthAdjust="spacingAndGlyphs" stroke="#111" stroke-width="0.22">$GOLD (Weekly) 2749.20</text>
<line x1="98.6" y1="871.3" x2="106.5" y2="871.3" stroke="#2a2aa8" stroke-width="1.6" />
<text x="108.8" y="874.3" font-size="8.6" fill="#2a2aa8" font-family="'Liberation Sans',sans-serif" textLength="67" lengthAdjust="spacingAndGlyphs" stroke="#2a2aa8" stroke-width="0.22">EMA(9) 2671.99</text>
<line x1="98.6" y1="881" x2="106.5" y2="881" stroke="#d8163e" stroke-width="1.6" />
<text x="108.8" y="884" font-size="8.6" fill="#d8163e" font-family="'Liberation Sans',sans-serif" textLength="72" lengthAdjust="spacingAndGlyphs" stroke="#d8163e" stroke-width="0.22">EMA(17) 2593.46</text>
<line x1="98.6" y1="890.9" x2="106.5" y2="890.9" stroke="#2a7a2a" stroke-width="1.6" />
<text x="108.8" y="893.9" font-size="8.6" fill="#2a7a2a" font-family="'Liberation Sans',sans-serif" textLength="72" lengthAdjust="spacingAndGlyphs" stroke="#2a7a2a" stroke-width="0.22">EMA(43) 2411.59</text>
<circle cx="845.2" cy="877.3" r="14" fill="none" stroke="#5a5aff" stroke-width="1.3"/>
<path d="M853.8,933 L857.8,928.8 L895.2,928.8 L895.2,937.2 L857.8,937.2 Z" fill="#fff" stroke="#3d8f3d" stroke-width="1.0"/><text x="858.8" y="936.1" font-size="9.2" fill="#111" font-family="'Liberation Sans',sans-serif" textLength="34.9" lengthAdjust="spacingAndGlyphs" stroke="#111" stroke-width="0.22">2411.59</text>
<path d="M853.8,905.1 L857.8,900.8 L895.2,900.8 L895.2,909.5 L857.8,909.5 Z" fill="#fff" stroke="#e0506e" stroke-width="1.0"/><text x="858.8" y="908.3" font-size="9.2" fill="#111" font-family="'Liberation Sans',sans-serif" textLength="34.9" lengthAdjust="spacingAndGlyphs" stroke="#111" stroke-width="0.22">2593.46</text>
<path d="M853.8,893.1 L857.8,888.9 L895.2,888.9 L895.2,897.3 L857.8,897.3 Z" fill="#fff" stroke="#3b3bab" stroke-width="1.0"/><text x="858.8" y="896.2" font-size="9.2" fill="#111" font-family="'Liberation Sans',sans-serif" textLength="34.9" lengthAdjust="spacingAndGlyphs" stroke="#111" stroke-width="0.22">2671.99</text>
<path d="M853.8,880.8 L857.8,876.3 L895.2,876.3 L895.2,885.2 L857.8,885.2 Z" fill="#fff" stroke="#111" stroke-width="1.0"/><text x="858.8" y="883.9" font-size="9.4" fill="#111" font-family="'Liberation Sans',sans-serif" font-weight="bold" textLength="34.9" lengthAdjust="spacingAndGlyphs" stroke="#111" stroke-width="0.22">2749.20</text>
<g clip-path="url(#auA)"><polyline points="96.6,1146.1 101.3,1141 106.3,1140.6 111.4,1143.4 118.5,1146.1 125.7,1144.6 130.7,1144.6 134.8,1142.6 139.9,1144.6 145,1145.4 151.1,1143.4 155.1,1146.7 160.2,1147.1 165.3,1138.9 170.4,1131.8 173.4,1126.7 178.5,1129.8 183.2,1120.2 188.7,1124.3 195.8,1130.8 200.9,1133.3 207,1129.8 211,1130.4 217.1,1133.9 225.2,1138.9 231.3,1142 237.4,1140 243.5,1141 251.7,1143.4 259.8,1145.4 267.9,1148.7 274,1151.5 281.1,1145.4 287.2,1142.6 295.3,1145.4 305.5,1148.1 315.7,1151.1 322.8,1152.8 327.8,1146.1 336,1148.7 346.1,1151.1 352.2,1137.9 360.4,1138.5 365.4,1133.9 374.6,1134.5 383.7,1136.5 389.8,1128.8 397,1126.3 403,1127.2 411.2,1132.8 421.3,1136.9 432.5,1139.6 437.6,1124.3 441.7,1125.1 447.8,1128.8 453.9,1126.3 460,1127.8 466.1,1130.8 472.1,1125.7 477.2,1128.8 485.3,1133.9 491.4,1134.5 501.6,1137.3 514.8,1143.4 521.9,1138.9 532.1,1138.9 540.2,1141 548.3,1143 553.4,1138.9 560.5,1141.4 568.7,1140.6 576.8,1145.4 580.9,1133.9 587,1126.7 595.1,1129.2 603.2,1133.9 609.3,1135.9 615.4,1124.3 620.5,1123.7 626.6,1127.2 635.7,1126.7 645.9,1131.8 654,1135.3 660.1,1130.8 665.2,1133.3 669.2,1135.3 674.3,1134.9 678.4,1130.4 683.5,1118.6 688.5,1120.7 692.6,1119.6 697.7,1121.7 702.8,1112.1 707.4,1106 713.9,1114.6 721.1,1121.7 730.2,1121.1 738.3,1126.3 746.5,1130.8 750.5,1131.8 754.6,1130.4 759.7,1132.4 765.8,1128.8 771.9,1127.8 774.9,1123.7 779,1126.7 784.1,1122.3 789.1,1126.3 794.2,1123.7 799.3,1123.7 807.4,1127.2 813.5,1124.7 818.6,1123.7 823.7,1119 827.8,1120.7 832.8,1124.3 837.9,1119.6 842,1118.6 847.1,1117.6" fill="none" stroke="#3f9066" stroke-width="1.35" stroke-linejoin="round" stroke-linecap="round" />
<polyline points="96.6,1139.3 105.3,1143.4 111.4,1133.9 115.5,1133.3 121.6,1134.9 129.7,1138.5 137.8,1141 146,1143.4 150,1144.6 154.1,1142.6 159.2,1144.6 165.3,1149.1 174.4,1152.2 182.6,1155.6 187.6,1147.1 194.8,1148.1 202.9,1149.1 212,1151.1 217.1,1145 221.2,1143.4 226.3,1136.9 235.4,1137.9 245.6,1141 253.7,1142 259.8,1137.9 265.9,1131.8 271,1129.4 276.1,1130.8 283.1,1133.9 289.2,1135.9 295.3,1133.3 303.5,1128.8 307.5,1130.4 313.6,1127.8 321.7,1127.2 328.9,1129.8 336,1128.8 346.1,1130.8 354.3,1135.9 360.4,1134.5 366.5,1137.9 376.6,1142 386.8,1145.4 394.9,1147.5 403,1149.5 409.1,1146.1 415.2,1144.6 420.3,1140 425.4,1141 433.5,1145.4 441.7,1149.5 449.8,1152.2 457.9,1154.8 462,1152.8 468.1,1154.8 475.2,1156.2 480.2,1150.1 485.3,1147.5 495.5,1150.1 509.7,1145 521.9,1148.1 535.1,1152.2 544.3,1146.7 550.4,1147.5 557.5,1150.1 564.6,1147.1 567.6,1148.1 571.7,1136.5 576.8,1131.8 581.9,1136.5 589,1140.6 595.1,1143.4 601.2,1137.9 609.3,1141 615.4,1145 621.5,1149.1 627.6,1147.5 633.7,1149.5 639.8,1146.1 647.9,1144.6 654,1146.1 663.1,1148.1 669.2,1144 675.3,1146.1 683.5,1150.1 691.6,1152.8 701.7,1156.2 711.9,1158.9 716,1155.6 724.1,1154.8 732.2,1156.8 740.4,1158.9 746.5,1156.8 752.6,1157.6 760.7,1156.4 766.8,1157.6 773.9,1159.3 779,1154.8 785.1,1156.2 793.2,1157.2 801.3,1158.5 807.4,1156.8 815.6,1158.3 823.7,1159.3 831.8,1156.2 840,1157.6 847.1,1159.3" fill="none" stroke="#ad4676" stroke-width="1.35" stroke-linejoin="round" stroke-linecap="round" />
<path d="M96.6,1145.4C98,1145.8 102.2,1147.2 105.3,1147.5C108.5,1147.8 112.1,1146.9 115.5,1147.1C118.9,1147.3 122.3,1148.2 125.7,1148.7C129,1149.2 132.4,1149.6 135.8,1150.1C139.2,1150.6 142.6,1151 146,1151.5C149.4,1152.1 152.8,1152.9 156.1,1153.2C159.5,1153.4 163.3,1153.8 166.3,1153.2C169.3,1152.5 171.7,1150.5 174.4,1149.1C177.1,1147.7 179.9,1145.8 182.6,1144.6C185.3,1143.4 187.3,1142.8 190.7,1142C194.1,1141.2 199.5,1140.6 202.9,1140C206.3,1139.3 208.3,1138.1 211,1137.9C213.7,1137.8 216.4,1138.3 219.1,1138.9C221.9,1139.6 224.2,1140.9 227.3,1142C230.3,1143.1 234.1,1144.3 237.4,1145.4C240.8,1146.6 244.2,1147.9 247.6,1148.7C251,1149.5 254.7,1150.3 257.8,1150.1C260.8,1149.9 263.2,1148.3 265.9,1147.5C268.6,1146.6 270.8,1145.4 274,1145C277.2,1144.7 281.6,1145.2 285.2,1145.4C288.7,1145.7 291.9,1146.7 295.3,1146.7C298.7,1146.6 302.1,1145.9 305.5,1145C308.9,1144.2 312.6,1142.4 315.7,1141.4C318.7,1140.4 320.4,1139.7 323.8,1138.9C327.2,1138.2 332.2,1137.4 336,1136.9C339.7,1136.4 342.8,1135.6 346.1,1135.9C349.5,1136.2 352.9,1137.8 356.3,1138.9C359.7,1140.1 363.1,1141.6 366.5,1142.6C369.9,1143.6 373.2,1144.5 376.6,1145C380,1145.6 384.1,1146 386.8,1146.1C389.5,1146.1 390.5,1146.1 392.9,1145.4C395.3,1144.8 398.3,1142.7 401,1142C403.7,1141.2 406.4,1141 409.1,1141C411.9,1141 414.6,1141.3 417.3,1142C420,1142.7 422.7,1144.1 425.4,1145C428.1,1146 430.8,1147.6 433.5,1147.5C436.2,1147.3 439,1145.3 441.7,1144C444.4,1142.8 447.1,1141.3 449.8,1140C452.5,1138.6 454.9,1137.2 457.9,1135.9C461,1134.5 465.9,1132.7 468.1,1131.8C470.3,1130.9 469.6,1131 471.1,1130.4C472.6,1129.8 474.8,1128.6 477.2,1128.4C479.6,1128.2 482.3,1128.8 485.3,1129.2C488.4,1129.6 492.1,1130.1 495.5,1130.8C498.9,1131.5 502.3,1132.2 505.7,1133.3C509,1134.3 512.4,1136.1 515.8,1136.9C519.2,1137.7 522.6,1137.8 526,1137.9C529.4,1138.1 532.8,1137.6 536.1,1137.9C539.5,1138.3 542.9,1139.5 546.3,1140C549.7,1140.4 553.1,1140.1 556.5,1140.6C559.9,1141 563.2,1142 566.6,1142.6C570,1143.2 573.4,1143.6 576.8,1144C580.2,1144.4 583.9,1145.1 587,1145C590,1144.9 592.4,1143.3 595.1,1143.4C597.8,1143.5 600.5,1144.8 603.2,1145.4C605.9,1146.1 608.6,1147.1 611.3,1147.1C614.1,1147 616.8,1145.9 619.5,1145C622.2,1144.2 624.6,1142.8 627.6,1142C630.7,1141.1 634.4,1140.3 637.8,1140C641.2,1139.6 644.5,1139.9 647.9,1140C651.3,1140.1 655.6,1140.7 658.1,1140.6C660.6,1140.5 660.6,1139.3 663.1,1139.3C665.7,1139.4 669.9,1141.2 673.3,1141C676.7,1140.7 680.1,1139.3 683.5,1137.9C686.8,1136.6 690.2,1134.9 693.6,1132.8C697,1130.8 700.4,1127.8 703.8,1125.7C707.2,1123.6 710.6,1121.7 713.9,1120.2C717.3,1118.8 720.7,1118.1 724.1,1117C727.5,1115.9 731.2,1114.6 734.3,1113.5C737.3,1112.5 739.3,1111.6 742.4,1110.9C745.4,1110.2 748.8,1109.9 752.6,1109.5C756.3,1109.1 761.4,1109 764.8,1108.5C768.1,1107.9 770.2,1106.5 772.9,1106C775.6,1105.5 777.6,1105.9 781,1105.4C784.4,1104.9 789.1,1103.5 793.2,1102.8C797.3,1102 801.3,1101.3 805.4,1100.7C809.5,1100.2 813.9,1099.8 817.6,1099.3C821.3,1098.8 824.4,1098.3 827.8,1097.9C831.2,1097.4 834.7,1097.2 837.9,1096.7C841.1,1096.1 845.5,1095 847.1,1094.6" fill="none" stroke="#1c1c1c" stroke-width="1.75" stroke-linejoin="round" stroke-linecap="round" /></g>
<rect x="97.6" y="1089.5" width="200" height="10.3" fill="#fff" />
<line x1="98.8" y1="1094.6" x2="107" y2="1094.6" stroke="#111" stroke-width="1.6" />
<text x="110.4" y="1097.9" font-size="8.8" fill="#111" font-family="'DejaVu Sans','Liberation Sans',sans-serif" textLength="78.5" lengthAdjust="spacingAndGlyphs" stroke="#111" stroke-width="0.22">ADX(14) 54.85</text>
<text x="193.5" y="1097.9" font-size="8.8" fill="#2a7a4a" font-family="'DejaVu Sans','Liberation Sans',sans-serif" textLength="54" lengthAdjust="spacingAndGlyphs" stroke="#2a7a4a" stroke-width="0.22">+DI 38.45</text>
<text x="252.5" y="1097.9" font-size="8.8" fill="#a03060" font-family="'DejaVu Sans','Liberation Sans',sans-serif" textLength="43.5" lengthAdjust="spacingAndGlyphs" stroke="#a03060" stroke-width="0.22">-DI 8.15</text>
<path d="M853.8,1116.8 L857.8,1112.7 L883.4,1112.7 L883.4,1120.9 L857.8,1120.9 Z" fill="#fff" stroke="#4a9468" stroke-width="1.0"/><text x="858.8" y="1119.9" font-size="9.2" fill="#111" font-family="'Liberation Sans',sans-serif" textLength="23.1" lengthAdjust="spacingAndGlyphs" stroke="#111" stroke-width="0.22">38.45</text>
<path d="M853.8,1158.6 L857.8,1154.2 L877.6,1154.2 L877.6,1162.9 L857.8,1162.9 Z" fill="#fff" stroke="#a84a78" stroke-width="1.0"/><text x="858.8" y="1161.7" font-size="9.2" fill="#111" font-family="'Liberation Sans',sans-serif" textLength="17.3" lengthAdjust="spacingAndGlyphs" stroke="#111" stroke-width="0.22">8.15</text>
<path d="M853.8,1094.2 L857.8,1090.3 L883.4,1090.3 L883.4,1098.2 L857.8,1098.2 Z" fill="#fff" stroke="#222" stroke-width="1.0"/><text x="858.8" y="1097.4" font-size="9.2" fill="#111" font-family="'Liberation Sans',sans-serif" textLength="23.1" lengthAdjust="spacingAndGlyphs" stroke="#111" stroke-width="0.22">54.85</text>
<rect x="841" y="1087.6" width="41.2" height="79.3" fill="none" stroke="#5a5aff" stroke-width="1.6" />
<g clip-path="url(#auM)"><rect x="94.1" y="1214.1" width="4.8" height="3.1" fill="#4ea6cf" stroke="#2a7aa4" stroke-width="0.7" />
<rect x="98.9" y="1214.1" width="4.8" height="3.1" fill="#4ea6cf" stroke="#2a7aa4" stroke-width="0.7" />
<rect x="103.7" y="1213.8" width="4.8" height="3.4" fill="#4ea6cf" stroke="#2a7aa4" stroke-width="0.7" />
<rect x="108.5" y="1214.9" width="4.8" height="2.3" fill="#4ea6cf" stroke="#2a7aa4" stroke-width="0.7" />
<rect x="113.3" y="1216.3" width="4.8" height="0.9" fill="#4ea6cf" stroke="#2a7aa4" stroke-width="0.7" />
<rect x="118.1" y="1217.2" width="4.8" height="0.4" fill="#4ea6cf" stroke="#2a7aa4" stroke-width="0.7" />
<rect x="122.9" y="1217.1" width="4.8" height="0.4" fill="#4ea6cf" stroke="#2a7aa4" stroke-width="0.7" />
<rect x="127.7" y="1217.1" width="4.8" height="0.4" fill="#4ea6cf" stroke="#2a7aa4" stroke-width="0.7" />
<rect x="132.6" y="1217" width="4.8" height="0.4" fill="#4ea6cf" stroke="#2a7aa4" stroke-width="0.7" />
<rect x="137.4" y="1216.9" width="4.8" height="0.4" fill="#4ea6cf" stroke="#2a7aa4" stroke-width="0.7" />
<rect x="142.2" y="1216.8" width="4.8" height="0.4" fill="#4ea6cf" stroke="#2a7aa4" stroke-width="0.7" />
<rect x="147" y="1216.7" width="4.8" height="0.5" fill="#4ea6cf" stroke="#2a7aa4" stroke-width="0.7" />
<rect x="151.8" y="1216.7" width="4.8" height="0.5" fill="#4ea6cf" stroke="#2a7aa4" stroke-width="0.7" />
<rect x="156.6" y="1216.9" width="4.8" height="0.4" fill="#4ea6cf" stroke="#2a7aa4" stroke-width="0.7" />
<rect x="161.4" y="1216.5" width="4.8" height="0.7" fill="#4ea6cf" stroke="#2a7aa4" stroke-width="0.7" />
<rect x="166.2" y="1215.1" width="4.8" height="2.1" fill="#4ea6cf" stroke="#2a7aa4" stroke-width="0.7" />
<rect x="171" y="1213.9" width="4.8" height="3.3" fill="#4ea6cf" stroke="#2a7aa4" stroke-width="0.7" />
<rect x="175.8" y="1212.4" width="4.8" height="4.8" fill="#4ea6cf" stroke="#2a7aa4" stroke-width="0.7" />
<rect x="180.7" y="1210.8" width="4.8" height="6.4" fill="#4ea6cf" stroke="#2a7aa4" stroke-width="0.7" />
<rect x="185.5" y="1211.6" width="4.8" height="5.6" fill="#4ea6cf" stroke="#2a7aa4" stroke-width="0.7" />
<rect x="190.3" y="1212.6" width="4.8" height="4.6" fill="#4ea6cf" stroke="#2a7aa4" stroke-width="0.7" />
<rect x="195.1" y="1213.3" width="4.8" height="3.9" fill="#4ea6cf" stroke="#2a7aa4" stroke-width="0.7" />
<rect x="199.9" y="1213.7" width="4.8" height="3.5" fill="#4ea6cf" stroke="#2a7aa4" stroke-width="0.7" />
<rect x="204.7" y="1214.2" width="4.8" height="3" fill="#4ea6cf" stroke="#2a7aa4" stroke-width="0.7" />
<rect x="209.5" y="1214.8" width="4.8" height="2.4" fill="#4ea6cf" stroke="#2a7aa4" stroke-width="0.7" />
<rect x="214.3" y="1216.1" width="4.8" height="1.1" fill="#4ea6cf" stroke="#2a7aa4" stroke-width="0.7" />
<rect x="219.1" y="1217.2" width="4.8" height="1.6" fill="#4ea6cf" stroke="#2a7aa4" stroke-width="0.7" />
<rect x="223.9" y="1217.2" width="4.8" height="4.2" fill="#4ea6cf" stroke="#2a7aa4" stroke-width="0.7" />
<rect x="228.8" y="1217.2" width="4.8" height="5.1" fill="#4ea6cf" stroke="#2a7aa4" stroke-width="0.7" />
<rect x="233.6" y="1217.2" width="4.8" height="5.5" fill="#4ea6cf" stroke="#2a7aa4" stroke-width="0.7" />
<rect x="238.4" y="1217.2" width="4.8" height="5.3" fill="#4ea6cf" stroke="#2a7aa4" stroke-width="0.7" />
<rect x="243.2" y="1217.2" width="4.8" height="5.1" fill="#4ea6cf" stroke="#2a7aa4" stroke-width="0.7" />
<rect x="248" y="1217.2" width="4.8" height="5.2" fill="#4ea6cf" stroke="#2a7aa4" stroke-width="0.7" />
<rect x="252.8" y="1217.2" width="4.8" height="5.4" fill="#4ea6cf" stroke="#2a7aa4" stroke-width="0.7" />
<rect x="257.6" y="1217.2" width="4.8" height="6.2" fill="#4ea6cf" stroke="#2a7aa4" stroke-width="0.7" />
<rect x="262.4" y="1217.2" width="4.8" height="7.6" fill="#4ea6cf" stroke="#2a7aa4" stroke-width="0.7" />
<rect x="267.2" y="1217.2" width="4.8" height="8.1" fill="#4ea6cf" stroke="#2a7aa4" stroke-width="0.7" />
<rect x="272" y="1217.2" width="4.8" height="7.4" fill="#4ea6cf" stroke="#2a7aa4" stroke-width="0.7" />
<rect x="276.9" y="1217.2" width="4.8" height="5.9" fill="#4ea6cf" stroke="#2a7aa4" stroke-width="0.7" />
<rect x="281.7" y="1217.2" width="4.8" height="4.5" fill="#4ea6cf" stroke="#2a7aa4" stroke-width="0.7" />
<rect x="286.5" y="1217.2" width="4.8" height="3.2" fill="#4ea6cf" stroke="#2a7aa4" stroke-width="0.7" />
<rect x="291.3" y="1217.2" width="4.8" height="2.3" fill="#4ea6cf" stroke="#2a7aa4" stroke-width="0.7" />
<rect x="296.1" y="1217.2" width="4.8" height="2.3" fill="#4ea6cf" stroke="#2a7aa4" stroke-width="0.7" />
<rect x="300.9" y="1217.2" width="4.8" height="2.8" fill="#4ea6cf" stroke="#2a7aa4" stroke-width="0.7" />
<rect x="305.7" y="1217.2" width="4.8" height="3.6" fill="#4ea6cf" stroke="#2a7aa4" stroke-width="0.7" />
<rect x="310.5" y="1217.2" width="4.8" height="4.5" fill="#4ea6cf" stroke="#2a7aa4" stroke-width="0.7" />
<rect x="315.3" y="1217.2" width="4.8" height="5.2" fill="#4ea6cf" stroke="#2a7aa4" stroke-width="0.7" />
<rect x="320.1" y="1217.2" width="4.8" height="5.4" fill="#4ea6cf" stroke="#2a7aa4" stroke-width="0.7" />
<rect x="325" y="1217.2" width="4.8" height="4.6" fill="#4ea6cf" stroke="#2a7aa4" stroke-width="0.7" />
<rect x="329.8" y="1217.2" width="4.8" height="3.4" fill="#4ea6cf" stroke="#2a7aa4" stroke-width="0.7" />
<rect x="334.6" y="1217.2" width="4.8" height="3.2" fill="#4ea6cf" stroke="#2a7aa4" stroke-width="0.7" />
<rect x="339.4" y="1217.2" width="4.8" height="3.1" fill="#4ea6cf" stroke="#2a7aa4" stroke-width="0.7" />
<rect x="344.2" y="1217.2" width="4.8" height="1.5" fill="#4ea6cf" stroke="#2a7aa4" stroke-width="0.7" />
<rect x="349" y="1216.8" width="4.8" height="0.4" fill="#4ea6cf" stroke="#2a7aa4" stroke-width="0.7" />
<rect x="353.8" y="1214.6" width="4.8" height="2.6" fill="#4ea6cf" stroke="#2a7aa4" stroke-width="0.7" />
<rect x="358.6" y="1212.9" width="4.8" height="4.3" fill="#4ea6cf" stroke="#2a7aa4" stroke-width="0.7" />
<rect x="363.4" y="1211.4" width="4.8" height="5.8" fill="#4ea6cf" stroke="#2a7aa4" stroke-width="0.7" />
<rect x="368.2" y="1210.5" width="4.8" height="6.7" fill="#4ea6cf" stroke="#2a7aa4" stroke-width="0.7" />
<rect x="373.1" y="1210.1" width="4.8" height="7.1" fill="#4ea6cf" stroke="#2a7aa4" stroke-width="0.7" />
<rect x="377.9" y="1210.1" width="4.8" height="7.1" fill="#4ea6cf" stroke="#2a7aa4" stroke-width="0.7" />
<rect x="382.7" y="1210.1" width="4.8" height="7.1" fill="#4ea6cf" stroke="#2a7aa4" stroke-width="0.7" />
<rect x="387.5" y="1209.8" width="4.8" height="7.4" fill="#4ea6cf" stroke="#2a7aa4" stroke-width="0.7" />
<rect x="392.3" y="1208.6" width="4.8" height="8.6" fill="#4ea6cf" stroke="#2a7aa4" stroke-width="0.7" />
<rect x="397.1" y="1207.9" width="4.8" height="9.3" fill="#4ea6cf" stroke="#2a7aa4" stroke-width="0.7" />
<rect x="401.9" y="1207.7" width="4.8" height="9.5" fill="#4ea6cf" stroke="#2a7aa4" stroke-width="0.7" />
<rect x="406.7" y="1211.1" width="4.8" height="6.1" fill="#4ea6cf" stroke="#2a7aa4" stroke-width="0.7" />
<rect x="411.5" y="1212.3" width="4.8" height="4.9" fill="#4ea6cf" stroke="#2a7aa4" stroke-width="0.7" />
<rect x="416.3" y="1213.8" width="4.8" height="3.4" fill="#4ea6cf" stroke="#2a7aa4" stroke-width="0.7" />
<rect x="421.2" y="1215.8" width="4.8" height="1.4" fill="#4ea6cf" stroke="#2a7aa4" stroke-width="0.7" />
<rect x="426" y="1216.6" width="4.8" height="0.6" fill="#4ea6cf" stroke="#2a7aa4" stroke-width="0.7" />
<rect x="430.8" y="1216.5" width="4.8" height="0.7" fill="#4ea6cf" stroke="#2a7aa4" stroke-width="0.7" />
<rect x="435.6" y="1214.5" width="4.8" height="2.7" fill="#4ea6cf" stroke="#2a7aa4" stroke-width="0.7" />
<rect x="440.4" y="1213.6" width="4.8" height="3.6" fill="#4ea6cf" stroke="#2a7aa4" stroke-width="0.7" />
<rect x="445.2" y="1213" width="4.8" height="4.2" fill="#4ea6cf" stroke="#2a7aa4" stroke-width="0.7" />
<rect x="450" y="1212.6" width="4.8" height="4.6" fill="#4ea6cf" stroke="#2a7aa4" stroke-width="0.7" />
<rect x="454.8" y="1212.8" width="4.8" height="4.4" fill="#4ea6cf" stroke="#2a7aa4" stroke-width="0.7" />
<rect x="459.6" y="1213.1" width="4.8" height="4.1" fill="#4ea6cf" stroke="#2a7aa4" stroke-width="0.7" />
<rect x="464.4" y="1213.5" width="4.8" height="3.7" fill="#4ea6cf" stroke="#2a7aa4" stroke-width="0.7" />
<rect x="469.3" y="1213.9" width="4.8" height="3.3" fill="#4ea6cf" stroke="#2a7aa4" stroke-width="0.7" />
<rect x="474.1" y="1215" width="4.8" height="2.2" fill="#4ea6cf" stroke="#2a7aa4" stroke-width="0.7" />
<rect x="478.9" y="1217.2" width="4.8" height="0.4" fill="#4ea6cf" stroke="#2a7aa4" stroke-width="0.7" />
<rect x="483.7" y="1217.2" width="4.8" height="1.7" fill="#4ea6cf" stroke="#2a7aa4" stroke-width="0.7" />
<rect x="488.5" y="1217.2" width="4.8" height="2.9" fill="#4ea6cf" stroke="#2a7aa4" stroke-width="0.7" />
<rect x="493.3" y="1217.2" width="4.8" height="3.5" fill="#4ea6cf" stroke="#2a7aa4" stroke-width="0.7" />
<rect x="498.1" y="1217.2" width="4.8" height="4" fill="#4ea6cf" stroke="#2a7aa4" stroke-width="0.7" />
<rect x="502.9" y="1217.2" width="4.8" height="4.3" fill="#4ea6cf" stroke="#2a7aa4" stroke-width="0.7" />
<rect x="507.7" y="1217.2" width="4.8" height="4.6" fill="#4ea6cf" stroke="#2a7aa4" stroke-width="0.7" />
<rect x="512.5" y="1217.2" width="4.8" height="4.5" fill="#4ea6cf" stroke="#2a7aa4" stroke-width="0.7" />
<rect x="517.4" y="1217.2" width="4.8" height="4.2" fill="#4ea6cf" stroke="#2a7aa4" stroke-width="0.7" />
<rect x="522.2" y="1217.2" width="4.8" height="3.7" fill="#4ea6cf" stroke="#2a7aa4" stroke-width="0.7" />
<rect x="527" y="1217.2" width="4.8" height="3" fill="#4ea6cf" stroke="#2a7aa4" stroke-width="0.7" />
<rect x="531.8" y="1217.2" width="4.8" height="2.8" fill="#4ea6cf" stroke="#2a7aa4" stroke-width="0.7" />
<rect x="536.6" y="1217.2" width="4.8" height="3.2" fill="#4ea6cf" stroke="#2a7aa4" stroke-width="0.7" />
<rect x="541.4" y="1217.2" width="4.8" height="3.5" fill="#4ea6cf" stroke="#2a7aa4" stroke-width="0.7" />
<rect x="546.2" y="1217.2" width="4.8" height="3.5" fill="#4ea6cf" stroke="#2a7aa4" stroke-width="0.7" />
<rect x="551" y="1217.2" width="4.8" height="3.4" fill="#4ea6cf" stroke="#2a7aa4" stroke-width="0.7" />
<rect x="555.8" y="1217.2" width="4.8" height="3.2" fill="#4ea6cf" stroke="#2a7aa4" stroke-width="0.7" />
<rect x="560.6" y="1217.2" width="4.8" height="3.1" fill="#4ea6cf" stroke="#2a7aa4" stroke-width="0.7" />
<rect x="565.5" y="1217.2" width="4.8" height="3.7" fill="#4ea6cf" stroke="#2a7aa4" stroke-width="0.7" />
<rect x="570.3" y="1217.2" width="4.8" height="4.4" fill="#4ea6cf" stroke="#2a7aa4" stroke-width="0.7" />
<rect x="575.1" y="1217.2" width="4.8" height="4.8" fill="#4ea6cf" stroke="#2a7aa4" stroke-width="0.7" />
<rect x="579.9" y="1217.2" width="4.8" height="3.2" fill="#4ea6cf" stroke="#2a7aa4" stroke-width="0.7" />
<rect x="584.7" y="1217.2" width="4.8" height="1.4" fill="#4ea6cf" stroke="#2a7aa4" stroke-width="0.7" />
<rect x="589.5" y="1217.1" width="4.8" height="0.4" fill="#4ea6cf" stroke="#2a7aa4" stroke-width="0.7" />
<rect x="594.3" y="1215.9" width="4.8" height="1.3" fill="#4ea6cf" stroke="#2a7aa4" stroke-width="0.7" />
<rect x="599.1" y="1215.5" width="4.8" height="1.7" fill="#4ea6cf" stroke="#2a7aa4" stroke-width="0.7" />
<rect x="603.9" y="1215.2" width="4.8" height="2" fill="#4ea6cf" stroke="#2a7aa4" stroke-width="0.7" />
<rect x="608.7" y="1214.9" width="4.8" height="2.3" fill="#4ea6cf" stroke="#2a7aa4" stroke-width="0.7" />
<rect x="613.6" y="1214.6" width="4.8" height="2.6" fill="#4ea6cf" stroke="#2a7aa4" stroke-width="0.7" />
<rect x="618.4" y="1214.4" width="4.8" height="2.8" fill="#4ea6cf" stroke="#2a7aa4" stroke-width="0.7" />
<rect x="623.2" y="1214.2" width="4.8" height="3" fill="#4ea6cf" stroke="#2a7aa4" stroke-width="0.7" />
<rect x="628" y="1214.3" width="4.8" height="2.9" fill="#4ea6cf" stroke="#2a7aa4" stroke-width="0.7" />
<rect x="632.8" y="1214.5" width="4.8" height="2.7" fill="#4ea6cf" stroke="#2a7aa4" stroke-width="0.7" />
<rect x="637.6" y="1214.8" width="4.8" height="2.4" fill="#4ea6cf" stroke="#2a7aa4" stroke-width="0.7" />
<rect x="642.4" y="1215.4" width="4.8" height="1.8" fill="#4ea6cf" stroke="#2a7aa4" stroke-width="0.7" />
<rect x="647.2" y="1215.9" width="4.8" height="1.3" fill="#4ea6cf" stroke="#2a7aa4" stroke-width="0.7" />
<rect x="652" y="1216.3" width="4.8" height="0.9" fill="#4ea6cf" stroke="#2a7aa4" stroke-width="0.7" />
<rect x="656.8" y="1216.7" width="4.8" height="0.5" fill="#4ea6cf" stroke="#2a7aa4" stroke-width="0.7" />
<rect x="661.7" y="1217.1" width="4.8" height="0.4" fill="#4ea6cf" stroke="#2a7aa4" stroke-width="0.7" />
<rect x="666.5" y="1217.2" width="4.8" height="0.4" fill="#4ea6cf" stroke="#2a7aa4" stroke-width="0.7" />
<rect x="671.3" y="1217.2" width="4.8" height="0.4" fill="#4ea6cf" stroke="#2a7aa4" stroke-width="0.7" />
<rect x="676.1" y="1216.6" width="4.8" height="0.6" fill="#4ea6cf" stroke="#2a7aa4" stroke-width="0.7" />
<rect x="680.9" y="1215.5" width="4.8" height="1.7" fill="#4ea6cf" stroke="#2a7aa4" stroke-width="0.7" />
<rect x="685.7" y="1214.8" width="4.8" height="2.4" fill="#4ea6cf" stroke="#2a7aa4" stroke-width="0.7" />
<rect x="690.5" y="1213.5" width="4.8" height="3.7" fill="#4ea6cf" stroke="#2a7aa4" stroke-width="0.7" />
<rect x="695.3" y="1212.1" width="4.8" height="5.1" fill="#4ea6cf" stroke="#2a7aa4" stroke-width="0.7" />
<rect x="700.1" y="1208.6" width="4.8" height="8.6" fill="#4ea6cf" stroke="#2a7aa4" stroke-width="0.7" />
<rect x="704.9" y="1206.5" width="4.8" height="10.7" fill="#4ea6cf" stroke="#2a7aa4" stroke-width="0.7" />
<rect x="709.8" y="1206.1" width="4.8" height="11.1" fill="#4ea6cf" stroke="#2a7aa4" stroke-width="0.7" />
<rect x="714.6" y="1207.5" width="4.8" height="9.7" fill="#4ea6cf" stroke="#2a7aa4" stroke-width="0.7" />
<rect x="719.4" y="1209.9" width="4.8" height="7.3" fill="#4ea6cf" stroke="#2a7aa4" stroke-width="0.7" />
<rect x="724.2" y="1211.2" width="4.8" height="6" fill="#4ea6cf" stroke="#2a7aa4" stroke-width="0.7" />
<rect x="729" y="1212.3" width="4.8" height="4.9" fill="#4ea6cf" stroke="#2a7aa4" stroke-width="0.7" />
<rect x="733.8" y="1213.1" width="4.8" height="4.1" fill="#4ea6cf" stroke="#2a7aa4" stroke-width="0.7" />
<rect x="738.6" y="1215.2" width="4.8" height="2" fill="#4ea6cf" stroke="#2a7aa4" stroke-width="0.7" />
<rect x="743.4" y="1217.2" width="4.8" height="0.4" fill="#4ea6cf" stroke="#2a7aa4" stroke-width="0.7" />
<rect x="748.2" y="1217.2" width="4.8" height="1.6" fill="#4ea6cf" stroke="#2a7aa4" stroke-width="0.7" />
<rect x="753" y="1217.2" width="4.8" height="2.8" fill="#4ea6cf" stroke="#2a7aa4" stroke-width="0.7" />
<rect x="757.9" y="1217.2" width="4.8" height="3.4" fill="#4ea6cf" stroke="#2a7aa4" stroke-width="0.7" />
<rect x="762.7" y="1217.2" width="4.8" height="2.4" fill="#4ea6cf" stroke="#2a7aa4" stroke-width="0.7" />
<rect x="767.5" y="1217.2" width="4.8" height="1.8" fill="#4ea6cf" stroke="#2a7aa4" stroke-width="0.7" />
<rect x="772.3" y="1217.2" width="4.8" height="1.4" fill="#4ea6cf" stroke="#2a7aa4" stroke-width="0.7" />
<rect x="777.1" y="1217.2" width="4.8" height="2.3" fill="#4ea6cf" stroke="#2a7aa4" stroke-width="0.7" />
<rect x="781.9" y="1217.2" width="4.8" height="1.2" fill="#4ea6cf" stroke="#2a7aa4" stroke-width="0.7" />
<rect x="786.7" y="1216.7" width="4.8" height="0.5" fill="#4ea6cf" stroke="#2a7aa4" stroke-width="0.7" />
<rect x="791.5" y="1215.5" width="4.8" height="1.7" fill="#4ea6cf" stroke="#2a7aa4" stroke-width="0.7" />
<rect x="796.3" y="1215.4" width="4.8" height="1.8" fill="#4ea6cf" stroke="#2a7aa4" stroke-width="0.7" />
<rect x="801.1" y="1215.8" width="4.8" height="1.4" fill="#4ea6cf" stroke="#2a7aa4" stroke-width="0.7" />
<rect x="806" y="1215.4" width="4.8" height="1.8" fill="#4ea6cf" stroke="#2a7aa4" stroke-width="0.7" />
<rect x="810.8" y="1214.9" width="4.8" height="2.3" fill="#4ea6cf" stroke="#2a7aa4" stroke-width="0.7" />
<rect x="815.6" y="1214" width="4.8" height="3.2" fill="#4ea6cf" stroke="#2a7aa4" stroke-width="0.7" />
<rect x="820.4" y="1213.5" width="4.8" height="3.7" fill="#4ea6cf" stroke="#2a7aa4" stroke-width="0.7" />
<rect x="825.2" y="1213.1" width="4.8" height="4.1" fill="#4ea6cf" stroke="#2a7aa4" stroke-width="0.7" />
<rect x="830" y="1213.1" width="4.8" height="4.1" fill="#4ea6cf" stroke="#2a7aa4" stroke-width="0.7" />
<rect x="834.8" y="1213.1" width="4.8" height="4.1" fill="#4ea6cf" stroke="#2a7aa4" stroke-width="0.7" />
<rect x="839.6" y="1213.1" width="4.8" height="4.1" fill="#4ea6cf" stroke="#2a7aa4" stroke-width="0.7" />
<rect x="844.4" y="1213.1" width="4.8" height="4.1" fill="#4ea6cf" stroke="#2a7aa4" stroke-width="0.7" />
<line x1="342.1" y1="1238.1" x2="848.4" y2="1205.6" stroke="#5a5aff" stroke-width="1.15" stroke-dasharray="9.5 3.2"/>
<line x1="577.8" y1="1223.3" x2="849.8" y2="1187.3" stroke="#5a5aff" stroke-width="1.15" stroke-dasharray="9.5 3.2"/>
<line x1="675.3" y1="1210.1" x2="850.2" y2="1180" stroke="#5a5aff" stroke-width="1.15" stroke-dasharray="9.5 3.2"/>
<path d="M96.6,1221.3C98.7,1220.9 104.5,1219.7 109.4,1219.2C114.2,1218.7 119.6,1218.6 125.7,1218.2C131.7,1217.9 139.9,1217.5 146,1217.2C152.1,1216.9 157.5,1217 162.2,1216.6C167,1216.1 170.7,1215.4 174.4,1214.6C178.2,1213.7 181.2,1212.7 184.6,1211.7C188,1210.7 191,1209.4 194.8,1208.5C198.5,1207.5 203.2,1206.6 207,1206C210.7,1205.4 213.7,1205 217.1,1205C220.5,1205 223.9,1205.4 227.3,1206C230.7,1206.6 234.1,1207.6 237.4,1208.5C240.8,1209.3 244.2,1210.2 247.6,1211.1C251,1212 254.4,1212.6 257.8,1213.7C261.2,1214.9 264.9,1217 267.9,1218.2C271,1219.5 273.2,1220.4 276.1,1221.3C278.9,1222.1 282,1222.7 285.2,1223.3C288.4,1223.9 291.9,1224 295.3,1224.7C298.7,1225.4 302.1,1226.5 305.5,1227.4C308.9,1228.2 312.3,1229.4 315.7,1230C319,1230.6 322.4,1230.4 325.8,1230.8C329.2,1231.2 332.6,1232 336,1232.4C339.4,1232.9 342.8,1233.5 346.1,1233.5C349.5,1233.4 352.9,1232.7 356.3,1232C359.7,1231.4 363.1,1230.5 366.5,1229.4C369.9,1228.3 372.9,1226.8 376.6,1225.3C380.4,1223.9 384.8,1222.5 388.8,1220.7C392.9,1218.8 397.3,1215.9 401,1214.1C404.7,1212.4 407.8,1211 411.2,1210.1C414.6,1209.1 418,1208.7 421.3,1208.5C424.7,1208.2 428.1,1208.7 431.5,1208.5C434.9,1208.2 438.3,1207.8 441.7,1207C445.1,1206.2 448.4,1204.7 451.8,1203.6C455.2,1202.5 457.8,1201.3 462,1200.3C466.2,1199.4 472.6,1198.1 477.2,1197.9C481.8,1197.6 485.3,1198.4 489.4,1198.9C493.5,1199.4 497.5,1200.1 501.6,1200.9C505.7,1201.8 509.7,1203.1 513.8,1204C517.8,1204.9 521.9,1205.7 526,1206.4C530,1207.1 534.1,1207.4 538.2,1208C542.2,1208.7 546.3,1209.7 550.4,1210.5C554.4,1211.2 558.8,1211.8 562.6,1212.5C566.3,1213.2 569.7,1213.9 572.7,1214.6C575.8,1215.2 578.1,1216.2 580.9,1216.6C583.6,1216.9 585.9,1216.7 589,1216.6C592,1216.4 595.4,1216.2 599.1,1215.8C602.9,1215.4 607.3,1214.8 611.3,1214.1C615.4,1213.5 619.5,1212.5 623.5,1211.7C627.6,1211 631.7,1210.3 635.7,1209.7C639.8,1209.1 644.2,1208.3 647.9,1208C651.7,1207.8 654.9,1208 658.1,1208C661.3,1208 664,1207.9 667.2,1208C670.4,1208.2 674,1209.2 677.4,1209.1C680.7,1208.9 684.1,1208 687.5,1207C690.9,1206 694.3,1204.7 697.7,1203C701.1,1201.3 704.5,1198.9 707.8,1196.9C711.2,1194.8 714.6,1192.5 718,1190.8C721.4,1189.1 724.8,1187.7 728.2,1186.7C731.6,1185.7 734.9,1185 738.3,1184.7C741.7,1184.3 744.8,1184.5 748.5,1184.7C752.2,1184.8 756.6,1185.4 760.7,1185.7C764.8,1186 768.8,1186.4 772.9,1186.7C777,1187 781,1187.8 785.1,1187.7C789.1,1187.6 793.2,1186.6 797.3,1186.1C801.3,1185.6 805.4,1185.4 809.5,1184.7C813.5,1183.9 817.6,1182.6 821.7,1181.6C825.7,1180.6 829.6,1179.4 833.9,1178.6C838.1,1177.7 844.9,1176.9 847.1,1176.5" fill="none" stroke="#f03030" stroke-width="1.35" stroke-linejoin="round" stroke-linecap="round" />
<path d="M96.6,1220.2C98,1219.6 101.5,1217 105.3,1216.6C109.2,1216.2 114.5,1217.8 119.6,1217.8C124.6,1217.8 130.7,1216.9 135.8,1216.6C140.9,1216.2 146,1215.8 150,1215.8C154.1,1215.8 156.8,1217 160.2,1216.6C163.6,1216.1 167.7,1214.2 170.4,1213.1C173.1,1212 174.4,1211.3 176.5,1210.1C178.5,1208.8 180.2,1206.6 182.6,1205.6C184.9,1204.6 187.6,1204.4 190.7,1204C193.7,1203.6 197.5,1203.6 200.9,1203.4C204.2,1203.1 208.3,1202.2 211,1202.4C213.7,1202.5 214.7,1203.3 217.1,1204.4C219.5,1205.5 222.2,1207.7 225.2,1209.1C228.3,1210.4 232,1211.5 235.4,1212.5C238.8,1213.5 242.2,1214.2 245.6,1215.2C249,1216.1 252.7,1216.9 255.7,1218.2C258.8,1219.6 261.5,1221.9 263.9,1223.3C266.2,1224.7 267.9,1225.8 270,1226.7C272,1227.7 273.5,1228.7 276.1,1228.8C278.6,1228.9 282,1227.5 285.2,1227.4C288.4,1227.2 291.9,1227.5 295.3,1228C298.7,1228.5 302.1,1229.5 305.5,1230.4C308.9,1231.3 312.3,1232.8 315.7,1233.5C319,1234.1 322.4,1233.6 325.8,1234.1C329.2,1234.5 332.6,1235.9 336,1236.1C339.4,1236.3 342.8,1236.6 346.1,1235.5C349.5,1234.4 352.9,1231.4 356.3,1229.4C359.7,1227.4 363.1,1225.2 366.5,1223.3C369.9,1221.4 373.6,1219.7 376.6,1218.2C379.7,1216.8 382,1215.9 384.8,1214.6C387.5,1213.2 390.2,1211.7 392.9,1210.1C395.6,1208.5 398.6,1206.1 401,1205C403.4,1203.9 404.4,1203.7 407.1,1203.6C409.8,1203.5 414.2,1203.8 417.3,1204.4C420.3,1205 422.7,1206.5 425.4,1207C428.1,1207.6 430.8,1208.2 433.5,1207.6C436.2,1207.1 439,1204.9 441.7,1203.6C444.4,1202.2 447.1,1200.7 449.8,1199.5C452.5,1198.3 454.9,1196.9 457.9,1196.3C461,1195.7 465.6,1196 468.1,1195.9C470.6,1195.7 470.3,1194.8 473.1,1195.4C476,1196.1 481.6,1198.5 485.3,1199.5C489.1,1200.5 492.1,1200.6 495.5,1201.5C498.9,1202.5 502.3,1203.8 505.7,1205C509,1206.2 512.4,1207.8 515.8,1208.5C519.2,1209.1 522.6,1208.6 526,1209.1C529.4,1209.5 532.8,1210.4 536.1,1211.1C539.5,1211.8 542.9,1212.6 546.3,1213.1C549.7,1213.7 553.1,1214.1 556.5,1214.6C559.9,1215 563.9,1215.1 566.6,1215.8C569.3,1216.4 570.9,1217.8 572.7,1218.6C574.6,1219.4 576.1,1220.7 577.8,1220.7C579.5,1220.6 580.7,1219 582.9,1218.2C585.1,1217.4 588.3,1216.4 591,1215.8C593.7,1215.2 596.4,1214.9 599.1,1214.6C601.9,1214.2 604.6,1214.5 607.3,1213.7C610,1213 612.7,1210.9 615.4,1210.1C618.1,1209.3 620.8,1209.7 623.5,1209.1C626.2,1208.5 628.6,1206.9 631.7,1206.4C634.7,1205.9 638.4,1205.8 641.8,1206C645.2,1206.2 648.1,1207.4 652,1207.6C655.9,1207.9 661.4,1207.4 665.2,1207.6C668.9,1207.9 671.3,1209.7 674.3,1209.1C677.4,1208.4 679.9,1205.3 683.5,1203.6C687,1201.9 691.9,1201.5 695.7,1198.9C699.4,1196.3 702.8,1190.6 705.8,1187.7C708.9,1184.8 711.2,1182.6 713.9,1181.6C716.7,1180.6 719.2,1182 722.1,1181.6C725,1181.2 728.5,1179.4 731.2,1179.2C733.9,1179 735.8,1179.9 738.3,1180.6C740.9,1181.4 743.4,1182.5 746.5,1183.7C749.5,1184.8 754.3,1186.9 756.6,1187.7C759,1188.6 758.3,1188.7 760.7,1188.7C763.1,1188.7 767.8,1187.6 770.9,1187.7C773.9,1187.8 776.3,1189.3 779,1189.3C781.7,1189.4 784.1,1189 787.1,1188.1C790.2,1187.2 793.9,1184.9 797.3,1184.1C800.7,1183.3 804.1,1184.1 807.4,1183.3C810.8,1182.4 814.2,1180.4 817.6,1179.2C821,1178 824.4,1176.9 827.8,1175.9C831.2,1175 834.7,1174.2 837.9,1173.5C841.1,1172.8 845.5,1171.8 847.1,1171.5" fill="none" stroke="#1c1c1c" stroke-width="1.75" stroke-linejoin="round" stroke-linecap="round" /></g>
<rect x="97.6" y="1166.3" width="240" height="11" fill="#fff" />
<line x1="98.8" y1="1171.9" x2="107" y2="1171.9" stroke="#111" stroke-width="1.6" />
<text x="110.4" y="1175.2" font-size="8.8" fill="#111" font-family="'DejaVu Sans','Liberation Sans',sans-serif" textLength="129.5" lengthAdjust="spacingAndGlyphs" stroke="#111" stroke-width="0.22">MACD(12,26,9) 120.502</text>
<text x="240" y="1175.2" font-size="8.8" fill="#f03a3a" font-family="'DejaVu Sans','Liberation Sans',sans-serif" textLength="49.5" lengthAdjust="spacingAndGlyphs" stroke="#f03a3a" stroke-width="0.22">, 108.496</text>
<text x="289.5" y="1175.2" font-size="8.8" fill="#4ea6cf" font-family="'DejaVu Sans','Liberation Sans',sans-serif" textLength="46.5" lengthAdjust="spacingAndGlyphs" stroke="#4ea6cf" stroke-width="0.22">, 12.006</text>
<path d="M853.8,1176.7 L857.8,1173 L895.2,1173 L895.2,1180.4 L857.8,1180.4 Z" fill="#fff" stroke="#f03a3a" stroke-width="1.0"/><text x="858.8" y="1179.8" font-size="9.2" fill="#111" font-family="'Liberation Sans',sans-serif" textLength="34.9" lengthAdjust="spacingAndGlyphs" stroke="#111" stroke-width="0.22">108.496</text>
<path d="M853.8,1170.8 L857.8,1166.9 L895.2,1166.9 L895.2,1174.6 L857.8,1174.6 Z" fill="#fff" stroke="#222" stroke-width="1.0"/><text x="858.8" y="1173.9" font-size="9.2" fill="#111" font-family="'Liberation Sans',sans-serif" textLength="34.9" lengthAdjust="spacingAndGlyphs" stroke="#111" stroke-width="0.22">120.502</text>
<text x="861" y="1220.6" font-size="9.4" fill="#111" font-family="'Liberation Sans',sans-serif" stroke="#111" stroke-width="0.22">0</text>
<path d="M853.8,1211.9 L857.8,1207.5 L889.5,1207.5 L889.5,1216.3 L857.8,1216.3 Z" fill="#fff" stroke="#6a9fd0" stroke-width="1.0"/><text x="858.8" y="1215" font-size="9.2" fill="#111" font-family="'Liberation Sans',sans-serif" textLength="29.2" lengthAdjust="spacingAndGlyphs" stroke="#111" stroke-width="0.22">12.006</text>
<g clip-path="url(#auS)"><line x1="96.6" y1="1261.2" x2="853.5" y2="1261.2" stroke="#3a3a3a" stroke-width="0.8" />
<line x1="96.6" y1="1300" x2="853.5" y2="1300" stroke="#3a3a3a" stroke-width="0.8" />
<line x1="96.6" y1="1280.8" x2="853.5" y2="1280.8" stroke="#9a9a9a" stroke-width="1.2" stroke-dasharray="8 3 2 3"/>
<path d="M96.6,1280.2C97.5,1278.3 100.5,1272.3 102.3,1269C104.1,1265.7 105.5,1261.8 107.4,1260.5C109.2,1259.2 111.6,1260 113.5,1261.3C115.3,1262.6 116.7,1265.8 118.5,1268C120.4,1270.2 122.8,1273.3 124.6,1274.7C126.5,1276.2 127.9,1276.8 129.7,1276.7C131.6,1276.6 133.8,1274.8 135.8,1274.1C137.8,1273.4 139.5,1272.6 141.9,1272.7C144.3,1272.8 147.3,1274.1 150,1274.7C152.8,1275.3 155.6,1276.1 158.2,1276.1C160.7,1276.2 163.3,1276.1 165.3,1275.1C167.3,1274.1 168.5,1272.1 170.4,1270C172.2,1268 174.6,1264.3 176.5,1262.9C178.3,1261.6 179.7,1261.7 181.5,1261.9C183.4,1262.1 185.4,1262.5 187.6,1263.9C189.8,1265.4 192.6,1268.8 194.8,1270.7C197,1272.5 198.5,1274.4 200.9,1275.1C203.2,1275.9 206.3,1275.2 209,1275.1C211.7,1275.1 214.7,1273.9 217.1,1274.7C219.5,1275.6 221.2,1277.6 223.2,1280.2C225.2,1282.8 227.1,1287.3 229.3,1290.4C231.5,1293.4 234.1,1297 236.4,1298.5C238.8,1300 241.3,1299.3 243.5,1299.1C245.7,1298.9 247.3,1296.9 249.6,1297.1C252,1297.2 255.1,1298.3 257.8,1299.9C260.5,1301.5 263.4,1305 265.9,1306.6C268.4,1308.3 270.8,1309.8 273,1309.7C275.2,1309.5 277.4,1306.6 279.1,1305.6C280.8,1304.6 281.1,1305.6 283.1,1303.6C285.2,1301.5 288.7,1295.4 291.3,1293.4C293.8,1291.4 296,1291.3 298.4,1291.8C300.7,1292.3 302.9,1294.7 305.5,1296.5C308,1298.3 310.9,1301.1 313.6,1302.6C316.3,1304 319,1305.1 321.7,1305.2C324.5,1305.3 327.2,1303.9 329.9,1303.2C332.6,1302.4 335.5,1300.6 338,1300.5C340.5,1300.4 342.9,1302.7 345.1,1302.6C347.3,1302.4 349,1302.4 351.2,1299.5C353.4,1296.6 356,1290 358.3,1285.3C360.7,1280.5 363.1,1275.1 365.4,1271.1C367.8,1267 370,1263.3 372.6,1260.9C375.1,1258.5 378,1257.7 380.7,1256.8C383.4,1256 386.1,1256.7 388.8,1255.8C391.5,1255 394.6,1252.6 397,1251.7C399.3,1250.9 401,1250.1 403,1250.7C405.1,1251.4 406.8,1253.4 409.1,1255.8C411.5,1258.2 414.6,1262.4 417.3,1265C420,1267.5 422.9,1269.9 425.4,1271.1C427.9,1272.2 430.1,1272.6 432.5,1272.1C434.9,1271.6 437.4,1269.9 439.6,1268C441.8,1266.1 443.7,1262.6 445.7,1260.5C447.8,1258.4 449.5,1256 451.8,1255.2C454.2,1254.4 457.6,1255.1 460,1255.8C462.3,1256.5 463.9,1258.3 466.1,1259.3C468.3,1260.3 470.6,1260.8 473.1,1261.9C475.7,1263 478.6,1264.1 481.3,1266C484,1267.8 486.7,1271.4 489.4,1273.1C492.1,1274.8 494.8,1275.4 497.5,1276.1C500.2,1276.9 502.9,1276.5 505.7,1277.6C508.4,1278.6 511.1,1281.3 513.8,1282.2C516.5,1283.2 519.2,1283.8 521.9,1283.3C524.6,1282.7 527.7,1279.3 530,1278.8C532.4,1278.3 533.8,1278.1 536.1,1280.2C538.5,1282.3 541.7,1288.2 544.3,1291.4C546.8,1294.5 549,1298 551.4,1299.1C553.8,1300.2 556,1298.3 558.5,1297.9C561,1297.4 563.9,1296.1 566.6,1296.5C569.3,1296.8 572.2,1299.2 574.8,1299.9C577.3,1300.6 579.5,1303 581.9,1300.5C584.2,1298.1 586.8,1290.9 589,1285.3C591.2,1279.7 593,1271.4 595.1,1267C597.1,1262.6 598.8,1259.9 601.2,1258.9C603.6,1257.8 606.6,1260.7 609.3,1260.9C612,1261.1 614.7,1259.9 617.4,1259.9C620.1,1259.9 623.2,1259.7 625.6,1260.9C627.9,1262.1 629.3,1265.9 631.7,1267C634,1268.1 637.1,1267.2 639.8,1267.4C642.5,1267.6 645.2,1267.4 647.9,1268C650.6,1268.6 653.2,1270.5 656.1,1271.1C658.9,1271.6 661.6,1271.1 665.2,1271.1C668.7,1271.1 674,1272.2 677.4,1271.1C680.7,1269.9 682.8,1266 685.5,1263.9C688.2,1261.9 690.9,1260.1 693.6,1258.9C696.3,1257.6 699,1257.2 701.7,1256.4C704.5,1255.7 707.2,1254.3 709.9,1254.4C712.6,1254.5 715.3,1256.1 718,1257.2C720.7,1258.4 723.1,1260.7 726.1,1261.3C729.2,1261.9 733.3,1260.7 736.3,1260.9C739.3,1261.1 741.7,1261.9 744.4,1262.5C747.1,1263.1 749.5,1264.2 752.6,1264.6C755.6,1264.9 759.7,1265.2 762.7,1264.6C765.8,1263.9 768.1,1261.6 770.9,1260.9C773.6,1260.2 776.3,1260.2 779,1260.5C781.7,1260.8 784.4,1262.9 787.1,1262.5C789.8,1262.2 792.5,1259.7 795.2,1258.5C798,1257.2 800.7,1255.6 803.4,1255.2C806.1,1254.8 808.8,1256.1 811.5,1255.8C814.2,1255.6 816.9,1254.3 819.6,1253.8C822.3,1253.3 824.7,1252.9 827.8,1252.8C830.8,1252.7 834.7,1253.2 837.9,1253.2C841.1,1253.1 845.5,1252.5 847.1,1252.4" fill="none" stroke="#f03030" stroke-width="1.35" stroke-linejoin="round" stroke-linecap="round" />
<path d="M96.6,1272.1C97.4,1270.4 99.8,1264.5 101.3,1261.9C102.7,1259.3 104,1256.8 105.3,1256.4C106.7,1256.1 107.7,1257.4 109.4,1259.9C111.1,1262.3 113.6,1268 115.5,1271.1C117.4,1274.1 118.5,1277.5 120.6,1278.2C122.6,1278.8 125.3,1276.4 127.7,1275.1C130.1,1273.9 132.8,1270.8 134.8,1270.7C136.8,1270.5 138.2,1273.3 139.9,1274.1C141.6,1274.9 143.3,1275.4 145,1275.5C146.7,1275.6 148.2,1274.6 150,1274.7C151.9,1274.8 153.9,1275.8 156.1,1276.1C158.3,1276.5 161.2,1278.6 163.3,1276.7C165.3,1274.9 166.6,1267.2 168.3,1265C170,1262.7 171.7,1264.3 173.4,1263.3C175.1,1262.3 177,1258.8 178.5,1258.9C180,1259 181.2,1262.9 182.6,1263.9C183.9,1265 184.9,1264 186.6,1265.4C188.3,1266.7 190.9,1270.1 192.7,1272.1C194.6,1274 195.8,1276.6 197.8,1277.2C199.8,1277.7 202.5,1276 204.9,1275.5C207.3,1275 210,1273.9 212,1274.1C214.1,1274.3 215.3,1274.9 217.1,1276.7C219,1278.6 221.2,1282 223.2,1285.3C225.2,1288.6 227.3,1293.8 229.3,1296.5C231.3,1299.1 233.4,1300.8 235.4,1301.1C237.4,1301.5 239.6,1299.4 241.5,1298.5C243.4,1297.5 244.6,1295.6 246.6,1295.4C248.6,1295.3 251.5,1296 253.7,1297.5C255.9,1299 257.8,1302.7 259.8,1304.6C261.8,1306.5 263.9,1307.7 265.9,1308.7C267.9,1309.6 270,1311.4 272,1310.1C274,1308.7 276.6,1302.1 278.1,1300.5C279.6,1298.9 279.2,1302.4 281.1,1300.5C283,1298.7 286.9,1290.9 289.2,1289.3C291.6,1287.8 293,1289.8 295.3,1291.4C297.7,1293 301.1,1297.4 303.5,1299.1C305.8,1300.8 307.2,1300.5 309.6,1301.5C311.9,1302.6 315.5,1304.9 317.7,1305.6C319.9,1306.4 321.1,1306.9 322.8,1306C324.5,1305.2 326.3,1301.6 327.8,1300.5C329.4,1299.4 330.4,1299.3 331.9,1299.5C333.4,1299.7 335.3,1300.5 337,1301.5C338.7,1302.6 340.2,1306.2 342.1,1306C343.9,1305.8 346.1,1304 348.2,1300.5C350.2,1297.1 352.2,1290 354.3,1285.3C356.3,1280.5 358,1276.3 360.4,1272.1C362.7,1267.8 366.1,1262.7 368.5,1259.9C370.9,1257.1 372.6,1255.6 374.6,1255.2C376.6,1254.8 378.8,1257 380.7,1257.2C382.6,1257.5 383.7,1257.7 385.8,1256.8C387.8,1255.9 390.7,1252.9 392.9,1251.7C395.1,1250.6 397.1,1249.8 399,1249.7C400.8,1249.6 402,1249.4 404.1,1251.1C406.1,1252.8 408.6,1256.9 411.2,1259.9C413.7,1262.9 416.8,1266.9 419.3,1269C421.8,1271.2 424.2,1272.2 426.4,1272.7C428.6,1273.2 430.7,1273.3 432.5,1272.1C434.4,1270.9 435.7,1267.9 437.6,1265.4C439.5,1262.8 442,1258.8 443.7,1256.8C445.4,1254.9 445.7,1254.1 447.8,1253.8C449.8,1253.4 453.5,1253.9 455.9,1254.8C458.3,1255.6 460,1257.7 462,1258.9C464,1260 466.6,1261.3 468.1,1261.9C469.6,1262.5 469.6,1262.2 471.1,1262.5C472.6,1262.9 474.8,1262.4 477.2,1263.9C479.6,1265.5 483,1269.9 485.3,1272.1C487.7,1274.2 489.7,1275.9 491.4,1276.7C493.1,1277.6 494,1277.4 495.5,1277.2C497,1276.9 498.5,1274.6 500.6,1275.1C502.6,1275.6 505.3,1278.5 507.7,1280.2C510.1,1281.9 512.4,1285.1 514.8,1285.3C517.2,1285.5 519.5,1282.6 521.9,1281.2C524.3,1279.8 526.8,1276.9 529,1276.7C531.2,1276.6 532.9,1277.4 535.1,1280.2C537.3,1283 540,1289.9 542.2,1293.4C544.4,1296.9 546.3,1300.5 548.3,1301.1C550.4,1301.7 552.2,1298.1 554.4,1297.1C556.6,1296.1 559.2,1295 561.5,1295C563.9,1295 566.1,1295.7 568.7,1297.1C571.2,1298.5 574.6,1303.3 576.8,1303.6C579,1303.8 580.2,1303.2 581.9,1298.5C583.6,1293.8 585.3,1281.6 587,1275.1C588.6,1268.7 590.4,1263.2 592,1259.9C593.7,1256.6 595.2,1254.9 596.7,1255.2C598.2,1255.5 599.1,1260.6 601.2,1261.9C603.3,1263.2 606.9,1264.1 609.3,1262.9C611.7,1261.7 613.2,1255.1 615.4,1254.8C617.6,1254.5 620.1,1258.4 622.5,1260.9C624.9,1263.4 627.1,1269.1 629.6,1270C632.2,1271 635.4,1267.1 637.8,1266.6C640.1,1266.1 641.5,1266.2 643.9,1267C646.2,1267.7 649.6,1270.2 652,1271.1C654.4,1271.9 655.9,1272.1 658.1,1272.1C660.3,1272.1 662.5,1271.2 665.2,1271.1C667.9,1271 671.6,1272.3 674.3,1271.5C677,1270.6 679.1,1268.1 681.4,1266C683.8,1263.9 686.2,1260.2 688.5,1258.9C690.9,1257.5 693.3,1258.6 695.7,1257.8C698,1257.1 700.6,1255.1 702.8,1254.4C705,1253.7 706.7,1253.1 708.9,1253.8C711.1,1254.5 713.1,1256.9 716,1258.5C718.9,1260 723.1,1262.7 726.1,1262.9C729.2,1263.2 731.9,1260.2 734.3,1259.9C736.6,1259.5 738.3,1260.1 740.4,1260.9C742.4,1261.7 744.4,1263.9 746.5,1264.6C748.5,1265.2 750.2,1265 752.6,1265C754.9,1265 758,1265.5 760.7,1264.6C763.4,1263.6 766.8,1260.3 768.8,1259.3C770.9,1258.3 771.2,1257.9 772.9,1258.5C774.6,1259 777,1261.8 779,1262.5C781,1263.3 782.7,1264.1 785.1,1262.9C787.5,1261.7 790.8,1256.6 793.2,1255.2C795.6,1253.8 797.1,1254.1 799.3,1254.4C801.5,1254.7 804.2,1256.8 806.4,1256.8C808.6,1256.9 810.3,1255.6 812.5,1254.8C814.7,1253.9 817.4,1252.1 819.6,1251.7C821.8,1251.4 823.7,1252.3 825.7,1252.8C827.8,1253.2 829.8,1254.5 831.8,1254.4C833.9,1254.3 835.4,1252.8 837.9,1252.4C840.5,1251.9 845.5,1251.8 847.1,1251.7" fill="none" stroke="#1c1c1c" stroke-width="1.75" stroke-linejoin="round" stroke-linecap="round" /></g>
<rect x="97.6" y="1242.6" width="226" height="10.6" fill="#fff" />
<text x="110.4" y="1252" font-size="8.8" fill="#111" font-family="'DejaVu Sans','Liberation Sans',sans-serif" textLength="172.7" lengthAdjust="spacingAndGlyphs" stroke="#111" stroke-width="0.22">Full STO %K(20,3) %D(3) 94.59</text>
<text x="283.1" y="1252" font-size="8.8" fill="#f03a3a" font-family="'DejaVu Sans','Liberation Sans',sans-serif" textLength="38.5" lengthAdjust="spacingAndGlyphs" stroke="#f03a3a" stroke-width="0.22">, 94.47</text>
<rect x="96.6" y="1242.6" width="69.3" height="12.6" fill="#c8c8c8" />
<text x="99.5" y="1252" font-size="8.8" fill="#444" font-family="'Liberation Sans',sans-serif" textLength="64" lengthAdjust="spacingAndGlyphs" stroke="#444" stroke-width="0.22">03 Jan Y:99.27</text>
<line x1="96.6" y1="1249.3" x2="853.8" y2="1249.3" stroke="#5a5aff" stroke-width="1.15" stroke-dasharray="9.5 3.2"/>
<line x1="96.6" y1="1311.9" x2="853.8" y2="1311.9" stroke="#5a5aff" stroke-width="1.15" stroke-dasharray="9.5 3.2"/>
<path d="M853.8,1252.2 L857.8,1248.5 L883.4,1248.5 L883.4,1256 L857.8,1256 Z" fill="#fff" stroke="#f03a3a" stroke-width="1.4"/>
<path d="M853.8,1251.1 L857.8,1246.9 L883.4,1246.9 L883.4,1255.2 L857.8,1255.2 Z" fill="#fff" stroke="#111" stroke-width="1.0"/><text x="858.8" y="1254.2" font-size="9.2" fill="#111" font-family="'Liberation Sans',sans-serif" textLength="23.1" lengthAdjust="spacingAndGlyphs" stroke="#111" stroke-width="0.22">94.59</text></g></g>
<line x1="569.5" y1="769.5" x2="766" y2="920.3" stroke="#4a7fc0" stroke-width="1.2"/>
<path d="M772.5,925.3 L759.8,921.6 L766.6,912.8 Z" fill="#4a7fc0"/>
</svg>
</body></html>
